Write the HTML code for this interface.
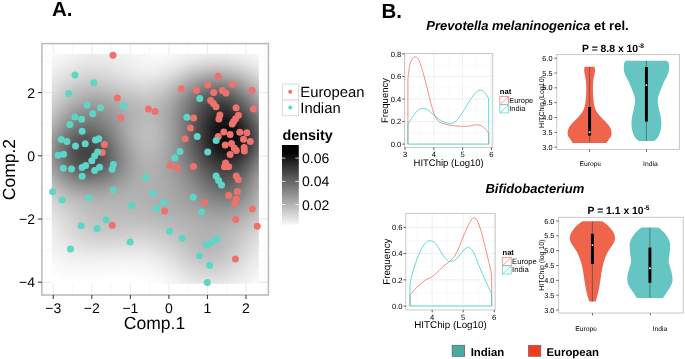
<!DOCTYPE html>
<html><head><meta charset="utf-8"><style>
html,body{margin:0;padding:0;background:#fff;width:685px;height:359px;overflow:hidden}
svg{display:block;will-change:transform}
text{font-family:"Liberation Sans",sans-serif;fill:#000;text-rendering:geometricPrecision}
</style></head><body>
<svg width="685" height="359" viewBox="0 0 685 359">
<defs><linearGradient id="cbg" x1="0" y1="1" x2="0" y2="0"><stop offset="0.00" stop-color="#f8f8f8"/><stop offset="0.10" stop-color="#dddddd"/><stop offset="0.20" stop-color="#c2c2c2"/><stop offset="0.30" stop-color="#a7a7a7"/><stop offset="0.40" stop-color="#8c8c8c"/><stop offset="0.50" stop-color="#717171"/><stop offset="0.60" stop-color="#565656"/><stop offset="0.70" stop-color="#3b3b3b"/><stop offset="0.80" stop-color="#1f1f1f"/><stop offset="0.90" stop-color="#040404"/><stop offset="1.00" stop-color="#000000"/></linearGradient>
<filter id="blr" x="0" y="0" width="1" height="1"><feGaussianBlur stdDeviation="1.6"/></filter>
<clipPath id="rclip"><rect x="51.77" y="53.70" width="207.07" height="229.94"/></clipPath>
</defs>
<rect width="685" height="359" fill="#fff"/>
<text x="52" y="16.2" font-size="20.5" font-weight="bold">A.</text>
<g><line x1="53.28" y1="43.6" x2="53.28" y2="295.0" stroke="#ebebeb" stroke-width="1"/>
<line x1="72.55" y1="43.6" x2="72.55" y2="295.0" stroke="#f2f2f2" stroke-width="0.6"/>
<line x1="91.82" y1="43.6" x2="91.82" y2="295.0" stroke="#ebebeb" stroke-width="1"/>
<line x1="111.09" y1="43.6" x2="111.09" y2="295.0" stroke="#f2f2f2" stroke-width="0.6"/>
<line x1="130.36" y1="43.6" x2="130.36" y2="295.0" stroke="#ebebeb" stroke-width="1"/>
<line x1="149.63" y1="43.6" x2="149.63" y2="295.0" stroke="#f2f2f2" stroke-width="0.6"/>
<line x1="168.90" y1="43.6" x2="168.90" y2="295.0" stroke="#ebebeb" stroke-width="1"/>
<line x1="188.17" y1="43.6" x2="188.17" y2="295.0" stroke="#f2f2f2" stroke-width="0.6"/>
<line x1="207.44" y1="43.6" x2="207.44" y2="295.0" stroke="#ebebeb" stroke-width="1"/>
<line x1="226.71" y1="43.6" x2="226.71" y2="295.0" stroke="#f2f2f2" stroke-width="0.6"/>
<line x1="245.98" y1="43.6" x2="245.98" y2="295.0" stroke="#ebebeb" stroke-width="1"/>
<line x1="265.25" y1="43.6" x2="265.25" y2="295.0" stroke="#f2f2f2" stroke-width="0.6"/>
<line x1="41.9" y1="282.20" x2="268.4" y2="282.20" stroke="#ebebeb" stroke-width="1"/>
<line x1="41.9" y1="250.60" x2="268.4" y2="250.60" stroke="#f2f2f2" stroke-width="0.6"/>
<line x1="41.9" y1="219.00" x2="268.4" y2="219.00" stroke="#ebebeb" stroke-width="1"/>
<line x1="41.9" y1="187.40" x2="268.4" y2="187.40" stroke="#f2f2f2" stroke-width="0.6"/>
<line x1="41.9" y1="155.80" x2="268.4" y2="155.80" stroke="#ebebeb" stroke-width="1"/>
<line x1="41.9" y1="124.20" x2="268.4" y2="124.20" stroke="#f2f2f2" stroke-width="0.6"/>
<line x1="41.9" y1="92.60" x2="268.4" y2="92.60" stroke="#ebebeb" stroke-width="1"/>
<line x1="41.9" y1="61.00" x2="268.4" y2="61.00" stroke="#f2f2f2" stroke-width="0.6"/></g>
<g clip-path="url(#rclip)"><g filter="url(#blr)" shape-rendering="crispEdges"><path fill="#070707" d="M225.8 134.7h3v3h-3z"/>
<path fill="#080808" d="M222.8 134.7h3v3h-3zM225.8 131.7h3v3h-3zM225.8 137.7h3v3h-3zM228.8 134.7h3v6h-3z"/>
<path fill="#090909" d="M222.8 131.7h3v3h-3zM222.8 137.7h3v3h-3zM228.8 131.7h3v3h-3z"/>
<path fill="#0a0a0a" d="M225.8 140.7h3v3h-3zM228.8 140.7h3v3h-3z"/>
<path fill="#0b0b0b" d="M219.8 134.7h3v3h-3zM222.8 128.7h3v3h-3zM222.8 140.7h3v3h-3zM225.8 128.7h3v3h-3zM231.8 134.7h3v6h-3z"/>
<path fill="#0c0c0c" d="M219.8 131.7h3v3h-3zM219.8 137.7h3v3h-3zM228.8 128.7h3v3h-3zM231.8 131.7h3v3h-3z"/>
<path fill="#0d0d0d" d="M225.8 143.7h3v3h-3zM228.8 143.7h3v3h-3zM231.8 140.7h3v3h-3z"/>
<path fill="#0e0e0e" d="M219.8 128.7h3v3h-3zM219.8 140.7h3v3h-3zM222.8 125.7h3v3h-3zM222.8 143.7h3v3h-3zM225.8 125.7h3v3h-3z"/>
<path fill="#0f0f0f" d="M231.8 128.7h3v3h-3z"/>
<path fill="#101010" d="M216.8 131.7h3v9h-3zM219.8 125.7h3v3h-3zM228.8 125.7h3v3h-3zM231.8 143.7h3v3h-3zM234.8 134.7h3v6h-3z"/>
<path fill="#111111" d="M219.8 143.7h3v3h-3zM225.8 146.7h3v3h-3zM234.8 131.7h3v3h-3z"/>
<path fill="#121212" d="M216.8 128.7h3v3h-3zM216.8 140.7h3v3h-3zM222.8 146.7h3v3h-3zM228.8 146.7h3v3h-3zM234.8 140.7h3v3h-3z"/>
<path fill="#131313" d="M222.8 122.7h3v3h-3zM225.8 122.7h3v3h-3zM231.8 125.7h3v3h-3z"/>
<path fill="#141414" d="M216.8 125.7h3v3h-3zM219.8 122.7h3v3h-3zM234.8 128.7h3v3h-3z"/>
<path fill="#151515" d="M213.8 134.7h3v3h-3zM216.8 143.7h3v3h-3zM219.8 146.7h3v3h-3zM228.8 122.7h3v3h-3zM231.8 146.7h3v3h-3zM234.8 143.7h3v3h-3z"/>
<path fill="#161616" d="M213.8 131.7h3v3h-3zM213.8 137.7h3v3h-3z"/>
<path fill="#171717" d="M213.8 128.7h3v3h-3zM216.8 122.7h3v3h-3zM225.8 149.7h3v3h-3zM237.8 134.7h3v6h-3z"/>
<path fill="#181818" d="M213.8 140.7h3v3h-3zM222.8 119.7h3v3h-3zM222.8 149.7h3v3h-3zM225.8 119.7h3v3h-3zM228.8 149.7h3v3h-3zM231.8 122.7h3v3h-3zM237.8 131.7h3v3h-3zM237.8 140.7h3v3h-3z"/>
<path fill="#191919" d="M213.8 125.7h3v3h-3zM216.8 146.7h3v3h-3zM219.8 119.7h3v3h-3zM234.8 125.7h3v3h-3zM234.8 146.7h3v3h-3z"/>
<path fill="#1a1a1a" d="M219.8 149.7h3v3h-3zM228.8 119.7h3v3h-3zM231.8 149.7h3v3h-3z"/>
<path fill="#1b1b1b" d="M213.8 143.7h3v3h-3zM237.8 128.7h3v3h-3zM237.8 143.7h3v3h-3z"/>
<path fill="#1c1c1c" d="M213.8 122.7h3v3h-3zM216.8 119.7h3v3h-3z"/>
<path fill="#1d1d1d" d="M210.8 131.7h3v6h-3zM222.8 116.7h3v3h-3zM225.8 152.7h3v3h-3z"/>
<path fill="#1e1e1e" d="M210.8 128.7h3v3h-3zM210.8 137.7h3v3h-3zM216.8 149.7h3v3h-3zM219.8 116.7h3v3h-3zM222.8 152.7h3v3h-3zM225.8 116.7h3v3h-3zM228.8 152.7h3v3h-3zM234.8 122.7h3v3h-3z"/>
<path fill="#1f1f1f" d="M210.8 140.7h3v3h-3zM213.8 146.7h3v3h-3zM231.8 119.7h3v3h-3zM234.8 149.7h3v3h-3zM240.8 134.7h3v6h-3z"/>
<path fill="#202020" d="M210.8 125.7h3v3h-3zM213.8 119.7h3v3h-3zM216.8 116.7h3v3h-3zM219.8 152.7h3v3h-3zM237.8 125.7h3v3h-3zM237.8 146.7h3v3h-3zM240.8 140.7h3v3h-3z"/>
<path fill="#212121" d="M228.8 116.7h3v3h-3zM231.8 152.7h3v3h-3zM240.8 131.7h3v3h-3z"/>
<path fill="#222222" d="M210.8 122.7h3v3h-3zM210.8 143.7h3v3h-3z"/>
<path fill="#232323" d="M222.8 113.7h3v3h-3zM240.8 143.7h3v3h-3z"/>
<path fill="#242424" d="M213.8 116.7h3v3h-3zM213.8 149.7h3v3h-3zM216.8 152.7h3v3h-3zM219.8 113.7h3v3h-3zM225.8 155.7h3v3h-3zM234.8 119.7h3v3h-3zM240.8 128.7h3v3h-3z"/>
<path fill="#252525" d="M207.8 131.7h3v6h-3zM210.8 119.7h3v3h-3zM216.8 113.7h3v3h-3zM222.8 155.7h3v3h-3zM225.8 113.7h3v3h-3zM228.8 155.7h3v3h-3zM231.8 116.7h3v3h-3zM237.8 122.7h3v3h-3zM237.8 149.7h3v3h-3z"/>
<path fill="#262626" d="M207.8 128.7h3v3h-3zM207.8 137.7h3v3h-3zM210.8 146.7h3v3h-3zM234.8 152.7h3v3h-3z"/>
<path fill="#272727" d="M207.8 125.7h3v3h-3zM219.8 155.7h3v3h-3z"/>
<path fill="#282828" d="M207.8 140.7h3v3h-3zM228.8 113.7h3v3h-3zM231.8 155.7h3v3h-3zM240.8 125.7h3v3h-3zM240.8 146.7h3v3h-3z"/>
<path fill="#292929" d="M207.8 122.7h3v3h-3zM210.8 116.7h3v3h-3zM213.8 113.7h3v3h-3zM213.8 152.7h3v3h-3zM243.8 134.7h3v6h-3z"/>
<path fill="#2a2a2a" d="M207.8 143.7h3v3h-3zM210.8 149.7h3v3h-3zM216.8 155.7h3v3h-3zM219.8 110.7h3v3h-3zM222.8 110.7h3v3h-3zM243.8 140.7h3v3h-3z"/>
<path fill="#2b2b2b" d="M216.8 110.7h3v3h-3zM225.8 158.7h3v3h-3zM234.8 116.7h3v3h-3zM243.8 131.7h3v3h-3z"/>
<path fill="#2c2c2c" d="M207.8 119.7h3v3h-3zM222.8 158.7h3v3h-3zM225.8 110.7h3v3h-3zM237.8 119.7h3v3h-3zM237.8 152.7h3v3h-3z"/>
<path fill="#2d2d2d" d="M210.8 113.7h3v3h-3zM228.8 158.7h3v3h-3zM231.8 113.7h3v3h-3zM234.8 155.7h3v3h-3zM243.8 143.7h3v3h-3z"/>
<path fill="#2e2e2e" d="M204.8 128.7h3v9h-3zM207.8 146.7h3v3h-3zM213.8 110.7h3v3h-3zM219.8 158.7h3v3h-3zM240.8 122.7h3v3h-3zM240.8 149.7h3v3h-3zM243.8 128.7h3v3h-3z"/>
<path fill="#2f2f2f" d="M204.8 137.7h3v3h-3zM207.8 116.7h3v3h-3zM213.8 155.7h3v3h-3zM228.8 110.7h3v3h-3z"/>
<path fill="#303030" d="M204.8 125.7h3v3h-3zM210.8 152.7h3v3h-3zM231.8 158.7h3v3h-3z"/>
<path fill="#313131" d="M204.8 140.7h3v3h-3zM216.8 158.7h3v3h-3zM219.8 107.7h3v3h-3zM222.8 107.7h3v3h-3z"/>
<path fill="#323232" d="M204.8 122.7h3v3h-3zM207.8 149.7h3v3h-3zM210.8 110.7h3v3h-3zM216.8 107.7h3v3h-3zM243.8 146.7h3v3h-3z"/>
<path fill="#333333" d="M204.8 143.7h3v3h-3zM207.8 113.7h3v3h-3zM222.8 161.7h3v3h-3zM225.8 107.7h3v3h-3zM225.8 161.7h3v3h-3zM234.8 113.7h3v3h-3zM237.8 116.7h3v3h-3zM237.8 155.7h3v3h-3zM243.8 125.7h3v3h-3z"/>
<path fill="#343434" d="M204.8 119.7h3v3h-3zM213.8 107.7h3v3h-3zM228.8 161.7h3v3h-3zM231.8 110.7h3v3h-3zM240.8 152.7h3v3h-3z"/>
<path fill="#353535" d="M210.8 155.7h3v3h-3zM213.8 158.7h3v3h-3zM219.8 161.7h3v3h-3zM234.8 158.7h3v3h-3zM240.8 119.7h3v3h-3zM246.8 134.7h3v6h-3z"/>
<path fill="#363636" d="M204.8 146.7h3v3h-3zM246.8 140.7h3v3h-3z"/>
<path fill="#373737" d="M201.8 131.7h3v3h-3zM204.8 116.7h3v3h-3zM207.8 152.7h3v3h-3zM228.8 107.7h3v3h-3zM231.8 161.7h3v3h-3zM243.8 149.7h3v3h-3zM246.8 131.7h3v3h-3z"/>
<path fill="#383838" d="M201.8 128.7h3v3h-3zM201.8 134.7h3v3h-3zM207.8 110.7h3v3h-3zM210.8 107.7h3v3h-3zM216.8 104.7h3v3h-3zM216.8 161.7h3v3h-3zM219.8 104.7h3v3h-3zM243.8 122.7h3v3h-3z"/>
<path fill="#393939" d="M201.8 125.7h3v3h-3zM201.8 137.7h3v3h-3zM222.8 104.7h3v3h-3zM246.8 143.7h3v3h-3z"/>
<path fill="#3a3a3a" d="M201.8 122.7h3v3h-3zM201.8 140.7h3v3h-3zM204.8 113.7h3v3h-3zM204.8 149.7h3v3h-3zM213.8 104.7h3v3h-3zM222.8 164.7h3v3h-3zM225.8 164.7h3v3h-3zM237.8 113.7h3v3h-3zM246.8 128.7h3v3h-3z"/>
<path fill="#3b3b3b" d="M210.8 158.7h3v3h-3zM219.8 164.7h3v3h-3zM225.8 104.7h3v3h-3zM234.8 110.7h3v3h-3zM237.8 158.7h3v3h-3zM240.8 155.7h3v3h-3z"/>
<path fill="#3c3c3c" d="M201.8 143.7h3v3h-3zM207.8 107.7h3v3h-3zM207.8 155.7h3v3h-3zM213.8 161.7h3v3h-3zM228.8 164.7h3v3h-3zM231.8 107.7h3v3h-3zM234.8 161.7h3v3h-3zM240.8 116.7h3v3h-3z"/>
<path fill="#3d3d3d" d="M201.8 119.7h3v3h-3zM210.8 104.7h3v3h-3zM246.8 146.7h3v3h-3z"/>
<path fill="#3e3e3e" d="M204.8 110.7h3v3h-3zM216.8 164.7h3v3h-3zM243.8 152.7h3v3h-3zM246.8 125.7h3v3h-3z"/>
<path fill="#3f3f3f" d="M201.8 116.7h3v3h-3zM201.8 146.7h3v3h-3zM204.8 152.7h3v3h-3zM228.8 104.7h3v3h-3zM231.8 164.7h3v3h-3zM243.8 119.7h3v3h-3z"/>
<path fill="#404040" d="M216.8 101.7h3v3h-3zM219.8 101.7h3v3h-3z"/>
<path fill="#414141" d="M207.8 158.7h3v3h-3zM210.8 161.7h3v3h-3zM213.8 101.7h3v3h-3zM222.8 101.7h3v3h-3zM222.8 167.7h3v3h-3zM225.8 167.7h3v3h-3zM249.8 137.7h3v3h-3z"/>
<path fill="#424242" d="M198.8 128.7h3v9h-3zM201.8 113.7h3v3h-3zM204.8 107.7h3v3h-3zM207.8 104.7h3v3h-3zM213.8 164.7h3v3h-3zM219.8 167.7h3v3h-3zM237.8 110.7h3v3h-3zM246.8 149.7h3v3h-3zM249.8 134.7h3v3h-3zM249.8 140.7h3v3h-3z"/>
<path fill="#434343" d="M84.8 149.7h3v6h-3zM87.8 152.7h3v3h-3zM198.8 125.7h3v3h-3zM198.8 137.7h3v3h-3zM201.8 149.7h3v3h-3zM204.8 155.7h3v3h-3zM228.8 167.7h3v3h-3zM234.8 107.7h3v3h-3zM237.8 161.7h3v3h-3zM240.8 113.7h3v3h-3zM240.8 158.7h3v3h-3zM249.8 131.7h3v3h-3z"/>
<path fill="#444444" d="M81.8 152.7h3v3h-3zM84.8 155.7h3v3h-3zM87.8 149.7h3v3h-3zM87.8 155.7h3v3h-3zM198.8 122.7h3v3h-3zM198.8 140.7h3v3h-3zM210.8 101.7h3v3h-3zM225.8 101.7h3v3h-3zM234.8 164.7h3v3h-3zM246.8 122.7h3v3h-3z"/>
<path fill="#454545" d="M81.8 149.7h3v3h-3zM81.8 155.7h3v3h-3zM90.8 149.7h3v9h-3zM201.8 110.7h3v3h-3zM216.8 167.7h3v3h-3zM231.8 104.7h3v3h-3zM243.8 155.7h3v3h-3zM249.8 143.7h3v3h-3z"/>
<path fill="#464646" d="M84.8 146.7h3v3h-3zM87.8 146.7h3v3h-3zM198.8 119.7h3v3h-3zM198.8 143.7h3v3h-3zM231.8 167.7h3v3h-3zM243.8 116.7h3v3h-3zM249.8 128.7h3v3h-3z"/>
<path fill="#474747" d="M78.8 149.7h3v6h-3zM81.8 146.7h3v3h-3zM84.8 158.7h3v3h-3zM87.8 158.7h3v3h-3zM201.8 152.7h3v3h-3zM204.8 104.7h3v3h-3zM207.8 161.7h3v3h-3zM210.8 164.7h3v3h-3z"/>
<path fill="#484848" d="M78.8 155.7h3v3h-3zM81.8 158.7h3v3h-3zM90.8 146.7h3v3h-3zM90.8 158.7h3v3h-3zM93.8 152.7h3v6h-3zM198.8 116.7h3v3h-3zM207.8 101.7h3v3h-3zM213.8 167.7h3v3h-3zM216.8 98.7h3v3h-3zM219.8 98.7h3v3h-3zM222.8 170.7h3v3h-3zM225.8 170.7h3v3h-3zM228.8 101.7h3v3h-3z"/>
<path fill="#494949" d="M78.8 146.7h3v3h-3zM84.8 143.7h3v3h-3zM93.8 149.7h3v3h-3zM198.8 146.7h3v3h-3zM201.8 107.7h3v3h-3zM204.8 158.7h3v3h-3zM213.8 98.7h3v3h-3zM219.8 170.7h3v3h-3zM246.8 152.7h3v3h-3zM249.8 146.7h3v3h-3z"/>
<path fill="#4a4a4a" d="M81.8 143.7h3v3h-3zM87.8 143.7h3v3h-3zM198.8 113.7h3v3h-3zM222.8 98.7h3v3h-3zM228.8 170.7h3v3h-3zM237.8 164.7h3v3h-3zM240.8 161.7h3v3h-3zM246.8 119.7h3v3h-3z"/>
<path fill="#4b4b4b" d="M75.8 152.7h3v3h-3zM78.8 158.7h3v3h-3zM84.8 161.7h3v3h-3zM87.8 161.7h3v3h-3zM93.8 146.7h3v3h-3zM93.8 158.7h3v3h-3zM201.8 155.7h3v3h-3zM216.8 170.7h3v3h-3zM234.8 104.7h3v3h-3zM234.8 167.7h3v3h-3zM237.8 107.7h3v3h-3zM240.8 110.7h3v3h-3zM249.8 125.7h3v3h-3z"/>
<path fill="#4c4c4c" d="M75.8 149.7h3v3h-3zM90.8 143.7h3v3h-3zM90.8 161.7h3v3h-3zM96.8 152.7h3v3h-3zM195.8 128.7h3v9h-3zM198.8 149.7h3v3h-3zM210.8 98.7h3v3h-3zM243.8 158.7h3v3h-3z"/>
<path fill="#4d4d4d" d="M75.8 146.7h3v3h-3zM75.8 155.7h3v3h-3zM78.8 143.7h3v3h-3zM81.8 161.7h3v3h-3zM96.8 149.7h3v3h-3zM96.8 155.7h3v3h-3zM195.8 125.7h3v3h-3zM195.8 137.7h3v3h-3zM198.8 110.7h3v3h-3zM204.8 101.7h3v3h-3zM207.8 164.7h3v3h-3zM210.8 167.7h3v3h-3zM225.8 98.7h3v3h-3zM231.8 170.7h3v3h-3zM243.8 113.7h3v3h-3z"/>
<path fill="#4e4e4e" d="M84.8 140.7h3v3h-3zM87.8 140.7h3v3h-3zM195.8 122.7h3v3h-3zM195.8 140.7h3v3h-3zM201.8 104.7h3v3h-3zM204.8 161.7h3v3h-3zM222.8 173.7h3v3h-3zM231.8 101.7h3v3h-3zM249.8 149.7h3v3h-3z"/>
<path fill="#4f4f4f" d="M81.8 140.7h3v3h-3zM93.8 143.7h3v3h-3zM93.8 161.7h3v3h-3zM96.8 158.7h3v3h-3zM195.8 119.7h3v3h-3zM207.8 98.7h3v3h-3zM213.8 170.7h3v3h-3zM219.8 173.7h3v3h-3zM225.8 173.7h3v3h-3zM246.8 155.7h3v3h-3zM252.8 134.7h3v6h-3z"/>
<path fill="#505050" d="M75.8 158.7h3v3h-3zM78.8 161.7h3v3h-3zM90.8 140.7h3v3h-3zM96.8 146.7h3v3h-3zM195.8 143.7h3v3h-3zM198.8 152.7h3v3h-3zM201.8 158.7h3v3h-3zM249.8 122.7h3v3h-3zM252.8 140.7h3v3h-3z"/>
<path fill="#515151" d="M72.8 149.7h3v6h-3zM75.8 143.7h3v3h-3zM78.8 140.7h3v3h-3zM87.8 164.7h3v3h-3zM195.8 116.7h3v3h-3zM198.8 107.7h3v3h-3zM216.8 95.7h3v3h-3zM216.8 173.7h3v3h-3zM228.8 98.7h3v3h-3zM228.8 173.7h3v3h-3zM237.8 167.7h3v3h-3zM246.8 116.7h3v3h-3zM252.8 131.7h3v3h-3z"/>
<path fill="#525252" d="M72.8 155.7h3v3h-3zM84.8 164.7h3v3h-3zM90.8 164.7h3v3h-3zM99.8 152.7h3v6h-3zM195.8 146.7h3v3h-3zM213.8 95.7h3v3h-3zM219.8 95.7h3v3h-3zM234.8 170.7h3v3h-3zM240.8 164.7h3v3h-3z"/>
<path fill="#535353" d="M72.8 146.7h3v3h-3zM81.8 164.7h3v3h-3zM84.8 137.7h3v3h-3zM96.8 161.7h3v3h-3zM99.8 149.7h3v3h-3zM195.8 113.7h3v3h-3zM201.8 101.7h3v3h-3zM204.8 164.7h3v3h-3zM207.8 167.7h3v3h-3zM210.8 170.7h3v3h-3zM237.8 104.7h3v3h-3zM252.8 143.7h3v3h-3z"/>
<path fill="#545454" d="M75.8 161.7h3v3h-3zM81.8 137.7h3v3h-3zM87.8 137.7h3v3h-3zM93.8 140.7h3v3h-3zM96.8 143.7h3v3h-3zM99.8 158.7h3v3h-3zM198.8 155.7h3v3h-3zM204.8 98.7h3v3h-3zM210.8 95.7h3v3h-3zM222.8 95.7h3v3h-3zM231.8 173.7h3v3h-3zM234.8 101.7h3v3h-3zM240.8 107.7h3v3h-3zM243.8 161.7h3v3h-3zM249.8 152.7h3v3h-3zM252.8 128.7h3v3h-3z"/>
<path fill="#555555" d="M72.8 158.7h3v3h-3zM75.8 140.7h3v3h-3zM93.8 164.7h3v3h-3zM195.8 149.7h3v3h-3zM198.8 104.7h3v3h-3zM201.8 161.7h3v3h-3zM213.8 173.7h3v3h-3zM219.8 176.7h3v3h-3zM222.8 176.7h3v3h-3zM225.8 176.7h3v3h-3zM243.8 110.7h3v3h-3z"/>
<path fill="#565656" d="M72.8 143.7h3v3h-3zM78.8 137.7h3v3h-3zM78.8 164.7h3v3h-3zM90.8 137.7h3v3h-3zM99.8 146.7h3v3h-3zM192.8 131.7h3v3h-3zM195.8 110.7h3v3h-3zM249.8 119.7h3v3h-3zM252.8 146.7h3v3h-3z"/>
<path fill="#575757" d="M192.8 125.7h3v6h-3zM192.8 134.7h3v6h-3zM207.8 95.7h3v3h-3zM225.8 95.7h3v3h-3zM228.8 176.7h3v3h-3zM231.8 98.7h3v3h-3zM246.8 158.7h3v3h-3z"/>
<path fill="#585858" d="M69.8 149.7h3v6h-3zM96.8 140.7h3v3h-3zM96.8 164.7h3v3h-3zM99.8 161.7h3v3h-3zM192.8 122.7h3v3h-3zM192.8 140.7h3v3h-3zM195.8 152.7h3v3h-3zM198.8 158.7h3v3h-3zM207.8 170.7h3v3h-3zM216.8 176.7h3v3h-3zM237.8 170.7h3v3h-3zM246.8 113.7h3v3h-3zM252.8 125.7h3v3h-3z"/>
<path fill="#595959" d="M69.8 146.7h3v3h-3zM69.8 155.7h3v3h-3zM84.8 134.7h3v3h-3zM87.8 167.7h3v3h-3zM93.8 137.7h3v3h-3zM99.8 143.7h3v3h-3zM102.8 152.7h3v6h-3zM192.8 119.7h3v3h-3zM195.8 107.7h3v3h-3zM204.8 167.7h3v3h-3zM210.8 173.7h3v3h-3zM234.8 173.7h3v3h-3zM240.8 167.7h3v3h-3z"/>
<path fill="#5a5a5a" d="M72.8 140.7h3v3h-3zM72.8 161.7h3v3h-3zM75.8 137.7h3v3h-3zM75.8 164.7h3v3h-3zM81.8 134.7h3v3h-3zM84.8 167.7h3v3h-3zM87.8 134.7h3v3h-3zM90.8 167.7h3v3h-3zM102.8 149.7h3v3h-3zM102.8 158.7h3v3h-3zM192.8 143.7h3v3h-3zM198.8 101.7h3v3h-3zM201.8 98.7h3v3h-3zM201.8 164.7h3v3h-3zM231.8 176.7h3v3h-3z"/>
<path fill="#5b5b5b" d="M81.8 167.7h3v3h-3zM192.8 116.7h3v3h-3zM213.8 176.7h3v3h-3zM216.8 92.7h3v3h-3zM222.8 179.7h3v3h-3zM225.8 179.7h3v3h-3zM228.8 95.7h3v3h-3zM243.8 164.7h3v3h-3zM249.8 155.7h3v3h-3zM252.8 149.7h3v3h-3z"/>
<path fill="#5c5c5c" d="M69.8 143.7h3v3h-3zM69.8 158.7h3v3h-3zM90.8 134.7h3v3h-3zM93.8 167.7h3v3h-3zM192.8 146.7h3v3h-3zM195.8 155.7h3v3h-3zM204.8 95.7h3v3h-3zM213.8 92.7h3v3h-3zM219.8 92.7h3v3h-3zM219.8 179.7h3v3h-3zM237.8 101.7h3v3h-3zM240.8 104.7h3v3h-3z"/>
<path fill="#5d5d5d" d="M78.8 134.7h3v3h-3zM96.8 137.7h3v3h-3zM99.8 164.7h3v3h-3zM102.8 146.7h3v3h-3zM192.8 113.7h3v3h-3zM195.8 104.7h3v3h-3zM198.8 161.7h3v3h-3zM210.8 92.7h3v3h-3zM228.8 179.7h3v3h-3zM234.8 98.7h3v3h-3zM243.8 107.7h3v3h-3zM249.8 116.7h3v3h-3zM252.8 122.7h3v3h-3zM255.8 134.7h3v6h-3zM258.8 134.7h3v6h-3zM261.8 134.7h3v6h-3z"/>
<path fill="#5e5e5e" d="M78.8 167.7h3v3h-3zM99.8 140.7h3v3h-3zM102.8 161.7h3v3h-3zM192.8 149.7h3v3h-3zM204.8 170.7h3v3h-3zM207.8 173.7h3v3h-3zM216.8 179.7h3v3h-3zM222.8 92.7h3v3h-3zM246.8 161.7h3v3h-3zM255.8 140.7h3v3h-3zM258.8 140.7h3v3h-3zM261.8 140.7h3v3h-3z"/>
<path fill="#5f5f5f" d="M72.8 137.7h3v3h-3zM93.8 134.7h3v3h-3zM96.8 167.7h3v3h-3zM192.8 110.7h3v3h-3zM201.8 167.7h3v3h-3zM210.8 176.7h3v3h-3zM234.8 176.7h3v3h-3zM237.8 173.7h3v3h-3zM255.8 131.7h3v3h-3zM258.8 131.7h3v3h-3zM261.8 131.7h3v3h-3z"/>
<path fill="#606060" d="M66.8 149.7h3v6h-3zM69.8 140.7h3v3h-3zM69.8 161.7h3v3h-3zM72.8 164.7h3v3h-3zM75.8 134.7h3v3h-3zM84.8 131.7h3v3h-3zM87.8 131.7h3v3h-3zM102.8 143.7h3v3h-3zM105.8 152.7h3v6h-3zM195.8 158.7h3v3h-3zM198.8 98.7h3v3h-3zM207.8 92.7h3v3h-3zM213.8 179.7h3v3h-3zM231.8 179.7h3v3h-3zM240.8 170.7h3v3h-3zM246.8 110.7h3v3h-3zM255.8 143.7h3v3h-3zM258.8 143.7h3v3h-3zM261.8 143.7h3v3h-3z"/>
<path fill="#616161" d="M66.8 146.7h3v3h-3zM66.8 155.7h3v3h-3zM81.8 131.7h3v3h-3zM189.8 125.7h3v12h-3zM192.8 152.7h3v3h-3zM198.8 164.7h3v3h-3zM201.8 95.7h3v3h-3zM222.8 182.7h3v3h-3zM225.8 92.7h3v3h-3zM225.8 182.7h3v3h-3zM231.8 95.7h3v3h-3zM252.8 152.7h3v3h-3z"/>
<path fill="#626262" d="M75.8 167.7h3v3h-3zM87.8 170.7h3v3h-3zM90.8 131.7h3v3h-3zM102.8 164.7h3v3h-3zM105.8 149.7h3v3h-3zM105.8 158.7h3v3h-3zM189.8 122.7h3v3h-3zM189.8 137.7h3v3h-3zM192.8 107.7h3v3h-3zM195.8 101.7h3v3h-3zM219.8 182.7h3v3h-3zM243.8 167.7h3v3h-3zM249.8 158.7h3v3h-3zM255.8 128.7h3v3h-3zM258.8 128.7h3v3h-3zM261.8 128.7h3v3h-3z"/>
<path fill="#636363" d="M78.8 131.7h3v3h-3zM84.8 170.7h3v3h-3zM90.8 170.7h3v3h-3zM96.8 134.7h3v3h-3zM99.8 137.7h3v3h-3zM99.8 167.7h3v3h-3zM189.8 119.7h3v3h-3zM189.8 140.7h3v3h-3zM207.8 176.7h3v3h-3zM216.8 182.7h3v3h-3zM228.8 182.7h3v3h-3zM252.8 119.7h3v3h-3z"/>
<path fill="#646464" d="M66.8 143.7h3v3h-3zM66.8 158.7h3v3h-3zM81.8 170.7h3v3h-3zM93.8 170.7h3v3h-3zM105.8 146.7h3v3h-3zM105.8 161.7h3v3h-3zM189.8 116.7h3v3h-3zM189.8 143.7h3v3h-3zM192.8 155.7h3v3h-3zM195.8 161.7h3v3h-3zM201.8 170.7h3v3h-3zM204.8 92.7h3v3h-3zM204.8 173.7h3v3h-3zM210.8 179.7h3v3h-3zM249.8 113.7h3v3h-3zM255.8 146.7h3v3h-3zM258.8 146.7h3v3h-3zM261.8 146.7h3v3h-3z"/>
<path fill="#656565" d="M69.8 137.7h3v3h-3zM72.8 134.7h3v3h-3zM93.8 131.7h3v3h-3zM102.8 140.7h3v3h-3zM189.8 146.7h3v3h-3zM228.8 92.7h3v3h-3zM234.8 179.7h3v3h-3zM237.8 98.7h3v3h-3zM237.8 176.7h3v3h-3zM240.8 101.7h3v3h-3zM246.8 164.7h3v3h-3z"/>
<path fill="#666666" d="M69.8 164.7h3v3h-3zM189.8 113.7h3v3h-3zM192.8 104.7h3v3h-3zM198.8 167.7h3v3h-3zM213.8 89.7h3v3h-3zM213.8 182.7h3v3h-3zM216.8 89.7h3v3h-3zM231.8 182.7h3v3h-3zM240.8 173.7h3v3h-3zM243.8 104.7h3v3h-3zM255.8 125.7h3v3h-3zM258.8 125.7h3v3h-3zM261.8 125.7h3v3h-3z"/>
<path fill="#676767" d="M72.8 167.7h3v3h-3zM75.8 131.7h3v3h-3zM78.8 170.7h3v3h-3zM84.8 128.7h3v3h-3zM87.8 128.7h3v3h-3zM96.8 170.7h3v3h-3zM189.8 149.7h3v3h-3zM195.8 98.7h3v3h-3zM198.8 95.7h3v3h-3zM219.8 89.7h3v3h-3zM222.8 185.7h3v3h-3zM225.8 185.7h3v3h-3zM234.8 95.7h3v3h-3z"/>
<path fill="#686868" d="M63.8 149.7h3v6h-3zM66.8 140.7h3v3h-3zM66.8 161.7h3v3h-3zM81.8 128.7h3v3h-3zM90.8 128.7h3v3h-3zM99.8 134.7h3v3h-3zM102.8 167.7h3v3h-3zM105.8 143.7h3v3h-3zM108.8 155.7h3v3h-3zM189.8 110.7h3v3h-3zM192.8 158.7h3v3h-3zM210.8 89.7h3v3h-3zM219.8 185.7h3v3h-3zM243.8 170.7h3v3h-3zM246.8 107.7h3v3h-3zM252.8 155.7h3v3h-3z"/>
<path fill="#696969" d="M96.8 131.7h3v3h-3zM102.8 137.7h3v3h-3zM105.8 164.7h3v3h-3zM108.8 152.7h3v3h-3zM108.8 158.7h3v3h-3zM195.8 164.7h3v3h-3zM201.8 92.7h3v3h-3zM201.8 173.7h3v3h-3zM204.8 176.7h3v3h-3zM207.8 179.7h3v3h-3zM216.8 185.7h3v3h-3zM222.8 89.7h3v3h-3zM228.8 185.7h3v3h-3zM249.8 161.7h3v3h-3zM255.8 149.7h3v3h-3zM258.8 149.7h3v3h-3zM261.8 149.7h3v3h-3z"/>
<path fill="#6a6a6a" d="M63.8 146.7h3v3h-3zM63.8 155.7h3v3h-3zM78.8 128.7h3v3h-3zM108.8 149.7h3v3h-3zM189.8 152.7h3v3h-3zM192.8 101.7h3v3h-3zM207.8 89.7h3v3h-3zM210.8 182.7h3v3h-3zM234.8 182.7h3v3h-3zM237.8 179.7h3v3h-3zM252.8 116.7h3v3h-3z"/>
<path fill="#6b6b6b" d="M69.8 134.7h3v3h-3zM72.8 131.7h3v3h-3zM75.8 170.7h3v3h-3zM93.8 128.7h3v3h-3zM99.8 170.7h3v3h-3zM186.8 128.7h3v9h-3zM189.8 107.7h3v3h-3zM198.8 170.7h3v3h-3zM231.8 92.7h3v3h-3zM249.8 110.7h3v3h-3zM255.8 122.7h3v3h-3zM258.8 122.7h3v3h-3zM261.8 122.7h3v3h-3z"/>
<path fill="#6c6c6c" d="M63.8 143.7h3v3h-3zM63.8 158.7h3v3h-3zM66.8 137.7h3v3h-3zM84.8 173.7h3v3h-3zM87.8 173.7h3v3h-3zM90.8 173.7h3v3h-3zM105.8 140.7h3v3h-3zM108.8 161.7h3v3h-3zM186.8 122.7h3v6h-3zM186.8 137.7h3v6h-3zM192.8 161.7h3v3h-3zM213.8 185.7h3v3h-3zM225.8 89.7h3v3h-3zM231.8 185.7h3v3h-3zM240.8 176.7h3v3h-3zM246.8 167.7h3v3h-3z"/>
<path fill="#6d6d6d" d="M66.8 164.7h3v3h-3zM69.8 167.7h3v3h-3zM75.8 128.7h3v3h-3zM84.8 125.7h3v3h-3zM87.8 125.7h3v3h-3zM108.8 146.7h3v3h-3zM186.8 119.7h3v3h-3zM186.8 143.7h3v3h-3zM189.8 155.7h3v3h-3zM195.8 167.7h3v3h-3zM222.8 188.7h3v3h-3z"/>
<path fill="#6e6e6e" d="M81.8 125.7h3v3h-3zM81.8 173.7h3v3h-3zM93.8 173.7h3v3h-3zM99.8 131.7h3v3h-3zM102.8 134.7h3v3h-3zM105.8 167.7h3v3h-3zM186.8 116.7h3v3h-3zM189.8 104.7h3v3h-3zM195.8 95.7h3v3h-3zM201.8 176.7h3v3h-3zM204.8 89.7h3v3h-3zM204.8 179.7h3v3h-3zM207.8 182.7h3v3h-3zM219.8 188.7h3v3h-3zM225.8 188.7h3v3h-3zM240.8 98.7h3v3h-3zM243.8 101.7h3v3h-3zM243.8 173.7h3v3h-3zM252.8 158.7h3v3h-3zM255.8 152.7h3v3h-3zM258.8 152.7h3v3h-3zM261.8 152.7h3v3h-3z"/>
<path fill="#6f6f6f" d="M72.8 170.7h3v3h-3zM90.8 125.7h3v3h-3zM96.8 128.7h3v3h-3zM186.8 113.7h3v3h-3zM186.8 146.7h3v3h-3zM192.8 98.7h3v3h-3zM198.8 92.7h3v3h-3zM210.8 185.7h3v3h-3zM216.8 188.7h3v3h-3zM228.8 188.7h3v3h-3zM237.8 95.7h3v3h-3z"/>
<path fill="#707070" d="M63.8 140.7h3v3h-3zM63.8 161.7h3v3h-3zM78.8 173.7h3v3h-3zM96.8 173.7h3v3h-3zM102.8 170.7h3v3h-3zM108.8 143.7h3v3h-3zM108.8 164.7h3v3h-3zM186.8 149.7h3v3h-3zM189.8 158.7h3v3h-3zM192.8 164.7h3v3h-3zM198.8 173.7h3v3h-3zM228.8 89.7h3v3h-3zM234.8 185.7h3v3h-3zM237.8 182.7h3v3h-3zM246.8 104.7h3v3h-3zM249.8 164.7h3v3h-3zM252.8 113.7h3v3h-3zM255.8 119.7h3v3h-3zM258.8 119.7h3v3h-3zM261.8 119.7h3v3h-3z"/>
<path fill="#717171" d="M69.8 131.7h3v3h-3zM78.8 125.7h3v3h-3zM93.8 125.7h3v3h-3zM105.8 137.7h3v3h-3zM111.8 155.7h3v3h-3zM186.8 110.7h3v3h-3zM195.8 170.7h3v3h-3zM216.8 86.7h3v3h-3zM234.8 92.7h3v3h-3zM240.8 179.7h3v3h-3z"/>
<path fill="#727272" d="M60.8 149.7h3v6h-3zM66.8 134.7h3v3h-3zM72.8 128.7h3v3h-3zM111.8 152.7h3v3h-3zM111.8 158.7h3v3h-3zM186.8 152.7h3v3h-3zM189.8 101.7h3v3h-3zM201.8 89.7h3v3h-3zM213.8 86.7h3v3h-3zM213.8 188.7h3v3h-3zM219.8 86.7h3v3h-3zM231.8 188.7h3v3h-3zM246.8 170.7h3v3h-3z"/>
<path fill="#737373" d="M60.8 146.7h3v3h-3zM60.8 155.7h3v3h-3zM99.8 128.7h3v3h-3zM99.8 173.7h3v3h-3zM111.8 149.7h3v3h-3zM189.8 161.7h3v3h-3zM201.8 179.7h3v3h-3zM204.8 182.7h3v3h-3zM207.8 185.7h3v3h-3zM210.8 86.7h3v3h-3zM222.8 191.7h3v3h-3zM249.8 107.7h3v3h-3z"/>
<path fill="#747474" d="M63.8 137.7h3v3h-3zM66.8 167.7h3v3h-3zM75.8 125.7h3v3h-3zM75.8 173.7h3v3h-3zM84.8 122.7h3v3h-3zM87.8 122.7h3v3h-3zM96.8 125.7h3v3h-3zM102.8 131.7h3v3h-3zM108.8 140.7h3v3h-3zM108.8 167.7h3v3h-3zM111.8 161.7h3v3h-3zM186.8 107.7h3v3h-3zM192.8 167.7h3v3h-3zM198.8 176.7h3v3h-3zM219.8 191.7h3v3h-3zM222.8 86.7h3v3h-3zM225.8 191.7h3v3h-3zM243.8 176.7h3v3h-3zM255.8 155.7h3v3h-3zM258.8 155.7h3v3h-3zM261.8 155.7h3v3h-3z"/>
<path fill="#757575" d="M60.8 143.7h3v3h-3zM69.8 170.7h3v3h-3zM81.8 122.7h3v3h-3zM90.8 122.7h3v3h-3zM105.8 134.7h3v3h-3zM105.8 170.7h3v3h-3zM183.8 128.7h3v9h-3zM186.8 155.7h3v3h-3zM192.8 95.7h3v3h-3zM195.8 92.7h3v3h-3zM207.8 86.7h3v3h-3zM210.8 188.7h3v3h-3zM216.8 191.7h3v3h-3zM228.8 191.7h3v3h-3zM231.8 89.7h3v3h-3zM237.8 185.7h3v3h-3zM252.8 161.7h3v3h-3z"/>
<path fill="#767676" d="M60.8 158.7h3v3h-3zM63.8 164.7h3v3h-3zM87.8 176.7h3v3h-3zM90.8 176.7h3v3h-3zM111.8 146.7h3v3h-3zM183.8 122.7h3v6h-3zM183.8 137.7h3v6h-3zM195.8 173.7h3v3h-3zM234.8 188.7h3v3h-3zM249.8 167.7h3v3h-3zM255.8 116.7h3v3h-3zM258.8 116.7h3v3h-3zM261.8 116.7h3v3h-3z"/>
<path fill="#777777" d="M69.8 128.7h3v3h-3zM84.8 176.7h3v3h-3zM93.8 122.7h3v3h-3zM102.8 173.7h3v3h-3zM111.8 164.7h3v3h-3zM183.8 116.7h3v6h-3zM183.8 143.7h3v3h-3zM186.8 104.7h3v3h-3zM186.8 158.7h3v3h-3zM189.8 98.7h3v3h-3zM189.8 164.7h3v3h-3zM213.8 191.7h3v3h-3zM240.8 95.7h3v3h-3zM240.8 182.7h3v3h-3zM243.8 98.7h3v3h-3zM252.8 110.7h3v3h-3z"/>
<path fill="#787878" d="M66.8 131.7h3v3h-3zM72.8 173.7h3v3h-3zM78.8 122.7h3v3h-3zM81.8 176.7h3v3h-3zM93.8 176.7h3v3h-3zM99.8 125.7h3v3h-3zM108.8 137.7h3v3h-3zM183.8 146.7h3v3h-3zM192.8 170.7h3v3h-3zM198.8 89.7h3v3h-3zM201.8 182.7h3v3h-3zM204.8 86.7h3v3h-3zM204.8 185.7h3v3h-3zM207.8 188.7h3v3h-3zM225.8 86.7h3v3h-3zM231.8 191.7h3v3h-3zM237.8 92.7h3v3h-3zM246.8 101.7h3v3h-3zM246.8 173.7h3v3h-3z"/>
<path fill="#797979" d="M60.8 140.7h3v3h-3zM60.8 161.7h3v3h-3zM63.8 134.7h3v3h-3zM72.8 125.7h3v3h-3zM102.8 128.7h3v3h-3zM111.8 143.7h3v3h-3zM183.8 113.7h3v3h-3zM183.8 149.7h3v3h-3zM198.8 179.7h3v3h-3zM243.8 179.7h3v3h-3z"/>
<path fill="#7a7a7a" d="M78.8 176.7h3v3h-3zM87.8 119.7h3v3h-3zM96.8 122.7h3v3h-3zM96.8 176.7h3v3h-3zM105.8 131.7h3v3h-3zM108.8 170.7h3v3h-3zM114.8 155.7h3v6h-3zM183.8 110.7h3v3h-3zM186.8 161.7h3v3h-3zM189.8 167.7h3v3h-3zM195.8 176.7h3v3h-3zM210.8 191.7h3v3h-3zM219.8 194.7h3v3h-3zM222.8 194.7h3v3h-3zM225.8 194.7h3v3h-3zM255.8 158.7h3v3h-3zM258.8 158.7h3v3h-3zM261.8 158.7h3v3h-3z"/>
<path fill="#7b7b7b" d="M75.8 122.7h3v3h-3zM84.8 119.7h3v3h-3zM90.8 119.7h3v3h-3zM111.8 167.7h3v3h-3zM114.8 152.7h3v3h-3zM183.8 152.7h3v3h-3zM186.8 101.7h3v3h-3zM216.8 194.7h3v3h-3zM237.8 188.7h3v3h-3zM249.8 104.7h3v3h-3zM252.8 164.7h3v3h-3z"/>
<path fill="#7c7c7c" d="M57.8 149.7h3v6h-3zM63.8 167.7h3v3h-3zM66.8 170.7h3v3h-3zM81.8 119.7h3v3h-3zM93.8 119.7h3v3h-3zM99.8 176.7h3v3h-3zM105.8 173.7h3v3h-3zM114.8 149.7h3v3h-3zM114.8 161.7h3v3h-3zM192.8 92.7h3v3h-3zM192.8 173.7h3v3h-3zM201.8 185.7h3v3h-3zM228.8 86.7h3v3h-3zM228.8 194.7h3v3h-3zM234.8 89.7h3v3h-3zM234.8 191.7h3v3h-3zM240.8 185.7h3v3h-3zM249.8 170.7h3v3h-3z"/>
<path fill="#7d7d7d" d="M57.8 146.7h3v3h-3zM57.8 155.7h3v3h-3zM60.8 137.7h3v3h-3zM99.8 122.7h3v3h-3zM102.8 125.7h3v3h-3zM108.8 134.7h3v3h-3zM111.8 140.7h3v3h-3zM183.8 107.7h3v3h-3zM183.8 155.7h3v3h-3zM189.8 95.7h3v3h-3zM198.8 182.7h3v3h-3zM201.8 86.7h3v3h-3zM204.8 188.7h3v3h-3zM213.8 194.7h3v3h-3zM246.8 176.7h3v3h-3zM255.8 113.7h3v3h-3zM258.8 113.7h3v3h-3zM261.8 113.7h3v3h-3z"/>
<path fill="#7e7e7e" d="M60.8 164.7h3v3h-3zM66.8 128.7h3v3h-3zM69.8 125.7h3v3h-3zM69.8 173.7h3v3h-3zM75.8 176.7h3v3h-3zM78.8 119.7h3v3h-3zM105.8 128.7h3v3h-3zM114.8 164.7h3v3h-3zM186.8 164.7h3v3h-3zM189.8 170.7h3v3h-3zM195.8 89.7h3v3h-3zM195.8 179.7h3v3h-3zM207.8 191.7h3v3h-3zM213.8 83.7h3v3h-3zM216.8 83.7h3v3h-3zM231.8 194.7h3v3h-3zM243.8 182.7h3v3h-3zM252.8 107.7h3v3h-3z"/>
<path fill="#7f7f7f" d="M57.8 143.7h3v3h-3zM57.8 158.7h3v3h-3zM63.8 131.7h3v3h-3zM72.8 122.7h3v3h-3zM96.8 119.7h3v3h-3zM114.8 146.7h3v3h-3zM180.8 122.7h3v21h-3zM183.8 158.7h3v3h-3zM186.8 98.7h3v3h-3zM210.8 83.7h3v3h-3zM219.8 83.7h3v3h-3z"/>
<path fill="#808080" d="M87.8 116.7h3v3h-3zM87.8 179.7h3v3h-3zM102.8 176.7h3v3h-3zM111.8 170.7h3v3h-3zM180.8 119.7h3v3h-3zM180.8 143.7h3v6h-3zM183.8 104.7h3v3h-3zM192.8 176.7h3v3h-3zM210.8 194.7h3v3h-3zM219.8 197.7h3v3h-3zM222.8 197.7h3v3h-3zM237.8 191.7h3v3h-3zM240.8 92.7h3v3h-3zM243.8 95.7h3v3h-3zM246.8 98.7h3v3h-3z"/>
<path fill="#818181" d="M84.8 116.7h3v3h-3zM84.8 179.7h3v3h-3zM90.8 116.7h3v3h-3zM90.8 179.7h3v3h-3zM108.8 131.7h3v3h-3zM108.8 173.7h3v3h-3zM111.8 137.7h3v3h-3zM180.8 116.7h3v3h-3zM180.8 149.7h3v3h-3zM183.8 161.7h3v3h-3zM186.8 167.7h3v3h-3zM198.8 185.7h3v3h-3zM201.8 188.7h3v3h-3zM204.8 191.7h3v3h-3zM207.8 83.7h3v3h-3zM222.8 83.7h3v3h-3zM225.8 197.7h3v3h-3zM231.8 86.7h3v3h-3zM234.8 194.7h3v3h-3zM240.8 188.7h3v3h-3zM252.8 167.7h3v3h-3zM255.8 161.7h3v3h-3zM258.8 161.7h3v3h-3zM261.8 161.7h3v3h-3z"/>
<path fill="#828282" d="M57.8 140.7h3v3h-3zM60.8 134.7h3v3h-3zM72.8 176.7h3v3h-3zM75.8 119.7h3v3h-3zM81.8 179.7h3v3h-3zM93.8 116.7h3v3h-3zM93.8 179.7h3v3h-3zM99.8 119.7h3v3h-3zM102.8 122.7h3v3h-3zM114.8 143.7h3v3h-3zM114.8 167.7h3v3h-3zM180.8 113.7h3v3h-3zM189.8 173.7h3v3h-3zM195.8 182.7h3v3h-3zM198.8 86.7h3v3h-3zM216.8 197.7h3v3h-3zM228.8 197.7h3v3h-3zM237.8 89.7h3v3h-3zM246.8 179.7h3v3h-3zM249.8 101.7h3v3h-3zM249.8 173.7h3v3h-3z"/>
<path fill="#838383" d="M57.8 161.7h3v3h-3zM63.8 170.7h3v3h-3zM81.8 116.7h3v3h-3zM96.8 179.7h3v3h-3zM105.8 125.7h3v3h-3zM117.8 155.7h3v6h-3zM180.8 110.7h3v3h-3zM180.8 152.7h3v3h-3zM183.8 101.7h3v3h-3zM207.8 194.7h3v3h-3zM213.8 197.7h3v3h-3zM243.8 185.7h3v3h-3zM255.8 110.7h3v3h-3zM258.8 110.7h3v3h-3zM261.8 110.7h3v3h-3z"/>
<path fill="#848484" d="M60.8 167.7h3v3h-3zM66.8 125.7h3v3h-3zM66.8 173.7h3v3h-3zM96.8 116.7h3v3h-3zM105.8 176.7h3v3h-3zM111.8 134.7h3v3h-3zM117.8 152.7h3v3h-3zM117.8 161.7h3v3h-3zM180.8 155.7h3v3h-3zM183.8 164.7h3v3h-3zM186.8 170.7h3v3h-3zM189.8 92.7h3v3h-3zM192.8 89.7h3v3h-3zM192.8 179.7h3v3h-3zM204.8 83.7h3v3h-3zM225.8 83.7h3v3h-3zM231.8 197.7h3v3h-3z"/>
<path fill="#858585" d="M63.8 128.7h3v3h-3zM69.8 122.7h3v3h-3zM78.8 116.7h3v3h-3zM78.8 179.7h3v3h-3zM108.8 128.7h3v3h-3zM114.8 140.7h3v3h-3zM117.8 149.7h3v3h-3zM180.8 107.7h3v3h-3zM186.8 95.7h3v3h-3zM198.8 188.7h3v3h-3zM201.8 191.7h3v3h-3z"/>
<path fill="#868686" d="M54.8 149.7h3v6h-3zM57.8 137.7h3v3h-3zM72.8 119.7h3v3h-3zM99.8 179.7h3v3h-3zM102.8 119.7h3v3h-3zM111.8 173.7h3v3h-3zM117.8 164.7h3v3h-3zM180.8 158.7h3v3h-3zM189.8 176.7h3v3h-3zM195.8 185.7h3v3h-3zM204.8 194.7h3v3h-3zM210.8 197.7h3v3h-3zM234.8 86.7h3v3h-3zM237.8 194.7h3v3h-3zM240.8 191.7h3v3h-3zM246.8 182.7h3v3h-3zM249.8 176.7h3v3h-3zM252.8 104.7h3v3h-3z"/>
<path fill="#878787" d="M54.8 146.7h3v3h-3zM54.8 155.7h3v3h-3zM57.8 164.7h3v3h-3zM60.8 131.7h3v3h-3zM69.8 176.7h3v3h-3zM84.8 113.7h3v3h-3zM87.8 113.7h3v3h-3zM90.8 113.7h3v3h-3zM99.8 116.7h3v3h-3zM105.8 122.7h3v3h-3zM114.8 170.7h3v3h-3zM183.8 98.7h3v3h-3zM183.8 167.7h3v3h-3zM192.8 182.7h3v3h-3zM195.8 86.7h3v3h-3zM219.8 200.7h3v3h-3zM222.8 200.7h3v3h-3zM225.8 200.7h3v3h-3zM228.8 83.7h3v3h-3zM234.8 197.7h3v3h-3zM252.8 170.7h3v3h-3zM255.8 164.7h3v3h-3zM258.8 164.7h3v3h-3zM261.8 164.7h3v3h-3z"/>
<path fill="#888888" d="M75.8 116.7h3v3h-3zM75.8 179.7h3v3h-3zM93.8 113.7h3v3h-3zM102.8 179.7h3v3h-3zM108.8 176.7h3v3h-3zM111.8 131.7h3v3h-3zM117.8 146.7h3v3h-3zM177.8 122.7h3v24h-3zM180.8 104.7h3v3h-3zM180.8 161.7h3v3h-3zM186.8 173.7h3v3h-3zM201.8 83.7h3v3h-3zM207.8 197.7h3v3h-3zM216.8 200.7h3v3h-3zM228.8 200.7h3v3h-3zM243.8 188.7h3v3h-3z"/>
<path fill="#898989" d="M54.8 143.7h3v3h-3zM54.8 158.7h3v3h-3zM81.8 113.7h3v3h-3zM96.8 113.7h3v3h-3zM108.8 125.7h3v3h-3zM114.8 137.7h3v3h-3zM117.8 167.7h3v3h-3zM177.8 116.7h3v6h-3zM177.8 146.7h3v6h-3zM189.8 179.7h3v3h-3zM213.8 200.7h3v3h-3zM243.8 92.7h3v3h-3zM246.8 95.7h3v3h-3z"/>
<path fill="#8a8a8a" d="M63.8 173.7h3v3h-3zM102.8 116.7h3v3h-3zM105.8 119.7h3v3h-3zM177.8 113.7h3v3h-3zM177.8 152.7h3v3h-3zM180.8 164.7h3v3h-3zM183.8 170.7h3v3h-3zM195.8 188.7h3v3h-3zM198.8 191.7h3v3h-3zM201.8 194.7h3v3h-3zM213.8 80.7h3v3h-3zM216.8 80.7h3v3h-3zM240.8 89.7h3v3h-3zM249.8 98.7h3v3h-3zM255.8 107.7h3v3h-3zM258.8 107.7h3v3h-3zM261.8 107.7h3v3h-3z"/>
<path fill="#8b8b8b" d="M57.8 134.7h3v3h-3zM60.8 170.7h3v3h-3zM63.8 125.7h3v3h-3zM66.8 122.7h3v3h-3zM69.8 119.7h3v3h-3zM72.8 179.7h3v3h-3zM84.8 182.7h3v3h-3zM87.8 182.7h3v3h-3zM90.8 182.7h3v3h-3zM93.8 182.7h3v3h-3zM117.8 143.7h3v3h-3zM120.8 155.7h3v6h-3zM177.8 155.7h3v3h-3zM180.8 101.7h3v3h-3zM186.8 92.7h3v3h-3zM186.8 176.7h3v3h-3zM189.8 89.7h3v3h-3zM192.8 185.7h3v3h-3zM204.8 197.7h3v3h-3zM210.8 80.7h3v3h-3zM210.8 200.7h3v3h-3zM219.8 80.7h3v3h-3zM231.8 200.7h3v3h-3zM240.8 194.7h3v3h-3zM246.8 185.7h3v3h-3zM249.8 179.7h3v3h-3z"/>
<path fill="#8c8c8c" d="M54.8 140.7h3v3h-3zM66.8 176.7h3v3h-3zM78.8 113.7h3v3h-3zM99.8 113.7h3v3h-3zM105.8 179.7h3v3h-3zM108.8 122.7h3v3h-3zM111.8 128.7h3v3h-3zM114.8 134.7h3v3h-3zM114.8 173.7h3v3h-3zM120.8 152.7h3v3h-3zM120.8 161.7h3v3h-3zM177.8 110.7h3v3h-3zM189.8 182.7h3v3h-3zM198.8 83.7h3v3h-3zM231.8 83.7h3v3h-3zM237.8 197.7h3v3h-3zM243.8 191.7h3v3h-3zM252.8 173.7h3v3h-3zM255.8 167.7h3v3h-3zM258.8 167.7h3v3h-3zM261.8 167.7h3v3h-3z"/>
<path fill="#8d8d8d" d="M54.8 161.7h3v3h-3zM57.8 167.7h3v3h-3zM60.8 128.7h3v3h-3zM72.8 116.7h3v3h-3zM81.8 182.7h3v3h-3zM87.8 110.7h3v3h-3zM90.8 110.7h3v3h-3zM93.8 110.7h3v3h-3zM96.8 182.7h3v3h-3zM111.8 176.7h3v3h-3zM117.8 170.7h3v3h-3zM120.8 164.7h3v3h-3zM177.8 107.7h3v3h-3zM177.8 158.7h3v3h-3zM180.8 167.7h3v3h-3zM183.8 95.7h3v3h-3zM183.8 173.7h3v3h-3zM192.8 86.7h3v3h-3zM207.8 80.7h3v3h-3zM219.8 203.7h3v3h-3zM222.8 80.7h3v3h-3zM222.8 203.7h3v3h-3zM237.8 86.7h3v3h-3zM252.8 101.7h3v3h-3z"/>
<path fill="#8e8e8e" d="M84.8 110.7h3v3h-3zM96.8 110.7h3v3h-3zM99.8 182.7h3v3h-3zM105.8 116.7h3v3h-3zM117.8 140.7h3v3h-3zM120.8 149.7h3v3h-3zM177.8 161.7h3v3h-3zM186.8 179.7h3v3h-3zM192.8 188.7h3v3h-3zM195.8 191.7h3v3h-3zM198.8 194.7h3v3h-3zM201.8 197.7h3v3h-3zM207.8 200.7h3v3h-3zM216.8 203.7h3v3h-3zM225.8 203.7h3v3h-3zM234.8 200.7h3v3h-3z"/>
<path fill="#8f8f8f" d="M75.8 113.7h3v3h-3zM78.8 182.7h3v3h-3zM81.8 110.7h3v3h-3zM102.8 113.7h3v3h-3zM108.8 119.7h3v3h-3zM108.8 179.7h3v3h-3zM111.8 125.7h3v3h-3zM180.8 98.7h3v3h-3zM213.8 203.7h3v3h-3zM228.8 203.7h3v3h-3zM246.8 188.7h3v3h-3zM249.8 182.7h3v3h-3z"/>
<path fill="#909090" d="M54.8 137.7h3v3h-3zM57.8 131.7h3v3h-3zM69.8 179.7h3v3h-3zM99.8 110.7h3v3h-3zM114.8 131.7h3v3h-3zM120.8 167.7h3v3h-3zM177.8 104.7h3v3h-3zM177.8 164.7h3v3h-3zM180.8 170.7h3v3h-3zM183.8 176.7h3v3h-3zM189.8 185.7h3v3h-3zM204.8 80.7h3v3h-3zM204.8 200.7h3v3h-3zM225.8 80.7h3v3h-3zM240.8 197.7h3v3h-3z"/>
<path fill="#919191" d="M51.8 149.7h3v6h-3zM54.8 164.7h3v3h-3zM63.8 122.7h3v3h-3zM66.8 119.7h3v3h-3zM75.8 182.7h3v3h-3zM102.8 182.7h3v3h-3zM114.8 176.7h3v3h-3zM117.8 137.7h3v3h-3zM117.8 173.7h3v3h-3zM120.8 146.7h3v3h-3zM174.8 116.7h3v39h-3zM186.8 182.7h3v3h-3zM195.8 83.7h3v3h-3zM195.8 194.7h3v3h-3zM210.8 203.7h3v3h-3zM231.8 203.7h3v3h-3zM237.8 200.7h3v3h-3zM243.8 194.7h3v3h-3zM246.8 92.7h3v3h-3zM252.8 176.7h3v3h-3zM255.8 104.7h3v3h-3zM258.8 104.7h3v3h-3zM261.8 104.7h3v3h-3z"/>
<path fill="#929292" d="M51.8 146.7h3v3h-3zM51.8 155.7h3v3h-3zM60.8 173.7h3v3h-3zM63.8 176.7h3v3h-3zM69.8 116.7h3v3h-3zM78.8 110.7h3v3h-3zM90.8 107.7h3v3h-3zM105.8 113.7h3v3h-3zM111.8 122.7h3v3h-3zM114.8 128.7h3v3h-3zM174.8 113.7h3v3h-3zM174.8 155.7h3v3h-3zM177.8 167.7h3v3h-3zM180.8 173.7h3v3h-3zM186.8 89.7h3v3h-3zM192.8 191.7h3v3h-3zM198.8 197.7h3v3h-3zM234.8 83.7h3v3h-3zM243.8 89.7h3v3h-3zM249.8 95.7h3v3h-3zM255.8 170.7h3v3h-3zM258.8 170.7h3v3h-3zM261.8 170.7h3v3h-3z"/>
<path fill="#939393" d="M48.8 149.7h3v6h-3zM57.8 170.7h3v3h-3zM60.8 125.7h3v3h-3zM72.8 113.7h3v3h-3zM87.8 107.7h3v3h-3zM93.8 107.7h3v3h-3zM102.8 110.7h3v3h-3zM105.8 182.7h3v3h-3zM108.8 116.7h3v3h-3zM111.8 179.7h3v3h-3zM120.8 143.7h3v3h-3zM120.8 170.7h3v3h-3zM123.8 155.7h3v9h-3zM174.8 110.7h3v3h-3zM174.8 158.7h3v3h-3zM177.8 101.7h3v3h-3zM183.8 92.7h3v3h-3zM183.8 179.7h3v3h-3zM189.8 188.7h3v3h-3zM201.8 80.7h3v3h-3zM201.8 200.7h3v3h-3zM207.8 203.7h3v3h-3zM219.8 206.7h3v3h-3zM222.8 206.7h3v3h-3zM246.8 191.7h3v3h-3zM249.8 185.7h3v3h-3z"/>
<path fill="#949494" d="M48.8 146.7h3v3h-3zM48.8 155.7h3v3h-3zM51.8 143.7h3v3h-3zM51.8 158.7h3v3h-3zM54.8 134.7h3v3h-3zM84.8 107.7h3v3h-3zM87.8 185.7h3v3h-3zM90.8 185.7h3v3h-3zM93.8 185.7h3v3h-3zM96.8 107.7h3v3h-3zM111.8 119.7h3v3h-3zM117.8 134.7h3v3h-3zM123.8 164.7h3v3h-3zM174.8 161.7h3v3h-3zM180.8 95.7h3v3h-3zM186.8 185.7h3v3h-3zM189.8 86.7h3v3h-3zM216.8 206.7h3v3h-3zM225.8 206.7h3v3h-3zM228.8 80.7h3v3h-3zM234.8 203.7h3v3h-3zM240.8 86.7h3v3h-3zM252.8 98.7h3v3h-3z"/>
<path fill="#959595" d="M57.8 128.7h3v3h-3zM66.8 179.7h3v3h-3zM72.8 182.7h3v3h-3zM75.8 110.7h3v3h-3zM84.8 185.7h3v3h-3zM96.8 185.7h3v3h-3zM99.8 107.7h3v3h-3zM114.8 125.7h3v3h-3zM123.8 152.7h3v3h-3zM174.8 107.7h3v3h-3zM177.8 170.7h3v3h-3zM180.8 176.7h3v3h-3zM183.8 182.7h3v3h-3zM189.8 191.7h3v3h-3zM192.8 194.7h3v3h-3zM195.8 197.7h3v3h-3zM204.8 203.7h3v3h-3zM213.8 206.7h3v3h-3zM228.8 206.7h3v3h-3zM252.8 179.7h3v3h-3z"/>
<path fill="#969696" d="M48.8 143.7h3v3h-3zM48.8 158.7h3v3h-3zM51.8 140.7h3v3h-3zM54.8 167.7h3v3h-3zM81.8 107.7h3v3h-3zM81.8 185.7h3v3h-3zM105.8 110.7h3v3h-3zM108.8 113.7h3v3h-3zM108.8 182.7h3v3h-3zM117.8 176.7h3v3h-3zM120.8 140.7h3v3h-3zM120.8 173.7h3v3h-3zM123.8 149.7h3v3h-3zM123.8 167.7h3v3h-3zM174.8 164.7h3v3h-3zM186.8 188.7h3v3h-3zM198.8 200.7h3v3h-3zM210.8 206.7h3v3h-3zM240.8 200.7h3v3h-3zM243.8 197.7h3v3h-3zM255.8 173.7h3v3h-3zM258.8 173.7h3v3h-3zM261.8 173.7h3v3h-3z"/>
<path fill="#979797" d="M51.8 161.7h3v3h-3zM99.8 185.7h3v3h-3zM111.8 116.7h3v3h-3zM114.8 122.7h3v3h-3zM114.8 179.7h3v3h-3zM117.8 131.7h3v3h-3zM174.8 167.7h3v3h-3zM177.8 98.7h3v3h-3zM177.8 173.7h3v3h-3zM180.8 179.7h3v3h-3zM192.8 83.7h3v3h-3zM198.8 80.7h3v3h-3zM201.8 203.7h3v3h-3zM213.8 77.7h3v3h-3zM216.8 77.7h3v3h-3zM231.8 206.7h3v3h-3zM237.8 203.7h3v3h-3zM249.8 188.7h3v3h-3zM255.8 101.7h3v3h-3zM258.8 101.7h3v3h-3zM261.8 101.7h3v3h-3z"/>
<path fill="#989898" d="M48.8 140.7h3v3h-3zM48.8 161.7h3v3h-3zM63.8 119.7h3v3h-3zM66.8 116.7h3v3h-3zM69.8 113.7h3v3h-3zM78.8 107.7h3v3h-3zM78.8 185.7h3v3h-3zM90.8 104.7h3v3h-3zM102.8 107.7h3v3h-3zM123.8 170.7h3v3h-3zM171.8 143.7h3v15h-3zM174.8 104.7h3v3h-3zM183.8 185.7h3v3h-3zM189.8 194.7h3v3h-3zM192.8 197.7h3v3h-3zM207.8 206.7h3v3h-3zM210.8 77.7h3v3h-3zM219.8 77.7h3v3h-3zM231.8 80.7h3v3h-3zM237.8 83.7h3v3h-3zM246.8 194.7h3v3h-3z"/>
<path fill="#999999" d="M54.8 131.7h3v3h-3zM57.8 173.7h3v3h-3zM60.8 122.7h3v3h-3zM60.8 176.7h3v3h-3zM69.8 182.7h3v3h-3zM87.8 104.7h3v3h-3zM93.8 104.7h3v3h-3zM96.8 104.7h3v3h-3zM102.8 185.7h3v3h-3zM108.8 110.7h3v3h-3zM117.8 128.7h3v3h-3zM120.8 137.7h3v3h-3zM123.8 146.7h3v3h-3zM171.8 116.7h3v27h-3zM171.8 158.7h3v3h-3zM174.8 170.7h3v3h-3zM177.8 176.7h3v3h-3zM180.8 182.7h3v3h-3zM186.8 191.7h3v3h-3zM195.8 200.7h3v3h-3zM219.8 209.7h3v3h-3zM222.8 209.7h3v3h-3zM252.8 182.7h3v3h-3z"/>
<path fill="#9a9a9a" d="M51.8 137.7h3v3h-3zM51.8 164.7h3v3h-3zM63.8 179.7h3v3h-3zM72.8 110.7h3v3h-3zM84.8 104.7h3v3h-3zM105.8 107.7h3v3h-3zM111.8 113.7h3v3h-3zM111.8 182.7h3v3h-3zM114.8 119.7h3v3h-3zM126.8 158.7h3v9h-3zM171.8 113.7h3v3h-3zM171.8 161.7h3v3h-3zM180.8 92.7h3v3h-3zM183.8 89.7h3v3h-3zM183.8 188.7h3v3h-3zM186.8 86.7h3v3h-3zM198.8 203.7h3v3h-3zM204.8 206.7h3v3h-3zM207.8 77.7h3v3h-3zM213.8 209.7h3v3h-3zM216.8 209.7h3v3h-3zM222.8 77.7h3v3h-3zM225.8 209.7h3v3h-3zM234.8 206.7h3v3h-3zM246.8 89.7h3v3h-3zM249.8 92.7h3v3h-3z"/>
<path fill="#9b9b9b" d="M54.8 170.7h3v3h-3zM57.8 125.7h3v3h-3zM75.8 185.7h3v3h-3zM99.8 104.7h3v3h-3zM105.8 185.7h3v3h-3zM117.8 125.7h3v3h-3zM117.8 179.7h3v3h-3zM120.8 176.7h3v3h-3zM123.8 143.7h3v3h-3zM123.8 173.7h3v3h-3zM126.8 155.7h3v3h-3zM171.8 110.7h3v3h-3zM171.8 164.7h3v3h-3zM174.8 101.7h3v3h-3zM174.8 173.7h3v3h-3zM177.8 179.7h3v3h-3zM180.8 185.7h3v3h-3zM186.8 194.7h3v3h-3zM189.8 197.7h3v3h-3zM192.8 200.7h3v3h-3zM210.8 209.7h3v3h-3zM228.8 209.7h3v3h-3zM240.8 203.7h3v3h-3zM243.8 86.7h3v3h-3zM243.8 200.7h3v3h-3zM249.8 191.7h3v3h-3zM255.8 176.7h3v3h-3zM258.8 176.7h3v3h-3zM261.8 176.7h3v3h-3z"/>
<path fill="#9c9c9c" d="M48.8 137.7h3v3h-3zM48.8 164.7h3v3h-3zM75.8 107.7h3v3h-3zM81.8 104.7h3v3h-3zM114.8 116.7h3v3h-3zM120.8 134.7h3v3h-3zM126.8 152.7h3v3h-3zM126.8 167.7h3v3h-3zM171.8 107.7h3v3h-3zM171.8 167.7h3v3h-3zM177.8 95.7h3v3h-3zM183.8 191.7h3v3h-3zM195.8 80.7h3v3h-3zM195.8 203.7h3v3h-3zM201.8 206.7h3v3h-3zM204.8 77.7h3v3h-3zM225.8 77.7h3v3h-3zM246.8 197.7h3v3h-3zM252.8 95.7h3v3h-3zM252.8 185.7h3v3h-3z"/>
<path fill="#9d9d9d" d="M66.8 182.7h3v3h-3zM87.8 188.7h3v3h-3zM90.8 188.7h3v3h-3zM93.8 188.7h3v3h-3zM102.8 104.7h3v3h-3zM108.8 107.7h3v3h-3zM108.8 185.7h3v3h-3zM111.8 110.7h3v3h-3zM114.8 182.7h3v3h-3zM117.8 122.7h3v3h-3zM174.8 176.7h3v3h-3zM177.8 182.7h3v3h-3zM180.8 188.7h3v3h-3zM189.8 83.7h3v3h-3zM207.8 209.7h3v3h-3zM231.8 209.7h3v3h-3zM234.8 80.7h3v3h-3zM237.8 206.7h3v3h-3z"/>
<path fill="#9e9e9e" d="M51.8 134.7h3v3h-3zM54.8 128.7h3v3h-3zM63.8 116.7h3v3h-3zM66.8 113.7h3v3h-3zM69.8 110.7h3v3h-3zM72.8 185.7h3v3h-3zM84.8 188.7h3v3h-3zM96.8 188.7h3v3h-3zM114.8 113.7h3v3h-3zM120.8 131.7h3v3h-3zM123.8 140.7h3v3h-3zM126.8 149.7h3v3h-3zM126.8 170.7h3v3h-3zM168.8 149.7h3v12h-3zM171.8 104.7h3v3h-3zM171.8 170.7h3v3h-3zM174.8 98.7h3v3h-3zM183.8 194.7h3v3h-3zM186.8 197.7h3v3h-3zM189.8 200.7h3v3h-3zM198.8 206.7h3v3h-3zM204.8 209.7h3v3h-3zM240.8 83.7h3v3h-3zM255.8 98.7h3v3h-3zM255.8 179.7h3v3h-3zM258.8 98.7h3v3h-3zM258.8 179.7h3v3h-3zM261.8 98.7h3v3h-3zM261.8 179.7h3v3h-3z"/>
<path fill="#9f9f9f" d="M48.8 134.7h3v3h-3zM51.8 167.7h3v3h-3zM60.8 119.7h3v3h-3zM78.8 104.7h3v3h-3zM81.8 188.7h3v3h-3zM87.8 101.7h3v3h-3zM90.8 101.7h3v3h-3zM93.8 101.7h3v3h-3zM96.8 101.7h3v3h-3zM99.8 188.7h3v3h-3zM105.8 104.7h3v3h-3zM117.8 119.7h3v3h-3zM120.8 179.7h3v3h-3zM123.8 176.7h3v3h-3zM168.8 143.7h3v6h-3zM168.8 161.7h3v6h-3zM171.8 173.7h3v3h-3zM174.8 179.7h3v3h-3zM177.8 185.7h3v3h-3zM180.8 191.7h3v3h-3zM192.8 203.7h3v3h-3zM201.8 77.7h3v3h-3zM213.8 212.7h3v3h-3zM216.8 212.7h3v3h-3zM219.8 212.7h3v3h-3zM222.8 212.7h3v3h-3zM249.8 194.7h3v3h-3z"/>
<path fill="#a0a0a0" d="M48.8 167.7h3v3h-3zM57.8 176.7h3v3h-3zM60.8 179.7h3v3h-3zM72.8 107.7h3v3h-3zM84.8 101.7h3v3h-3zM99.8 101.7h3v3h-3zM102.8 188.7h3v3h-3zM111.8 107.7h3v3h-3zM111.8 185.7h3v3h-3zM117.8 116.7h3v3h-3zM117.8 182.7h3v3h-3zM120.8 128.7h3v3h-3zM123.8 137.7h3v3h-3zM126.8 146.7h3v3h-3zM126.8 173.7h3v3h-3zM129.8 158.7h3v9h-3zM168.8 113.7h3v30h-3zM168.8 167.7h3v3h-3zM174.8 182.7h3v3h-3zM177.8 188.7h3v3h-3zM183.8 197.7h3v3h-3zM186.8 200.7h3v3h-3zM195.8 206.7h3v3h-3zM201.8 209.7h3v3h-3zM210.8 212.7h3v3h-3zM225.8 212.7h3v3h-3zM228.8 77.7h3v3h-3zM234.8 209.7h3v3h-3zM243.8 203.7h3v3h-3zM252.8 188.7h3v3h-3z"/>
<path fill="#a1a1a1" d="M54.8 173.7h3v3h-3zM57.8 122.7h3v3h-3zM69.8 185.7h3v3h-3zM78.8 188.7h3v3h-3zM105.8 188.7h3v3h-3zM114.8 110.7h3v3h-3zM120.8 125.7h3v3h-3zM129.8 155.7h3v3h-3zM129.8 167.7h3v3h-3zM168.8 110.7h3v3h-3zM171.8 101.7h3v3h-3zM171.8 176.7h3v3h-3zM177.8 92.7h3v3h-3zM180.8 89.7h3v3h-3zM180.8 194.7h3v3h-3zM183.8 86.7h3v3h-3zM189.8 203.7h3v3h-3zM192.8 80.7h3v3h-3zM207.8 212.7h3v3h-3zM228.8 212.7h3v3h-3zM240.8 206.7h3v3h-3zM246.8 200.7h3v3h-3z"/>
<path fill="#a2a2a2" d="M51.8 131.7h3v3h-3zM63.8 182.7h3v3h-3zM75.8 104.7h3v3h-3zM81.8 101.7h3v3h-3zM102.8 101.7h3v3h-3zM108.8 104.7h3v3h-3zM114.8 185.7h3v3h-3zM117.8 113.7h3v3h-3zM123.8 179.7h3v3h-3zM129.8 170.7h3v3h-3zM168.8 170.7h3v3h-3zM171.8 179.7h3v3h-3zM174.8 185.7h3v3h-3zM177.8 191.7h3v3h-3zM180.8 197.7h3v3h-3zM183.8 200.7h3v3h-3zM192.8 206.7h3v3h-3zM198.8 209.7h3v3h-3zM204.8 212.7h3v3h-3zM237.8 80.7h3v3h-3zM249.8 89.7h3v3h-3zM255.8 182.7h3v3h-3zM258.8 182.7h3v3h-3zM261.8 182.7h3v3h-3z"/>
<path fill="#a3a3a3" d="M54.8 125.7h3v3h-3zM75.8 188.7h3v3h-3zM108.8 188.7h3v3h-3zM120.8 122.7h3v3h-3zM120.8 182.7h3v3h-3zM123.8 134.7h3v3h-3zM126.8 143.7h3v3h-3zM126.8 176.7h3v3h-3zM129.8 152.7h3v3h-3zM165.8 155.7h3v9h-3zM168.8 107.7h3v3h-3zM168.8 173.7h3v3h-3zM171.8 182.7h3v3h-3zM174.8 95.7h3v3h-3zM174.8 188.7h3v3h-3zM177.8 194.7h3v3h-3zM186.8 83.7h3v3h-3zM186.8 203.7h3v3h-3zM195.8 209.7h3v3h-3zM198.8 77.7h3v3h-3zM231.8 212.7h3v3h-3zM237.8 209.7h3v3h-3zM246.8 86.7h3v3h-3zM249.8 197.7h3v3h-3zM252.8 92.7h3v3h-3zM252.8 191.7h3v3h-3z"/>
<path fill="#a4a4a4" d="M48.8 131.7h3v3h-3zM51.8 170.7h3v3h-3zM63.8 113.7h3v3h-3zM66.8 110.7h3v3h-3zM69.8 107.7h3v3h-3zM90.8 191.7h3v3h-3zM93.8 191.7h3v3h-3zM105.8 101.7h3v3h-3zM111.8 104.7h3v3h-3zM114.8 107.7h3v3h-3zM117.8 110.7h3v3h-3zM120.8 119.7h3v3h-3zM129.8 173.7h3v3h-3zM165.8 149.7h3v6h-3zM165.8 164.7h3v6h-3zM168.8 176.7h3v3h-3zM171.8 185.7h3v3h-3zM174.8 191.7h3v3h-3zM177.8 197.7h3v3h-3zM180.8 200.7h3v3h-3zM189.8 206.7h3v3h-3zM201.8 212.7h3v3h-3zM210.8 215.7h3v3h-3zM213.8 74.7h3v3h-3zM213.8 215.7h3v3h-3zM216.8 74.7h3v3h-3zM216.8 215.7h3v3h-3zM219.8 215.7h3v3h-3zM222.8 215.7h3v3h-3zM231.8 77.7h3v3h-3z"/>
<path fill="#a5a5a5" d="M48.8 170.7h3v3h-3zM60.8 116.7h3v3h-3zM66.8 185.7h3v3h-3zM78.8 101.7h3v3h-3zM87.8 98.7h3v3h-3zM87.8 191.7h3v3h-3zM90.8 98.7h3v3h-3zM93.8 98.7h3v3h-3zM96.8 98.7h3v3h-3zM96.8 191.7h3v3h-3zM99.8 191.7h3v3h-3zM111.8 188.7h3v3h-3zM117.8 185.7h3v3h-3zM120.8 116.7h3v3h-3zM123.8 131.7h3v3h-3zM126.8 140.7h3v3h-3zM126.8 179.7h3v3h-3zM129.8 149.7h3v3h-3zM132.8 161.7h3v6h-3zM165.8 146.7h3v3h-3zM165.8 170.7h3v3h-3zM168.8 104.7h3v3h-3zM168.8 179.7h3v3h-3zM171.8 98.7h3v3h-3zM171.8 188.7h3v3h-3zM174.8 194.7h3v3h-3zM183.8 203.7h3v3h-3zM186.8 206.7h3v3h-3zM192.8 209.7h3v3h-3zM198.8 212.7h3v3h-3zM207.8 215.7h3v3h-3zM210.8 74.7h3v3h-3zM219.8 74.7h3v3h-3zM225.8 215.7h3v3h-3zM234.8 212.7h3v3h-3zM243.8 83.7h3v3h-3zM243.8 206.7h3v3h-3zM255.8 95.7h3v3h-3zM255.8 185.7h3v3h-3zM258.8 95.7h3v3h-3zM258.8 185.7h3v3h-3zM261.8 95.7h3v3h-3zM261.8 185.7h3v3h-3z"/>
<path fill="#a6a6a6" d="M57.8 119.7h3v3h-3zM72.8 104.7h3v3h-3zM72.8 188.7h3v3h-3zM84.8 191.7h3v3h-3zM99.8 98.7h3v3h-3zM102.8 191.7h3v3h-3zM108.8 101.7h3v3h-3zM120.8 113.7h3v3h-3zM123.8 128.7h3v3h-3zM123.8 182.7h3v3h-3zM129.8 176.7h3v3h-3zM132.8 158.7h3v3h-3zM132.8 167.7h3v6h-3zM165.8 113.7h3v12h-3zM165.8 140.7h3v6h-3zM165.8 173.7h3v3h-3zM168.8 182.7h3v3h-3zM171.8 191.7h3v3h-3zM174.8 197.7h3v3h-3zM177.8 200.7h3v3h-3zM180.8 203.7h3v3h-3zM204.8 215.7h3v3h-3zM207.8 74.7h3v3h-3zM240.8 209.7h3v3h-3zM246.8 203.7h3v3h-3z"/>
<path fill="#a7a7a7" d="M51.8 128.7h3v3h-3zM54.8 176.7h3v3h-3zM57.8 179.7h3v3h-3zM81.8 191.7h3v3h-3zM84.8 98.7h3v3h-3zM105.8 191.7h3v3h-3zM114.8 104.7h3v3h-3zM114.8 188.7h3v3h-3zM117.8 107.7h3v3h-3zM120.8 185.7h3v3h-3zM123.8 125.7h3v3h-3zM126.8 137.7h3v3h-3zM129.8 146.7h3v3h-3zM132.8 155.7h3v3h-3zM162.8 161.7h3v6h-3zM165.8 110.7h3v3h-3zM165.8 125.7h3v15h-3zM165.8 176.7h3v3h-3zM168.8 185.7h3v6h-3zM171.8 194.7h3v3h-3zM174.8 200.7h3v3h-3zM183.8 206.7h3v3h-3zM189.8 80.7h3v3h-3zM189.8 209.7h3v3h-3zM195.8 77.7h3v3h-3zM195.8 212.7h3v3h-3zM201.8 215.7h3v3h-3zM222.8 74.7h3v3h-3zM228.8 215.7h3v3h-3zM249.8 200.7h3v3h-3zM252.8 194.7h3v3h-3z"/>
<path fill="#a8a8a8" d="M48.8 128.7h3v3h-3zM60.8 182.7h3v3h-3zM75.8 101.7h3v3h-3zM102.8 98.7h3v3h-3zM120.8 110.7h3v3h-3zM123.8 119.7h3v6h-3zM126.8 182.7h3v3h-3zM129.8 179.7h3v3h-3zM132.8 173.7h3v3h-3zM162.8 155.7h3v6h-3zM162.8 167.7h3v6h-3zM165.8 107.7h3v3h-3zM165.8 179.7h3v6h-3zM168.8 101.7h3v3h-3zM168.8 191.7h3v6h-3zM171.8 197.7h3v3h-3zM174.8 92.7h3v3h-3zM177.8 89.7h3v3h-3zM177.8 203.7h3v3h-3zM180.8 86.7h3v3h-3zM180.8 206.7h3v3h-3zM186.8 209.7h3v3h-3zM192.8 212.7h3v3h-3zM198.8 215.7h3v3h-3zM204.8 74.7h3v3h-3zM210.8 218.7h3v3h-3zM213.8 218.7h3v3h-3zM216.8 218.7h3v3h-3zM219.8 218.7h3v3h-3zM231.8 215.7h3v3h-3zM234.8 77.7h3v3h-3zM237.8 212.7h3v3h-3zM240.8 80.7h3v3h-3zM255.8 188.7h3v3h-3zM258.8 188.7h3v3h-3zM261.8 188.7h3v3h-3z"/>
<path fill="#a9a9a9" d="M51.8 173.7h3v3h-3zM54.8 122.7h3v3h-3zM69.8 188.7h3v3h-3zM78.8 191.7h3v3h-3zM81.8 98.7h3v3h-3zM105.8 98.7h3v3h-3zM108.8 191.7h3v3h-3zM111.8 101.7h3v3h-3zM117.8 188.7h3v3h-3zM123.8 116.7h3v3h-3zM123.8 185.7h3v3h-3zM126.8 134.7h3v3h-3zM129.8 143.7h3v3h-3zM132.8 152.7h3v3h-3zM132.8 176.7h3v3h-3zM135.8 164.7h3v6h-3zM162.8 152.7h3v3h-3zM162.8 173.7h3v6h-3zM165.8 185.7h3v9h-3zM168.8 197.7h3v3h-3zM171.8 95.7h3v3h-3zM171.8 200.7h3v3h-3zM174.8 203.7h3v3h-3zM183.8 83.7h3v3h-3zM183.8 209.7h3v3h-3zM189.8 212.7h3v3h-3zM204.8 218.7h3v3h-3zM207.8 218.7h3v3h-3zM222.8 218.7h3v3h-3zM225.8 74.7h3v3h-3z"/>
<path fill="#aaaaaa" d="M48.8 173.7h3v3h-3zM60.8 113.7h3v3h-3zM63.8 110.7h3v3h-3zM63.8 185.7h3v3h-3zM66.8 107.7h3v3h-3zM69.8 104.7h3v3h-3zM111.8 191.7h3v3h-3zM120.8 188.7h3v3h-3zM123.8 113.7h3v3h-3zM129.8 182.7h3v3h-3zM135.8 161.7h3v3h-3zM135.8 170.7h3v3h-3zM162.8 149.7h3v3h-3zM162.8 179.7h3v9h-3zM165.8 104.7h3v3h-3zM165.8 194.7h3v6h-3zM168.8 200.7h3v3h-3zM171.8 203.7h3v3h-3zM177.8 206.7h3v3h-3zM195.8 215.7h3v3h-3zM201.8 218.7h3v3h-3zM225.8 218.7h3v3h-3zM243.8 209.7h3v3h-3zM246.8 206.7h3v3h-3zM252.8 197.7h3v3h-3z"/>
<path fill="#ababab" d="M75.8 191.7h3v3h-3zM78.8 98.7h3v3h-3zM90.8 95.7h3v3h-3zM90.8 194.7h3v3h-3zM93.8 95.7h3v3h-3zM93.8 194.7h3v3h-3zM96.8 95.7h3v3h-3zM96.8 194.7h3v3h-3zM99.8 194.7h3v3h-3zM114.8 191.7h3v3h-3zM117.8 104.7h3v3h-3zM120.8 107.7h3v3h-3zM126.8 131.7h3v3h-3zM126.8 185.7h3v3h-3zM132.8 149.7h3v3h-3zM132.8 179.7h3v3h-3zM135.8 158.7h3v3h-3zM135.8 173.7h3v3h-3zM159.8 158.7h3v21h-3zM162.8 113.7h3v9h-3zM162.8 143.7h3v6h-3zM162.8 188.7h3v12h-3zM165.8 200.7h3v3h-3zM168.8 98.7h3v3h-3zM168.8 203.7h3v3h-3zM174.8 206.7h3v3h-3zM180.8 209.7h3v3h-3zM186.8 212.7h3v3h-3zM192.8 77.7h3v3h-3zM192.8 215.7h3v3h-3zM198.8 218.7h3v3h-3zM201.8 74.7h3v3h-3zM210.8 221.7h3v3h-3zM213.8 221.7h3v3h-3zM228.8 218.7h3v3h-3zM234.8 215.7h3v3h-3zM249.8 86.7h3v3h-3zM249.8 203.7h3v3h-3zM252.8 89.7h3v3h-3zM255.8 191.7h3v3h-3zM258.8 191.7h3v3h-3zM261.8 191.7h3v3h-3z"/>
<path fill="#acacac" d="M51.8 125.7h3v3h-3zM57.8 116.7h3v3h-3zM72.8 101.7h3v3h-3zM87.8 95.7h3v3h-3zM87.8 194.7h3v3h-3zM99.8 95.7h3v3h-3zM102.8 194.7h3v3h-3zM105.8 194.7h3v3h-3zM108.8 98.7h3v3h-3zM114.8 101.7h3v3h-3zM123.8 110.7h3v3h-3zM123.8 188.7h3v3h-3zM126.8 125.7h3v6h-3zM129.8 140.7h3v3h-3zM132.8 182.7h3v3h-3zM135.8 155.7h3v3h-3zM135.8 176.7h3v3h-3zM138.8 164.7h3v9h-3zM159.8 155.7h3v3h-3zM159.8 179.7h3v21h-3zM162.8 110.7h3v3h-3zM162.8 122.7h3v6h-3zM162.8 140.7h3v3h-3zM162.8 200.7h3v3h-3zM165.8 203.7h3v3h-3zM171.8 206.7h3v3h-3zM177.8 209.7h3v3h-3zM183.8 212.7h3v3h-3zM186.8 80.7h3v3h-3zM189.8 215.7h3v3h-3zM195.8 218.7h3v3h-3zM204.8 221.7h3v3h-3zM207.8 221.7h3v3h-3zM216.8 221.7h3v3h-3zM219.8 221.7h3v3h-3zM228.8 74.7h3v3h-3zM240.8 212.7h3v3h-3zM246.8 83.7h3v3h-3zM255.8 92.7h3v3h-3zM258.8 92.7h3v3h-3zM261.8 92.7h3v3h-3z"/>
<path fill="#adadad" d="M48.8 125.7h3v3h-3zM54.8 179.7h3v3h-3zM66.8 188.7h3v3h-3zM72.8 191.7h3v3h-3zM84.8 95.7h3v3h-3zM84.8 194.7h3v3h-3zM108.8 194.7h3v3h-3zM117.8 191.7h3v3h-3zM126.8 116.7h3v9h-3zM126.8 188.7h3v3h-3zM129.8 137.7h3v3h-3zM129.8 185.7h3v3h-3zM132.8 146.7h3v3h-3zM135.8 179.7h3v3h-3zM138.8 161.7h3v3h-3zM138.8 173.7h3v6h-3zM156.8 164.7h3v36h-3zM159.8 152.7h3v3h-3zM159.8 200.7h3v3h-3zM162.8 107.7h3v3h-3zM162.8 128.7h3v12h-3zM162.8 203.7h3v3h-3zM165.8 101.7h3v3h-3zM168.8 206.7h3v3h-3zM174.8 209.7h3v3h-3zM180.8 212.7h3v3h-3zM186.8 215.7h3v3h-3zM192.8 218.7h3v3h-3zM201.8 221.7h3v3h-3zM222.8 221.7h3v3h-3zM231.8 218.7h3v3h-3zM237.8 77.7h3v3h-3zM237.8 215.7h3v3h-3z"/>
<path fill="#aeaeae" d="M51.8 176.7h3v3h-3zM54.8 119.7h3v3h-3zM57.8 182.7h3v3h-3zM75.8 98.7h3v3h-3zM81.8 194.7h3v3h-3zM102.8 95.7h3v3h-3zM111.8 98.7h3v3h-3zM111.8 194.7h3v3h-3zM120.8 104.7h3v3h-3zM120.8 191.7h3v3h-3zM123.8 107.7h3v3h-3zM126.8 113.7h3v3h-3zM129.8 188.7h3v3h-3zM132.8 185.7h3v3h-3zM135.8 152.7h3v3h-3zM135.8 182.7h3v3h-3zM138.8 158.7h3v3h-3zM138.8 179.7h3v3h-3zM141.8 167.7h3v9h-3zM153.8 170.7h3v30h-3zM156.8 158.7h3v6h-3zM156.8 200.7h3v3h-3zM159.8 149.7h3v3h-3zM159.8 203.7h3v3h-3zM165.8 206.7h3v3h-3zM171.8 92.7h3v3h-3zM171.8 209.7h3v3h-3zM174.8 89.7h3v3h-3zM177.8 86.7h3v3h-3zM177.8 212.7h3v3h-3zM183.8 215.7h3v3h-3zM189.8 218.7h3v3h-3zM198.8 74.7h3v3h-3zM198.8 221.7h3v3h-3zM204.8 224.7h3v3h-3zM207.8 224.7h3v3h-3zM210.8 224.7h3v3h-3zM213.8 224.7h3v3h-3zM216.8 224.7h3v3h-3zM225.8 221.7h3v3h-3zM252.8 200.7h3v3h-3zM255.8 194.7h3v3h-3zM258.8 194.7h3v3h-3zM261.8 194.7h3v3h-3z"/>
<path fill="#afafaf" d="M60.8 185.7h3v3h-3zM63.8 107.7h3v3h-3zM66.8 104.7h3v3h-3zM81.8 95.7h3v3h-3zM105.8 95.7h3v3h-3zM114.8 194.7h3v3h-3zM117.8 101.7h3v3h-3zM123.8 191.7h3v3h-3zM126.8 110.7h3v3h-3zM129.8 134.7h3v3h-3zM132.8 143.7h3v3h-3zM132.8 188.7h3v3h-3zM135.8 185.7h3v3h-3zM138.8 182.7h3v6h-3zM141.8 164.7h3v3h-3zM141.8 176.7h3v9h-3zM144.8 170.7h3v12h-3zM150.8 170.7h3v30h-3zM153.8 164.7h3v6h-3zM153.8 200.7h3v3h-3zM156.8 155.7h3v3h-3zM156.8 203.7h3v3h-3zM159.8 146.7h3v3h-3zM159.8 206.7h3v3h-3zM162.8 104.7h3v3h-3zM162.8 206.7h3v3h-3zM168.8 95.7h3v3h-3zM168.8 209.7h3v3h-3zM174.8 212.7h3v3h-3zM180.8 215.7h3v3h-3zM195.8 221.7h3v3h-3zM201.8 224.7h3v3h-3zM219.8 224.7h3v3h-3zM231.8 74.7h3v3h-3zM243.8 80.7h3v3h-3zM243.8 212.7h3v3h-3zM246.8 209.7h3v3h-3z"/>
<path fill="#b0b0b0" d="M48.8 176.7h3v3h-3zM60.8 110.7h3v3h-3zM69.8 101.7h3v3h-3zM69.8 191.7h3v3h-3zM78.8 194.7h3v3h-3zM93.8 197.7h3v3h-3zM96.8 197.7h3v3h-3zM99.8 197.7h3v3h-3zM102.8 197.7h3v3h-3zM117.8 194.7h3v3h-3zM120.8 194.7h3v3h-3zM126.8 191.7h3v3h-3zM129.8 131.7h3v3h-3zM129.8 191.7h3v3h-3zM135.8 149.7h3v3h-3zM135.8 188.7h3v3h-3zM138.8 155.7h3v3h-3zM138.8 188.7h3v3h-3zM141.8 161.7h3v3h-3zM141.8 185.7h3v6h-3zM144.8 164.7h3v6h-3zM144.8 182.7h3v15h-3zM147.8 167.7h3v33h-3zM150.8 164.7h3v6h-3zM150.8 200.7h3v3h-3zM153.8 161.7h3v3h-3zM153.8 203.7h3v3h-3zM156.8 206.7h3v3h-3zM159.8 110.7h3v12h-3zM159.8 143.7h3v3h-3zM162.8 209.7h3v3h-3zM165.8 209.7h3v3h-3zM171.8 212.7h3v3h-3zM180.8 83.7h3v3h-3zM186.8 218.7h3v3h-3zM189.8 77.7h3v3h-3zM192.8 221.7h3v3h-3zM195.8 224.7h3v3h-3zM198.8 224.7h3v3h-3zM201.8 227.7h3v3h-3zM204.8 227.7h3v3h-3zM207.8 227.7h3v3h-3zM210.8 227.7h3v3h-3zM213.8 227.7h3v3h-3zM222.8 224.7h3v3h-3zM228.8 221.7h3v3h-3zM234.8 218.7h3v3h-3zM249.8 206.7h3v3h-3z"/>
<path fill="#b1b1b1" d="M51.8 122.7h3v3h-3zM57.8 113.7h3v3h-3zM63.8 188.7h3v3h-3zM78.8 95.7h3v3h-3zM87.8 197.7h3v3h-3zM90.8 92.7h3v3h-3zM90.8 197.7h3v3h-3zM93.8 92.7h3v3h-3zM105.8 197.7h3v3h-3zM108.8 95.7h3v3h-3zM108.8 197.7h3v3h-3zM111.8 197.7h3v3h-3zM114.8 98.7h3v3h-3zM120.8 101.7h3v3h-3zM123.8 104.7h3v3h-3zM123.8 194.7h3v3h-3zM126.8 107.7h3v3h-3zM126.8 194.7h3v3h-3zM129.8 113.7h3v18h-3zM132.8 140.7h3v3h-3zM132.8 191.7h3v3h-3zM135.8 191.7h3v3h-3zM138.8 152.7h3v3h-3zM138.8 191.7h3v6h-3zM141.8 158.7h3v3h-3zM141.8 191.7h3v6h-3zM144.8 161.7h3v3h-3zM144.8 197.7h3v3h-3zM147.8 161.7h3v6h-3zM147.8 200.7h3v3h-3zM150.8 161.7h3v3h-3zM150.8 203.7h3v3h-3zM153.8 158.7h3v3h-3zM153.8 206.7h3v3h-3zM156.8 152.7h3v3h-3zM159.8 122.7h3v6h-3zM159.8 140.7h3v3h-3zM159.8 209.7h3v3h-3zM165.8 98.7h3v3h-3zM168.8 212.7h3v3h-3zM177.8 215.7h3v3h-3zM183.8 218.7h3v3h-3zM189.8 221.7h3v3h-3zM192.8 224.7h3v3h-3zM198.8 227.7h3v3h-3zM204.8 230.7h3v3h-3zM207.8 230.7h3v3h-3zM210.8 71.7h3v3h-3zM210.8 230.7h3v3h-3zM213.8 71.7h3v3h-3zM216.8 71.7h3v3h-3zM216.8 227.7h3v3h-3zM240.8 215.7h3v3h-3zM252.8 203.7h3v3h-3zM255.8 197.7h3v3h-3zM258.8 197.7h3v3h-3zM261.8 197.7h3v3h-3z"/>
<path fill="#b2b2b2" d="M48.8 122.7h3v3h-3zM72.8 98.7h3v3h-3zM75.8 194.7h3v3h-3zM84.8 197.7h3v3h-3zM87.8 92.7h3v3h-3zM96.8 92.7h3v3h-3zM114.8 197.7h3v3h-3zM117.8 197.7h3v3h-3zM129.8 110.7h3v3h-3zM129.8 194.7h3v3h-3zM132.8 194.7h3v3h-3zM135.8 146.7h3v3h-3zM135.8 194.7h3v3h-3zM138.8 197.7h3v3h-3zM141.8 155.7h3v3h-3zM141.8 197.7h3v6h-3zM144.8 158.7h3v3h-3zM144.8 200.7h3v3h-3zM147.8 203.7h3v3h-3zM150.8 158.7h3v3h-3zM150.8 206.7h3v3h-3zM153.8 155.7h3v3h-3zM156.8 149.7h3v3h-3zM156.8 209.7h3v3h-3zM159.8 107.7h3v3h-3zM159.8 128.7h3v12h-3zM162.8 101.7h3v3h-3zM165.8 212.7h3v3h-3zM174.8 215.7h3v3h-3zM180.8 218.7h3v3h-3zM183.8 80.7h3v3h-3zM186.8 221.7h3v3h-3zM195.8 74.7h3v3h-3zM195.8 227.7h3v3h-3zM198.8 230.7h3v3h-3zM201.8 230.7h3v3h-3zM204.8 233.7h3v3h-3zM207.8 71.7h3v3h-3zM207.8 233.7h3v3h-3zM213.8 230.7h3v3h-3zM219.8 71.7h3v3h-3zM219.8 227.7h3v3h-3zM225.8 224.7h3v3h-3zM231.8 221.7h3v3h-3zM237.8 218.7h3v3h-3zM240.8 77.7h3v3h-3z"/>
<path fill="#b3b3b3" d="M54.8 116.7h3v3h-3zM54.8 182.7h3v3h-3zM84.8 92.7h3v3h-3zM99.8 92.7h3v3h-3zM111.8 95.7h3v3h-3zM117.8 98.7h3v3h-3zM120.8 197.7h3v3h-3zM123.8 197.7h3v3h-3zM126.8 104.7h3v3h-3zM126.8 197.7h3v3h-3zM129.8 197.7h3v3h-3zM132.8 137.7h3v3h-3zM132.8 197.7h3v3h-3zM135.8 197.7h3v3h-3zM138.8 149.7h3v3h-3zM138.8 200.7h3v3h-3zM141.8 203.7h3v3h-3zM144.8 203.7h3v3h-3zM147.8 158.7h3v3h-3zM147.8 206.7h3v3h-3zM150.8 155.7h3v3h-3zM153.8 152.7h3v3h-3zM153.8 209.7h3v3h-3zM156.8 113.7h3v6h-3zM156.8 146.7h3v3h-3zM159.8 104.7h3v3h-3zM162.8 212.7h3v3h-3zM168.8 215.7h3v3h-3zM171.8 215.7h3v3h-3zM177.8 218.7h3v3h-3zM183.8 221.7h3v3h-3zM189.8 224.7h3v3h-3zM192.8 227.7h3v3h-3zM195.8 230.7h3v3h-3zM198.8 233.7h3v3h-3zM201.8 233.7h3v3h-3zM204.8 236.7h3v3h-3zM207.8 236.7h3v3h-3zM210.8 233.7h3v3h-3zM213.8 233.7h3v3h-3zM216.8 230.7h3v3h-3zM222.8 71.7h3v3h-3zM222.8 227.7h3v3h-3zM234.8 74.7h3v3h-3zM249.8 83.7h3v3h-3zM252.8 86.7h3v3h-3zM255.8 89.7h3v3h-3zM258.8 89.7h3v3h-3zM261.8 89.7h3v3h-3z"/>
<path fill="#b4b4b4" d="M51.8 179.7h3v3h-3zM57.8 185.7h3v3h-3zM66.8 191.7h3v3h-3zM72.8 194.7h3v3h-3zM75.8 95.7h3v3h-3zM81.8 197.7h3v3h-3zM93.8 200.7h3v3h-3zM96.8 200.7h3v3h-3zM99.8 200.7h3v3h-3zM102.8 92.7h3v3h-3zM102.8 200.7h3v3h-3zM105.8 200.7h3v3h-3zM108.8 200.7h3v3h-3zM111.8 200.7h3v3h-3zM114.8 200.7h3v3h-3zM123.8 101.7h3v3h-3zM129.8 107.7h3v3h-3zM129.8 200.7h3v3h-3zM132.8 113.7h3v12h-3zM132.8 134.7h3v3h-3zM132.8 200.7h3v3h-3zM135.8 143.7h3v3h-3zM135.8 200.7h3v3h-3zM138.8 203.7h3v3h-3zM141.8 152.7h3v3h-3zM144.8 155.7h3v3h-3zM144.8 206.7h3v3h-3zM147.8 155.7h3v3h-3zM150.8 209.7h3v3h-3zM156.8 110.7h3v3h-3zM156.8 119.7h3v3h-3zM156.8 143.7h3v3h-3zM159.8 212.7h3v3h-3zM165.8 215.7h3v3h-3zM168.8 92.7h3v3h-3zM171.8 89.7h3v3h-3zM174.8 86.7h3v3h-3zM174.8 218.7h3v3h-3zM180.8 221.7h3v3h-3zM186.8 224.7h3v3h-3zM189.8 227.7h3v3h-3zM192.8 230.7h3v3h-3zM195.8 233.7h3v3h-3zM201.8 236.7h3v3h-3zM204.8 71.7h3v3h-3zM210.8 236.7h3v3h-3zM216.8 233.7h3v3h-3zM219.8 230.7h3v3h-3zM228.8 224.7h3v3h-3zM234.8 221.7h3v3h-3zM243.8 215.7h3v3h-3zM246.8 212.7h3v3h-3zM249.8 209.7h3v3h-3zM255.8 200.7h3v3h-3zM258.8 200.7h3v3h-3zM261.8 200.7h3v3h-3z"/>
<path fill="#b5b5b5" d="M48.8 179.7h3v3h-3zM60.8 107.7h3v3h-3zM60.8 188.7h3v3h-3zM63.8 104.7h3v3h-3zM66.8 101.7h3v3h-3zM81.8 92.7h3v3h-3zM90.8 200.7h3v3h-3zM105.8 92.7h3v3h-3zM117.8 200.7h3v3h-3zM120.8 200.7h3v3h-3zM123.8 200.7h3v3h-3zM126.8 200.7h3v3h-3zM132.8 110.7h3v3h-3zM132.8 125.7h3v9h-3zM132.8 203.7h3v3h-3zM135.8 140.7h3v3h-3zM135.8 203.7h3v3h-3zM138.8 146.7h3v3h-3zM141.8 206.7h3v3h-3zM144.8 152.7h3v3h-3zM147.8 209.7h3v3h-3zM150.8 152.7h3v3h-3zM153.8 149.7h3v3h-3zM153.8 212.7h3v3h-3zM156.8 107.7h3v3h-3zM156.8 122.7h3v6h-3zM156.8 140.7h3v3h-3zM156.8 212.7h3v3h-3zM162.8 98.7h3v3h-3zM162.8 215.7h3v3h-3zM165.8 95.7h3v3h-3zM171.8 218.7h3v3h-3zM177.8 221.7h3v3h-3zM183.8 224.7h3v3h-3zM198.8 236.7h3v3h-3zM201.8 239.7h3v3h-3zM204.8 239.7h3v3h-3zM207.8 239.7h3v3h-3zM210.8 239.7h3v3h-3zM213.8 236.7h3v3h-3zM225.8 71.7h3v3h-3zM225.8 227.7h3v3h-3zM246.8 80.7h3v3h-3zM252.8 206.7h3v3h-3z"/>
<path fill="#b6b6b6" d="M51.8 119.7h3v3h-3zM57.8 110.7h3v3h-3zM69.8 98.7h3v3h-3zM78.8 197.7h3v3h-3zM87.8 200.7h3v3h-3zM105.8 203.7h3v3h-3zM108.8 203.7h3v3h-3zM111.8 203.7h3v3h-3zM114.8 95.7h3v3h-3zM120.8 98.7h3v3h-3zM120.8 203.7h3v3h-3zM123.8 203.7h3v3h-3zM126.8 203.7h3v3h-3zM129.8 104.7h3v3h-3zM129.8 203.7h3v3h-3zM132.8 107.7h3v3h-3zM135.8 113.7h3v6h-3zM135.8 206.7h3v3h-3zM138.8 206.7h3v3h-3zM141.8 149.7h3v3h-3zM144.8 209.7h3v3h-3zM147.8 152.7h3v3h-3zM150.8 212.7h3v3h-3zM153.8 110.7h3v9h-3zM153.8 146.7h3v3h-3zM156.8 128.7h3v12h-3zM159.8 101.7h3v3h-3zM159.8 215.7h3v3h-3zM168.8 218.7h3v3h-3zM177.8 83.7h3v3h-3zM180.8 224.7h3v3h-3zM186.8 77.7h3v3h-3zM186.8 227.7h3v3h-3zM189.8 230.7h3v3h-3zM192.8 74.7h3v3h-3zM192.8 233.7h3v3h-3zM195.8 236.7h3v3h-3zM198.8 239.7h3v3h-3zM201.8 242.7h3v3h-3zM204.8 242.7h3v3h-3zM207.8 242.7h3v3h-3zM210.8 242.7h3v3h-3zM213.8 239.7h3v3h-3zM216.8 236.7h3v3h-3zM219.8 233.7h3v3h-3zM222.8 230.7h3v3h-3zM231.8 224.7h3v3h-3zM240.8 218.7h3v3h-3z"/>
<path fill="#b7b7b7" d="M48.8 119.7h3v3h-3zM69.8 194.7h3v3h-3zM72.8 95.7h3v3h-3zM78.8 92.7h3v3h-3zM84.8 200.7h3v3h-3zM96.8 203.7h3v3h-3zM99.8 203.7h3v3h-3zM102.8 203.7h3v3h-3zM108.8 92.7h3v3h-3zM114.8 203.7h3v3h-3zM117.8 203.7h3v3h-3zM126.8 101.7h3v3h-3zM129.8 206.7h3v3h-3zM132.8 206.7h3v3h-3zM135.8 110.7h3v3h-3zM135.8 119.7h3v6h-3zM135.8 137.7h3v3h-3zM138.8 143.7h3v3h-3zM138.8 209.7h3v3h-3zM141.8 209.7h3v3h-3zM144.8 149.7h3v3h-3zM147.8 149.7h3v3h-3zM147.8 212.7h3v3h-3zM150.8 149.7h3v3h-3zM153.8 107.7h3v3h-3zM153.8 119.7h3v3h-3zM156.8 104.7h3v3h-3zM156.8 215.7h3v3h-3zM165.8 218.7h3v3h-3zM174.8 221.7h3v3h-3zM183.8 227.7h3v3h-3zM186.8 230.7h3v3h-3zM189.8 233.7h3v3h-3zM192.8 236.7h3v3h-3zM195.8 239.7h3v3h-3zM198.8 242.7h3v3h-3zM201.8 71.7h3v3h-3zM213.8 242.7h3v3h-3zM216.8 239.7h3v3h-3zM219.8 236.7h3v3h-3zM228.8 71.7h3v3h-3zM228.8 227.7h3v3h-3zM237.8 221.7h3v3h-3z"/>
<path fill="#b8b8b8" d="M54.8 113.7h3v3h-3zM63.8 191.7h3v3h-3zM75.8 197.7h3v3h-3zM87.8 89.7h3v3h-3zM90.8 89.7h3v3h-3zM93.8 89.7h3v3h-3zM93.8 203.7h3v3h-3zM96.8 89.7h3v3h-3zM108.8 206.7h3v3h-3zM111.8 206.7h3v3h-3zM114.8 206.7h3v3h-3zM117.8 95.7h3v3h-3zM117.8 206.7h3v3h-3zM120.8 206.7h3v3h-3zM123.8 98.7h3v3h-3zM123.8 206.7h3v3h-3zM126.8 206.7h3v3h-3zM132.8 104.7h3v3h-3zM132.8 209.7h3v3h-3zM135.8 107.7h3v3h-3zM135.8 125.7h3v12h-3zM135.8 209.7h3v3h-3zM138.8 110.7h3v9h-3zM141.8 146.7h3v3h-3zM144.8 212.7h3v3h-3zM150.8 110.7h3v9h-3zM150.8 146.7h3v3h-3zM153.8 122.7h3v3h-3zM153.8 143.7h3v3h-3zM153.8 215.7h3v3h-3zM162.8 218.7h3v3h-3zM171.8 221.7h3v3h-3zM177.8 224.7h3v3h-3zM180.8 80.7h3v3h-3zM201.8 245.7h3v3h-3zM204.8 245.7h3v3h-3zM207.8 245.7h3v3h-3zM210.8 245.7h3v3h-3zM222.8 233.7h3v3h-3zM225.8 230.7h3v3h-3zM234.8 224.7h3v3h-3zM237.8 74.7h3v3h-3zM243.8 77.7h3v3h-3zM246.8 215.7h3v3h-3zM249.8 212.7h3v3h-3zM255.8 203.7h3v3h-3zM258.8 203.7h3v3h-3zM261.8 203.7h3v3h-3z"/>
<path fill="#b9b9b9" d="M54.8 185.7h3v3h-3zM75.8 92.7h3v3h-3zM81.8 200.7h3v3h-3zM84.8 89.7h3v3h-3zM90.8 203.7h3v3h-3zM99.8 89.7h3v3h-3zM99.8 206.7h3v3h-3zM102.8 206.7h3v3h-3zM105.8 206.7h3v3h-3zM111.8 92.7h3v3h-3zM123.8 209.7h3v3h-3zM126.8 209.7h3v3h-3zM129.8 101.7h3v3h-3zM129.8 209.7h3v3h-3zM138.8 107.7h3v3h-3zM138.8 119.7h3v3h-3zM138.8 140.7h3v3h-3zM138.8 212.7h3v3h-3zM141.8 110.7h3v9h-3zM141.8 212.7h3v3h-3zM144.8 113.7h3v3h-3zM144.8 146.7h3v3h-3zM147.8 110.7h3v9h-3zM147.8 146.7h3v3h-3zM150.8 107.7h3v3h-3zM150.8 119.7h3v3h-3zM150.8 215.7h3v3h-3zM153.8 104.7h3v3h-3zM153.8 125.7h3v6h-3zM153.8 137.7h3v6h-3zM156.8 101.7h3v3h-3zM159.8 98.7h3v3h-3zM159.8 218.7h3v3h-3zM162.8 95.7h3v3h-3zM165.8 92.7h3v3h-3zM168.8 221.7h3v3h-3zM174.8 224.7h3v3h-3zM180.8 227.7h3v3h-3zM183.8 230.7h3v3h-3zM186.8 233.7h3v3h-3zM189.8 236.7h3v3h-3zM192.8 239.7h3v3h-3zM195.8 242.7h3v3h-3zM198.8 71.7h3v3h-3zM198.8 245.7h3v3h-3zM213.8 245.7h3v3h-3zM216.8 242.7h3v3h-3zM219.8 239.7h3v3h-3zM222.8 236.7h3v3h-3zM231.8 227.7h3v3h-3zM243.8 218.7h3v3h-3zM252.8 209.7h3v3h-3z"/>
<path fill="#bababa" d="M51.8 116.7h3v3h-3zM51.8 182.7h3v3h-3zM57.8 188.7h3v3h-3zM60.8 104.7h3v3h-3zM63.8 101.7h3v3h-3zM66.8 98.7h3v3h-3zM66.8 194.7h3v3h-3zM72.8 197.7h3v3h-3zM87.8 203.7h3v3h-3zM96.8 206.7h3v3h-3zM102.8 89.7h3v3h-3zM105.8 209.7h3v3h-3zM108.8 209.7h3v3h-3zM111.8 209.7h3v3h-3zM114.8 209.7h3v3h-3zM117.8 209.7h3v3h-3zM120.8 209.7h3v3h-3zM132.8 212.7h3v3h-3zM135.8 104.7h3v3h-3zM135.8 212.7h3v3h-3zM138.8 122.7h3v6h-3zM138.8 137.7h3v3h-3zM141.8 107.7h3v3h-3zM141.8 119.7h3v3h-3zM141.8 143.7h3v3h-3zM144.8 110.7h3v3h-3zM144.8 116.7h3v3h-3zM147.8 107.7h3v3h-3zM147.8 119.7h3v3h-3zM147.8 215.7h3v3h-3zM150.8 122.7h3v3h-3zM150.8 143.7h3v3h-3zM153.8 131.7h3v6h-3zM156.8 218.7h3v3h-3zM165.8 221.7h3v3h-3zM168.8 89.7h3v3h-3zM171.8 86.7h3v3h-3zM177.8 227.7h3v3h-3zM189.8 74.7h3v3h-3zM189.8 239.7h3v3h-3zM192.8 242.7h3v3h-3zM201.8 248.7h3v3h-3zM204.8 248.7h3v3h-3zM207.8 248.7h3v3h-3zM210.8 248.7h3v3h-3zM216.8 245.7h3v3h-3zM225.8 233.7h3v3h-3zM228.8 230.7h3v3h-3zM240.8 221.7h3v3h-3zM252.8 83.7h3v3h-3zM255.8 86.7h3v3h-3zM258.8 86.7h3v3h-3zM261.8 86.7h3v3h-3z"/>
<path fill="#bbbbbb" d="M48.8 182.7h3v3h-3zM57.8 107.7h3v3h-3zM69.8 95.7h3v3h-3zM78.8 200.7h3v3h-3zM81.8 89.7h3v3h-3zM84.8 203.7h3v3h-3zM93.8 206.7h3v3h-3zM99.8 209.7h3v3h-3zM102.8 209.7h3v3h-3zM105.8 89.7h3v3h-3zM108.8 212.7h3v3h-3zM111.8 212.7h3v3h-3zM114.8 92.7h3v3h-3zM114.8 212.7h3v3h-3zM117.8 212.7h3v3h-3zM120.8 95.7h3v3h-3zM120.8 212.7h3v3h-3zM123.8 212.7h3v3h-3zM126.8 98.7h3v3h-3zM126.8 212.7h3v3h-3zM129.8 212.7h3v3h-3zM132.8 101.7h3v3h-3zM138.8 104.7h3v3h-3zM138.8 128.7h3v9h-3zM141.8 122.7h3v3h-3zM141.8 140.7h3v3h-3zM141.8 215.7h3v3h-3zM144.8 107.7h3v3h-3zM144.8 119.7h3v6h-3zM144.8 143.7h3v3h-3zM144.8 215.7h3v3h-3zM147.8 122.7h3v3h-3zM147.8 143.7h3v3h-3zM150.8 104.7h3v3h-3zM150.8 125.7h3v6h-3zM150.8 140.7h3v3h-3zM153.8 218.7h3v3h-3zM162.8 221.7h3v3h-3zM171.8 224.7h3v3h-3zM174.8 83.7h3v3h-3zM180.8 230.7h3v3h-3zM183.8 77.7h3v3h-3zM183.8 233.7h3v3h-3zM186.8 236.7h3v3h-3zM195.8 245.7h3v3h-3zM198.8 248.7h3v3h-3zM213.8 248.7h3v3h-3zM219.8 242.7h3v3h-3zM222.8 239.7h3v3h-3zM231.8 71.7h3v3h-3zM237.8 224.7h3v3h-3zM249.8 80.7h3v3h-3zM255.8 206.7h3v3h-3zM258.8 206.7h3v3h-3zM261.8 206.7h3v3h-3z"/>
<path fill="#bcbcbc" d="M48.8 116.7h3v3h-3zM60.8 191.7h3v3h-3zM90.8 206.7h3v3h-3zM96.8 209.7h3v3h-3zM102.8 212.7h3v3h-3zM105.8 212.7h3v3h-3zM135.8 215.7h3v3h-3zM138.8 215.7h3v3h-3zM141.8 104.7h3v3h-3zM141.8 125.7h3v6h-3zM141.8 137.7h3v3h-3zM144.8 104.7h3v3h-3zM144.8 125.7h3v3h-3zM144.8 140.7h3v3h-3zM147.8 104.7h3v3h-3zM147.8 125.7h3v3h-3zM147.8 140.7h3v3h-3zM150.8 131.7h3v9h-3zM150.8 218.7h3v3h-3zM153.8 101.7h3v3h-3zM156.8 98.7h3v3h-3zM168.8 224.7h3v3h-3zM174.8 227.7h3v3h-3zM189.8 242.7h3v3h-3zM192.8 245.7h3v3h-3zM204.8 251.7h3v3h-3zM207.8 251.7h3v3h-3zM219.8 245.7h3v3h-3zM225.8 236.7h3v3h-3zM228.8 233.7h3v3h-3zM231.8 230.7h3v3h-3zM234.8 227.7h3v3h-3zM240.8 74.7h3v3h-3z"/>
<path fill="#bdbdbd" d="M54.8 110.7h3v3h-3zM63.8 194.7h3v3h-3zM69.8 197.7h3v3h-3zM72.8 92.7h3v3h-3zM75.8 200.7h3v3h-3zM78.8 89.7h3v3h-3zM81.8 203.7h3v3h-3zM87.8 206.7h3v3h-3zM93.8 209.7h3v3h-3zM96.8 212.7h3v3h-3zM99.8 212.7h3v3h-3zM105.8 215.7h3v3h-3zM108.8 89.7h3v3h-3zM108.8 215.7h3v3h-3zM111.8 215.7h3v3h-3zM114.8 215.7h3v3h-3zM117.8 215.7h3v3h-3zM120.8 215.7h3v3h-3zM123.8 95.7h3v3h-3zM123.8 215.7h3v3h-3zM126.8 215.7h3v3h-3zM129.8 98.7h3v3h-3zM129.8 215.7h3v3h-3zM132.8 215.7h3v3h-3zM135.8 101.7h3v3h-3zM141.8 131.7h3v6h-3zM144.8 128.7h3v3h-3zM144.8 137.7h3v3h-3zM147.8 128.7h3v12h-3zM147.8 218.7h3v3h-3zM150.8 101.7h3v3h-3zM159.8 95.7h3v3h-3zM159.8 221.7h3v3h-3zM165.8 224.7h3v3h-3zM171.8 227.7h3v3h-3zM177.8 80.7h3v3h-3zM177.8 230.7h3v3h-3zM180.8 233.7h3v3h-3zM183.8 236.7h3v3h-3zM186.8 239.7h3v3h-3zM195.8 71.7h3v3h-3zM195.8 248.7h3v3h-3zM201.8 251.7h3v3h-3zM210.8 68.7h3v3h-3zM210.8 251.7h3v3h-3zM213.8 68.7h3v3h-3zM216.8 68.7h3v3h-3zM216.8 248.7h3v3h-3zM219.8 68.7h3v3h-3zM222.8 242.7h3v3h-3zM243.8 221.7h3v3h-3zM246.8 218.7h3v3h-3zM249.8 215.7h3v3h-3zM252.8 212.7h3v3h-3z"/>
<path fill="#bebebe" d="M84.8 206.7h3v3h-3zM87.8 86.7h3v3h-3zM90.8 86.7h3v3h-3zM90.8 209.7h3v3h-3zM93.8 86.7h3v3h-3zM93.8 212.7h3v3h-3zM96.8 86.7h3v3h-3zM99.8 215.7h3v3h-3zM102.8 215.7h3v3h-3zM117.8 92.7h3v3h-3zM138.8 101.7h3v3h-3zM141.8 218.7h3v3h-3zM144.8 131.7h3v6h-3zM144.8 218.7h3v3h-3zM156.8 221.7h3v3h-3zM162.8 92.7h3v3h-3zM174.8 230.7h3v3h-3zM198.8 251.7h3v3h-3zM207.8 68.7h3v3h-3zM213.8 251.7h3v3h-3zM219.8 248.7h3v3h-3zM225.8 239.7h3v3h-3zM228.8 236.7h3v3h-3zM234.8 71.7h3v3h-3zM240.8 224.7h3v3h-3zM246.8 77.7h3v3h-3z"/>
<path fill="#bfbfbf" d="M51.8 113.7h3v3h-3zM51.8 185.7h3v3h-3zM54.8 188.7h3v3h-3zM60.8 101.7h3v3h-3zM63.8 98.7h3v3h-3zM66.8 95.7h3v3h-3zM72.8 200.7h3v3h-3zM75.8 89.7h3v3h-3zM78.8 203.7h3v3h-3zM84.8 86.7h3v3h-3zM87.8 209.7h3v3h-3zM96.8 215.7h3v3h-3zM99.8 86.7h3v3h-3zM102.8 218.7h3v3h-3zM105.8 218.7h3v3h-3zM108.8 218.7h3v3h-3zM111.8 89.7h3v3h-3zM111.8 218.7h3v3h-3zM114.8 218.7h3v3h-3zM117.8 218.7h3v3h-3zM120.8 218.7h3v3h-3zM123.8 218.7h3v3h-3zM126.8 95.7h3v3h-3zM126.8 218.7h3v3h-3zM129.8 218.7h3v3h-3zM132.8 98.7h3v3h-3zM132.8 218.7h3v3h-3zM135.8 218.7h3v3h-3zM138.8 218.7h3v3h-3zM141.8 101.7h3v3h-3zM144.8 101.7h3v3h-3zM147.8 101.7h3v3h-3zM150.8 221.7h3v3h-3zM153.8 98.7h3v3h-3zM153.8 221.7h3v3h-3zM162.8 224.7h3v3h-3zM165.8 89.7h3v3h-3zM168.8 227.7h3v3h-3zM177.8 233.7h3v3h-3zM180.8 236.7h3v3h-3zM183.8 239.7h3v3h-3zM186.8 74.7h3v3h-3zM186.8 242.7h3v3h-3zM189.8 245.7h3v3h-3zM192.8 248.7h3v3h-3zM204.8 254.7h3v3h-3zM207.8 254.7h3v3h-3zM216.8 251.7h3v3h-3zM222.8 68.7h3v3h-3zM222.8 245.7h3v3h-3zM225.8 242.7h3v3h-3zM231.8 233.7h3v3h-3zM234.8 230.7h3v3h-3zM237.8 227.7h3v3h-3zM255.8 209.7h3v3h-3zM258.8 209.7h3v3h-3zM261.8 209.7h3v3h-3z"/>
<path fill="#c0c0c0" d="M48.8 113.7h3v3h-3zM48.8 185.7h3v3h-3zM57.8 104.7h3v3h-3zM57.8 191.7h3v3h-3zM66.8 197.7h3v3h-3zM69.8 92.7h3v3h-3zM81.8 86.7h3v3h-3zM81.8 206.7h3v3h-3zM90.8 212.7h3v3h-3zM93.8 215.7h3v3h-3zM99.8 218.7h3v3h-3zM102.8 86.7h3v3h-3zM120.8 92.7h3v3h-3zM135.8 98.7h3v3h-3zM147.8 221.7h3v3h-3zM156.8 95.7h3v3h-3zM159.8 224.7h3v3h-3zM168.8 86.7h3v3h-3zM171.8 230.7h3v3h-3zM180.8 77.7h3v3h-3zM192.8 71.7h3v3h-3zM195.8 251.7h3v3h-3zM201.8 254.7h3v3h-3zM204.8 68.7h3v3h-3zM210.8 254.7h3v3h-3zM213.8 254.7h3v3h-3zM225.8 68.7h3v3h-3zM228.8 239.7h3v3h-3z"/>
<path fill="#c1c1c1" d="M60.8 194.7h3v3h-3zM75.8 203.7h3v3h-3zM84.8 209.7h3v3h-3zM87.8 212.7h3v3h-3zM90.8 215.7h3v3h-3zM96.8 218.7h3v3h-3zM102.8 221.7h3v3h-3zM105.8 86.7h3v3h-3zM105.8 221.7h3v3h-3zM108.8 221.7h3v3h-3zM111.8 221.7h3v3h-3zM114.8 89.7h3v3h-3zM114.8 221.7h3v3h-3zM117.8 221.7h3v3h-3zM120.8 221.7h3v3h-3zM129.8 95.7h3v3h-3zM141.8 221.7h3v3h-3zM144.8 221.7h3v3h-3zM150.8 98.7h3v3h-3zM156.8 224.7h3v3h-3zM165.8 227.7h3v3h-3zM171.8 83.7h3v3h-3zM174.8 233.7h3v3h-3zM177.8 236.7h3v3h-3zM180.8 239.7h3v3h-3zM183.8 242.7h3v3h-3zM186.8 245.7h3v3h-3zM189.8 248.7h3v3h-3zM198.8 254.7h3v3h-3zM219.8 251.7h3v3h-3zM222.8 248.7h3v3h-3zM225.8 245.7h3v3h-3zM231.8 236.7h3v3h-3zM243.8 74.7h3v3h-3zM243.8 224.7h3v3h-3zM246.8 221.7h3v3h-3zM249.8 218.7h3v3h-3zM252.8 215.7h3v3h-3zM255.8 83.7h3v3h-3zM258.8 83.7h3v3h-3zM261.8 83.7h3v3h-3z"/>
<path fill="#c2c2c2" d="M54.8 107.7h3v3h-3zM69.8 200.7h3v3h-3zM72.8 89.7h3v3h-3zM78.8 86.7h3v3h-3zM78.8 206.7h3v3h-3zM93.8 218.7h3v3h-3zM99.8 221.7h3v3h-3zM123.8 92.7h3v3h-3zM123.8 221.7h3v3h-3zM126.8 221.7h3v3h-3zM129.8 221.7h3v3h-3zM132.8 221.7h3v3h-3zM135.8 221.7h3v3h-3zM138.8 98.7h3v3h-3zM138.8 221.7h3v3h-3zM141.8 98.7h3v3h-3zM144.8 98.7h3v3h-3zM147.8 98.7h3v3h-3zM153.8 224.7h3v3h-3zM159.8 92.7h3v3h-3zM162.8 227.7h3v3h-3zM168.8 230.7h3v3h-3zM174.8 80.7h3v3h-3zM192.8 251.7h3v3h-3zM201.8 68.7h3v3h-3zM216.8 254.7h3v3h-3zM228.8 242.7h3v3h-3zM234.8 233.7h3v3h-3zM237.8 71.7h3v3h-3zM237.8 230.7h3v3h-3zM240.8 227.7h3v3h-3zM252.8 80.7h3v3h-3zM255.8 212.7h3v3h-3zM258.8 212.7h3v3h-3zM261.8 212.7h3v3h-3z"/>
<path fill="#c3c3c3" d="M63.8 95.7h3v3h-3zM63.8 197.7h3v3h-3zM72.8 203.7h3v3h-3zM81.8 209.7h3v3h-3zM84.8 212.7h3v3h-3zM87.8 215.7h3v3h-3zM90.8 218.7h3v3h-3zM96.8 221.7h3v3h-3zM105.8 224.7h3v3h-3zM108.8 86.7h3v3h-3zM108.8 224.7h3v3h-3zM111.8 224.7h3v3h-3zM117.8 89.7h3v3h-3zM132.8 95.7h3v3h-3zM150.8 224.7h3v3h-3zM153.8 95.7h3v3h-3zM159.8 227.7h3v3h-3zM162.8 89.7h3v3h-3zM171.8 233.7h3v3h-3zM195.8 254.7h3v3h-3zM204.8 257.7h3v3h-3zM207.8 257.7h3v3h-3zM210.8 257.7h3v3h-3zM222.8 251.7h3v3h-3zM228.8 68.7h3v3h-3zM231.8 239.7h3v3h-3z"/>
<path fill="#c4c4c4" d="M51.8 110.7h3v3h-3zM51.8 188.7h3v3h-3zM54.8 191.7h3v3h-3zM60.8 98.7h3v3h-3zM66.8 92.7h3v3h-3zM66.8 200.7h3v3h-3zM75.8 86.7h3v3h-3zM75.8 206.7h3v3h-3zM87.8 83.7h3v3h-3zM90.8 83.7h3v3h-3zM93.8 83.7h3v3h-3zM93.8 221.7h3v3h-3zM96.8 83.7h3v3h-3zM99.8 224.7h3v3h-3zM102.8 224.7h3v3h-3zM114.8 224.7h3v3h-3zM117.8 224.7h3v3h-3zM120.8 224.7h3v3h-3zM126.8 92.7h3v3h-3zM144.8 224.7h3v3h-3zM147.8 224.7h3v3h-3zM165.8 86.7h3v3h-3zM165.8 230.7h3v3h-3zM174.8 236.7h3v3h-3zM177.8 239.7h3v3h-3zM180.8 242.7h3v3h-3zM183.8 74.7h3v3h-3zM183.8 245.7h3v3h-3zM186.8 248.7h3v3h-3zM189.8 71.7h3v3h-3zM189.8 251.7h3v3h-3zM198.8 68.7h3v3h-3zM201.8 257.7h3v3h-3zM213.8 257.7h3v3h-3zM219.8 254.7h3v3h-3zM225.8 248.7h3v3h-3zM228.8 245.7h3v3h-3zM234.8 236.7h3v3h-3zM249.8 77.7h3v3h-3z"/>
<path fill="#c5c5c5" d="M48.8 110.7h3v3h-3zM48.8 188.7h3v3h-3zM57.8 101.7h3v3h-3zM57.8 194.7h3v3h-3zM69.8 89.7h3v3h-3zM78.8 209.7h3v3h-3zM81.8 212.7h3v3h-3zM84.8 83.7h3v3h-3zM84.8 215.7h3v3h-3zM87.8 218.7h3v3h-3zM90.8 221.7h3v3h-3zM96.8 224.7h3v3h-3zM99.8 83.7h3v3h-3zM111.8 86.7h3v3h-3zM123.8 224.7h3v3h-3zM126.8 224.7h3v3h-3zM129.8 224.7h3v3h-3zM132.8 224.7h3v3h-3zM135.8 95.7h3v3h-3zM135.8 224.7h3v3h-3zM138.8 224.7h3v3h-3zM141.8 224.7h3v3h-3zM150.8 95.7h3v3h-3zM156.8 92.7h3v3h-3zM156.8 227.7h3v3h-3zM162.8 230.7h3v3h-3zM168.8 233.7h3v3h-3zM177.8 77.7h3v3h-3zM192.8 254.7h3v3h-3zM198.8 257.7h3v3h-3zM216.8 257.7h3v3h-3zM231.8 68.7h3v3h-3zM237.8 233.7h3v3h-3zM240.8 230.7h3v3h-3zM243.8 227.7h3v3h-3zM246.8 224.7h3v3h-3zM249.8 221.7h3v3h-3zM252.8 218.7h3v3h-3z"/>
<path fill="#c6c6c6" d="M54.8 104.7h3v3h-3zM60.8 197.7h3v3h-3zM69.8 203.7h3v3h-3zM81.8 83.7h3v3h-3zM93.8 224.7h3v3h-3zM102.8 83.7h3v3h-3zM102.8 227.7h3v3h-3zM105.8 227.7h3v3h-3zM108.8 227.7h3v3h-3zM111.8 227.7h3v3h-3zM120.8 89.7h3v3h-3zM129.8 92.7h3v3h-3zM138.8 95.7h3v3h-3zM141.8 95.7h3v3h-3zM144.8 95.7h3v3h-3zM147.8 95.7h3v3h-3zM153.8 227.7h3v3h-3zM168.8 83.7h3v3h-3zM171.8 236.7h3v3h-3zM174.8 239.7h3v3h-3zM222.8 254.7h3v3h-3zM225.8 251.7h3v3h-3zM231.8 242.7h3v3h-3zM240.8 71.7h3v3h-3zM246.8 74.7h3v3h-3zM255.8 215.7h3v3h-3zM258.8 215.7h3v3h-3zM261.8 215.7h3v3h-3z"/>
<path fill="#c7c7c7" d="M63.8 200.7h3v3h-3zM72.8 86.7h3v3h-3zM72.8 206.7h3v3h-3zM75.8 209.7h3v3h-3zM78.8 83.7h3v3h-3zM78.8 212.7h3v3h-3zM81.8 215.7h3v3h-3zM84.8 218.7h3v3h-3zM87.8 221.7h3v3h-3zM90.8 224.7h3v3h-3zM96.8 227.7h3v3h-3zM99.8 227.7h3v3h-3zM105.8 83.7h3v3h-3zM114.8 86.7h3v3h-3zM114.8 227.7h3v3h-3zM117.8 227.7h3v3h-3zM120.8 227.7h3v3h-3zM147.8 227.7h3v3h-3zM150.8 227.7h3v3h-3zM153.8 92.7h3v3h-3zM159.8 89.7h3v3h-3zM159.8 230.7h3v3h-3zM165.8 233.7h3v3h-3zM171.8 80.7h3v3h-3zM177.8 242.7h3v3h-3zM180.8 245.7h3v3h-3zM183.8 248.7h3v3h-3zM186.8 251.7h3v3h-3zM195.8 68.7h3v3h-3zM195.8 257.7h3v3h-3zM204.8 260.7h3v3h-3zM207.8 260.7h3v3h-3zM210.8 260.7h3v3h-3zM219.8 257.7h3v3h-3zM228.8 248.7h3v3h-3zM234.8 239.7h3v3h-3z"/>
<path fill="#c8c8c8" d="M51.8 107.7h3v3h-3zM60.8 95.7h3v3h-3zM63.8 92.7h3v3h-3zM66.8 203.7h3v3h-3zM84.8 221.7h3v3h-3zM93.8 227.7h3v3h-3zM123.8 89.7h3v3h-3zM123.8 227.7h3v3h-3zM126.8 227.7h3v3h-3zM132.8 92.7h3v3h-3zM144.8 227.7h3v3h-3zM156.8 230.7h3v3h-3zM162.8 86.7h3v3h-3zM168.8 236.7h3v3h-3zM180.8 74.7h3v3h-3zM186.8 71.7h3v3h-3zM189.8 254.7h3v3h-3zM201.8 260.7h3v3h-3zM210.8 65.7h3v3h-3zM213.8 65.7h3v3h-3zM213.8 260.7h3v3h-3zM216.8 65.7h3v3h-3zM231.8 245.7h3v3h-3zM234.8 68.7h3v3h-3zM237.8 236.7h3v3h-3zM240.8 233.7h3v3h-3zM255.8 80.7h3v3h-3zM258.8 80.7h3v3h-3zM261.8 80.7h3v3h-3z"/>
<path fill="#c9c9c9" d="M48.8 107.7h3v3h-3zM51.8 191.7h3v3h-3zM54.8 194.7h3v3h-3zM57.8 98.7h3v3h-3zM66.8 89.7h3v3h-3zM69.8 206.7h3v3h-3zM75.8 83.7h3v3h-3zM75.8 212.7h3v3h-3zM78.8 215.7h3v3h-3zM81.8 218.7h3v3h-3zM87.8 80.7h3v3h-3zM87.8 224.7h3v3h-3zM90.8 80.7h3v3h-3zM93.8 80.7h3v3h-3zM105.8 230.7h3v3h-3zM108.8 83.7h3v3h-3zM117.8 86.7h3v3h-3zM129.8 227.7h3v3h-3zM132.8 227.7h3v3h-3zM135.8 92.7h3v3h-3zM135.8 227.7h3v3h-3zM138.8 227.7h3v3h-3zM141.8 227.7h3v3h-3zM150.8 92.7h3v3h-3zM153.8 230.7h3v3h-3zM162.8 233.7h3v3h-3zM171.8 239.7h3v3h-3zM174.8 242.7h3v3h-3zM192.8 257.7h3v3h-3zM198.8 260.7h3v3h-3zM207.8 65.7h3v3h-3zM216.8 260.7h3v3h-3zM219.8 65.7h3v3h-3zM222.8 257.7h3v3h-3zM225.8 254.7h3v3h-3zM228.8 251.7h3v3h-3zM234.8 242.7h3v3h-3zM243.8 230.7h3v3h-3zM246.8 227.7h3v3h-3zM249.8 224.7h3v3h-3zM252.8 77.7h3v3h-3zM252.8 221.7h3v3h-3zM255.8 218.7h3v3h-3zM258.8 218.7h3v3h-3zM261.8 218.7h3v3h-3z"/>
<path fill="#cacaca" d="M48.8 191.7h3v3h-3zM54.8 101.7h3v3h-3zM57.8 197.7h3v3h-3zM69.8 86.7h3v3h-3zM72.8 209.7h3v3h-3zM84.8 80.7h3v3h-3zM84.8 224.7h3v3h-3zM90.8 227.7h3v3h-3zM96.8 80.7h3v3h-3zM99.8 80.7h3v3h-3zM99.8 230.7h3v3h-3zM102.8 230.7h3v3h-3zM108.8 230.7h3v3h-3zM111.8 230.7h3v3h-3zM114.8 230.7h3v3h-3zM126.8 89.7h3v3h-3zM138.8 92.7h3v3h-3zM147.8 92.7h3v3h-3zM150.8 230.7h3v3h-3zM156.8 89.7h3v3h-3zM159.8 233.7h3v3h-3zM165.8 83.7h3v3h-3zM165.8 236.7h3v3h-3zM174.8 77.7h3v3h-3zM177.8 245.7h3v3h-3zM180.8 248.7h3v3h-3zM183.8 251.7h3v3h-3zM186.8 254.7h3v3h-3zM192.8 68.7h3v3h-3zM219.8 260.7h3v3h-3zM222.8 65.7h3v3h-3zM231.8 248.7h3v3h-3zM237.8 239.7h3v3h-3zM243.8 71.7h3v3h-3z"/>
<path fill="#cbcbcb" d="M60.8 200.7h3v3h-3zM63.8 203.7h3v3h-3zM78.8 218.7h3v3h-3zM81.8 80.7h3v3h-3zM81.8 221.7h3v3h-3zM87.8 227.7h3v3h-3zM93.8 230.7h3v3h-3zM96.8 230.7h3v3h-3zM111.8 83.7h3v3h-3zM117.8 230.7h3v3h-3zM120.8 86.7h3v3h-3zM120.8 230.7h3v3h-3zM129.8 89.7h3v3h-3zM141.8 92.7h3v3h-3zM144.8 92.7h3v3h-3zM147.8 230.7h3v3h-3zM168.8 239.7h3v3h-3zM189.8 257.7h3v3h-3zM195.8 260.7h3v3h-3zM204.8 65.7h3v3h-3zM204.8 263.7h3v3h-3zM207.8 263.7h3v3h-3zM210.8 263.7h3v3h-3zM225.8 65.7h3v3h-3zM234.8 245.7h3v3h-3zM240.8 236.7h3v3h-3z"/>
<path fill="#cccccc" d="M51.8 104.7h3v3h-3zM60.8 92.7h3v3h-3zM63.8 89.7h3v3h-3zM66.8 206.7h3v3h-3zM69.8 209.7h3v3h-3zM72.8 83.7h3v3h-3zM72.8 212.7h3v3h-3zM75.8 215.7h3v3h-3zM78.8 80.7h3v3h-3zM102.8 80.7h3v3h-3zM123.8 230.7h3v3h-3zM126.8 230.7h3v3h-3zM129.8 230.7h3v3h-3zM141.8 230.7h3v3h-3zM144.8 230.7h3v3h-3zM153.8 89.7h3v3h-3zM156.8 233.7h3v3h-3zM159.8 86.7h3v3h-3zM162.8 236.7h3v3h-3zM168.8 80.7h3v3h-3zM171.8 242.7h3v3h-3zM174.8 245.7h3v3h-3zM183.8 71.7h3v3h-3zM201.8 65.7h3v3h-3zM201.8 263.7h3v3h-3zM213.8 263.7h3v3h-3zM225.8 257.7h3v3h-3zM228.8 254.7h3v3h-3zM231.8 251.7h3v3h-3zM237.8 68.7h3v3h-3zM237.8 242.7h3v3h-3zM243.8 233.7h3v3h-3zM246.8 230.7h3v3h-3zM249.8 74.7h3v3h-3zM249.8 227.7h3v3h-3z"/>
<path fill="#cdcdcd" d="M48.8 104.7h3v3h-3zM51.8 194.7h3v3h-3zM54.8 197.7h3v3h-3zM57.8 95.7h3v3h-3zM66.8 86.7h3v3h-3zM75.8 218.7h3v3h-3zM78.8 221.7h3v3h-3zM81.8 224.7h3v3h-3zM84.8 227.7h3v3h-3zM90.8 230.7h3v3h-3zM102.8 233.7h3v3h-3zM105.8 80.7h3v3h-3zM105.8 233.7h3v3h-3zM108.8 233.7h3v3h-3zM114.8 83.7h3v3h-3zM123.8 86.7h3v3h-3zM132.8 89.7h3v3h-3zM132.8 230.7h3v3h-3zM135.8 230.7h3v3h-3zM138.8 230.7h3v3h-3zM153.8 233.7h3v3h-3zM177.8 74.7h3v3h-3zM177.8 248.7h3v3h-3zM180.8 251.7h3v3h-3zM183.8 254.7h3v3h-3zM189.8 68.7h3v3h-3zM192.8 260.7h3v3h-3zM198.8 263.7h3v3h-3zM216.8 263.7h3v3h-3zM222.8 260.7h3v3h-3zM228.8 65.7h3v3h-3zM234.8 248.7h3v3h-3zM252.8 224.7h3v3h-3zM255.8 221.7h3v3h-3zM258.8 221.7h3v3h-3zM261.8 221.7h3v3h-3z"/>
<path fill="#cecece" d="M48.8 194.7h3v3h-3zM54.8 98.7h3v3h-3zM57.8 200.7h3v3h-3zM69.8 83.7h3v3h-3zM72.8 215.7h3v3h-3zM75.8 80.7h3v3h-3zM87.8 230.7h3v3h-3zM90.8 77.7h3v3h-3zM96.8 233.7h3v3h-3zM99.8 233.7h3v3h-3zM108.8 80.7h3v3h-3zM111.8 233.7h3v3h-3zM114.8 233.7h3v3h-3zM117.8 233.7h3v3h-3zM135.8 89.7h3v3h-3zM150.8 89.7h3v3h-3zM150.8 233.7h3v3h-3zM159.8 236.7h3v3h-3zM162.8 83.7h3v3h-3zM165.8 239.7h3v3h-3zM171.8 77.7h3v3h-3zM186.8 257.7h3v3h-3zM198.8 65.7h3v3h-3zM219.8 263.7h3v3h-3zM240.8 239.7h3v3h-3z"/>
<path fill="#cfcfcf" d="M60.8 203.7h3v3h-3zM63.8 206.7h3v3h-3zM66.8 209.7h3v3h-3zM69.8 212.7h3v3h-3zM75.8 221.7h3v3h-3zM78.8 224.7h3v3h-3zM81.8 227.7h3v3h-3zM84.8 77.7h3v3h-3zM87.8 77.7h3v3h-3zM93.8 77.7h3v3h-3zM93.8 233.7h3v3h-3zM96.8 77.7h3v3h-3zM117.8 83.7h3v3h-3zM120.8 233.7h3v3h-3zM123.8 233.7h3v3h-3zM126.8 86.7h3v3h-3zM138.8 89.7h3v3h-3zM147.8 89.7h3v3h-3zM147.8 233.7h3v3h-3zM156.8 86.7h3v3h-3zM168.8 242.7h3v3h-3zM171.8 245.7h3v3h-3zM189.8 260.7h3v3h-3zM195.8 263.7h3v3h-3zM204.8 266.7h3v3h-3zM207.8 266.7h3v3h-3zM210.8 266.7h3v3h-3zM225.8 260.7h3v3h-3zM228.8 257.7h3v3h-3zM231.8 65.7h3v3h-3zM231.8 254.7h3v3h-3zM237.8 245.7h3v3h-3zM240.8 68.7h3v3h-3zM243.8 236.7h3v3h-3zM246.8 71.7h3v3h-3zM246.8 233.7h3v3h-3zM255.8 77.7h3v3h-3zM258.8 77.7h3v3h-3zM261.8 77.7h3v3h-3z"/>
<path fill="#d0d0d0" d="M51.8 101.7h3v3h-3zM60.8 89.7h3v3h-3zM63.8 86.7h3v3h-3zM72.8 80.7h3v3h-3zM72.8 218.7h3v3h-3zM81.8 77.7h3v3h-3zM84.8 230.7h3v3h-3zM90.8 233.7h3v3h-3zM99.8 77.7h3v3h-3zM111.8 80.7h3v3h-3zM126.8 233.7h3v3h-3zM129.8 233.7h3v3h-3zM141.8 89.7h3v3h-3zM141.8 233.7h3v3h-3zM144.8 89.7h3v3h-3zM144.8 233.7h3v3h-3zM156.8 236.7h3v3h-3zM162.8 239.7h3v3h-3zM165.8 80.7h3v3h-3zM174.8 248.7h3v3h-3zM177.8 251.7h3v3h-3zM180.8 71.7h3v3h-3zM180.8 254.7h3v3h-3zM201.8 266.7h3v3h-3zM213.8 266.7h3v3h-3zM222.8 263.7h3v3h-3zM234.8 251.7h3v3h-3zM240.8 242.7h3v3h-3zM249.8 230.7h3v3h-3zM252.8 227.7h3v3h-3zM255.8 224.7h3v3h-3zM258.8 224.7h3v3h-3zM261.8 224.7h3v3h-3z"/>
<path fill="#d1d1d1" d="M48.8 101.7h3v3h-3zM51.8 197.7h3v3h-3zM54.8 200.7h3v3h-3zM57.8 92.7h3v3h-3zM66.8 83.7h3v3h-3zM69.8 215.7h3v3h-3zM75.8 224.7h3v3h-3zM78.8 77.7h3v3h-3zM78.8 227.7h3v3h-3zM81.8 230.7h3v3h-3zM87.8 233.7h3v3h-3zM102.8 77.7h3v3h-3zM102.8 236.7h3v3h-3zM105.8 236.7h3v3h-3zM120.8 83.7h3v3h-3zM129.8 86.7h3v3h-3zM132.8 233.7h3v3h-3zM135.8 233.7h3v3h-3zM138.8 233.7h3v3h-3zM153.8 86.7h3v3h-3zM153.8 236.7h3v3h-3zM159.8 83.7h3v3h-3zM165.8 242.7h3v3h-3zM174.8 74.7h3v3h-3zM183.8 257.7h3v3h-3zM186.8 68.7h3v3h-3zM192.8 263.7h3v3h-3zM195.8 65.7h3v3h-3zM198.8 266.7h3v3h-3zM216.8 266.7h3v3h-3zM237.8 248.7h3v3h-3zM243.8 239.7h3v3h-3zM252.8 74.7h3v3h-3z"/>
<path fill="#d2d2d2" d="M48.8 197.7h3v3h-3zM54.8 95.7h3v3h-3zM57.8 203.7h3v3h-3zM60.8 206.7h3v3h-3zM63.8 209.7h3v3h-3zM66.8 212.7h3v3h-3zM72.8 221.7h3v3h-3zM96.8 236.7h3v3h-3zM99.8 236.7h3v3h-3zM105.8 77.7h3v3h-3zM108.8 236.7h3v3h-3zM111.8 236.7h3v3h-3zM114.8 80.7h3v3h-3zM114.8 236.7h3v3h-3zM123.8 83.7h3v3h-3zM132.8 86.7h3v3h-3zM150.8 236.7h3v3h-3zM159.8 239.7h3v3h-3zM168.8 77.7h3v3h-3zM168.8 245.7h3v3h-3zM186.8 260.7h3v3h-3zM213.8 62.7h3v3h-3zM216.8 62.7h3v3h-3zM219.8 266.7h3v3h-3zM228.8 260.7h3v3h-3zM231.8 257.7h3v3h-3zM234.8 65.7h3v3h-3zM234.8 254.7h3v3h-3zM240.8 245.7h3v3h-3zM246.8 236.7h3v3h-3z"/>
<path fill="#d3d3d3" d="M51.8 98.7h3v3h-3zM69.8 80.7h3v3h-3zM69.8 218.7h3v3h-3zM75.8 77.7h3v3h-3zM75.8 227.7h3v3h-3zM78.8 230.7h3v3h-3zM84.8 233.7h3v3h-3zM90.8 74.7h3v3h-3zM93.8 74.7h3v3h-3zM93.8 236.7h3v3h-3zM117.8 236.7h3v3h-3zM120.8 236.7h3v3h-3zM135.8 86.7h3v3h-3zM147.8 236.7h3v3h-3zM150.8 86.7h3v3h-3zM156.8 239.7h3v3h-3zM162.8 242.7h3v3h-3zM171.8 248.7h3v3h-3zM174.8 251.7h3v3h-3zM177.8 254.7h3v3h-3zM189.8 263.7h3v3h-3zM192.8 65.7h3v3h-3zM195.8 266.7h3v3h-3zM207.8 62.7h3v3h-3zM207.8 269.7h3v3h-3zM210.8 62.7h3v3h-3zM210.8 269.7h3v3h-3zM219.8 62.7h3v3h-3zM225.8 263.7h3v3h-3zM237.8 251.7h3v3h-3zM243.8 68.7h3v3h-3zM249.8 71.7h3v3h-3zM249.8 233.7h3v3h-3zM252.8 230.7h3v3h-3z"/>
<path fill="#d4d4d4" d="M48.8 98.7h3v3h-3zM57.8 89.7h3v3h-3zM60.8 86.7h3v3h-3zM63.8 83.7h3v3h-3zM66.8 215.7h3v3h-3zM72.8 224.7h3v3h-3zM81.8 233.7h3v3h-3zM84.8 74.7h3v3h-3zM87.8 74.7h3v3h-3zM90.8 236.7h3v3h-3zM96.8 74.7h3v3h-3zM108.8 77.7h3v3h-3zM117.8 80.7h3v3h-3zM123.8 236.7h3v3h-3zM126.8 83.7h3v3h-3zM126.8 236.7h3v3h-3zM129.8 236.7h3v3h-3zM138.8 86.7h3v3h-3zM141.8 236.7h3v3h-3zM144.8 236.7h3v3h-3zM147.8 86.7h3v3h-3zM156.8 83.7h3v3h-3zM162.8 80.7h3v3h-3zM177.8 71.7h3v3h-3zM180.8 257.7h3v3h-3zM183.8 68.7h3v3h-3zM201.8 269.7h3v3h-3zM204.8 62.7h3v3h-3zM204.8 269.7h3v3h-3zM213.8 269.7h3v3h-3zM222.8 62.7h3v3h-3zM222.8 266.7h3v3h-3zM237.8 65.7h3v3h-3zM240.8 248.7h3v3h-3zM243.8 242.7h3v3h-3zM255.8 227.7h3v3h-3zM258.8 227.7h3v3h-3zM261.8 227.7h3v3h-3z"/>
<path fill="#d5d5d5" d="M51.8 200.7h3v3h-3zM54.8 92.7h3v3h-3zM54.8 203.7h3v3h-3zM57.8 206.7h3v3h-3zM60.8 209.7h3v3h-3zM63.8 212.7h3v3h-3zM66.8 80.7h3v3h-3zM69.8 221.7h3v3h-3zM72.8 77.7h3v3h-3zM81.8 74.7h3v3h-3zM87.8 236.7h3v3h-3zM99.8 74.7h3v3h-3zM111.8 77.7h3v3h-3zM132.8 236.7h3v3h-3zM135.8 236.7h3v3h-3zM138.8 236.7h3v3h-3zM141.8 86.7h3v3h-3zM144.8 86.7h3v3h-3zM153.8 239.7h3v3h-3zM159.8 242.7h3v3h-3zM165.8 245.7h3v3h-3zM168.8 248.7h3v3h-3zM171.8 74.7h3v3h-3zM183.8 260.7h3v3h-3zM192.8 266.7h3v3h-3zM216.8 269.7h3v3h-3zM225.8 62.7h3v3h-3zM228.8 263.7h3v3h-3zM231.8 260.7h3v3h-3zM234.8 257.7h3v3h-3zM246.8 239.7h3v3h-3zM255.8 74.7h3v3h-3zM258.8 74.7h3v3h-3zM261.8 74.7h3v3h-3z"/>
<path fill="#d6d6d6" d="M48.8 200.7h3v3h-3zM66.8 218.7h3v3h-3zM72.8 227.7h3v3h-3zM75.8 230.7h3v3h-3zM78.8 74.7h3v3h-3zM78.8 233.7h3v3h-3zM84.8 236.7h3v3h-3zM96.8 239.7h3v3h-3zM99.8 239.7h3v3h-3zM102.8 74.7h3v3h-3zM102.8 239.7h3v3h-3zM105.8 239.7h3v3h-3zM108.8 239.7h3v3h-3zM111.8 239.7h3v3h-3zM120.8 80.7h3v3h-3zM129.8 83.7h3v3h-3zM150.8 239.7h3v3h-3zM153.8 83.7h3v3h-3zM165.8 77.7h3v3h-3zM171.8 251.7h3v3h-3zM186.8 263.7h3v3h-3zM189.8 65.7h3v3h-3zM198.8 269.7h3v3h-3zM201.8 62.7h3v3h-3zM219.8 269.7h3v3h-3zM225.8 266.7h3v3h-3zM228.8 62.7h3v3h-3zM237.8 254.7h3v3h-3zM243.8 245.7h3v3h-3zM249.8 236.7h3v3h-3zM252.8 233.7h3v3h-3z"/>
<path fill="#d7d7d7" d="M48.8 95.7h3v3h-3zM51.8 95.7h3v3h-3zM63.8 215.7h3v3h-3zM69.8 77.7h3v3h-3zM69.8 224.7h3v3h-3zM75.8 74.7h3v3h-3zM81.8 236.7h3v3h-3zM90.8 239.7h3v3h-3zM93.8 239.7h3v3h-3zM105.8 74.7h3v3h-3zM114.8 77.7h3v3h-3zM114.8 239.7h3v3h-3zM117.8 239.7h3v3h-3zM132.8 83.7h3v3h-3zM147.8 239.7h3v3h-3zM156.8 242.7h3v3h-3zM159.8 80.7h3v3h-3zM162.8 245.7h3v3h-3zM174.8 254.7h3v3h-3zM177.8 257.7h3v3h-3zM189.8 266.7h3v3h-3zM195.8 269.7h3v3h-3zM198.8 62.7h3v3h-3zM240.8 65.7h3v3h-3zM240.8 251.7h3v3h-3zM246.8 68.7h3v3h-3zM246.8 242.7h3v3h-3zM255.8 230.7h3v3h-3zM258.8 230.7h3v3h-3zM261.8 230.7h3v3h-3z"/>
<path fill="#d8d8d8" d="M51.8 203.7h3v3h-3zM54.8 206.7h3v3h-3zM57.8 86.7h3v3h-3zM57.8 209.7h3v3h-3zM60.8 83.7h3v3h-3zM60.8 212.7h3v3h-3zM63.8 80.7h3v3h-3zM66.8 221.7h3v3h-3zM72.8 230.7h3v3h-3zM75.8 233.7h3v3h-3zM87.8 71.7h3v3h-3zM87.8 239.7h3v3h-3zM90.8 71.7h3v3h-3zM93.8 71.7h3v3h-3zM108.8 74.7h3v3h-3zM120.8 239.7h3v3h-3zM123.8 80.7h3v3h-3zM123.8 239.7h3v3h-3zM126.8 239.7h3v3h-3zM135.8 83.7h3v3h-3zM144.8 239.7h3v3h-3zM150.8 83.7h3v3h-3zM165.8 248.7h3v3h-3zM174.8 71.7h3v3h-3zM180.8 68.7h3v3h-3zM180.8 260.7h3v3h-3zM183.8 263.7h3v3h-3zM204.8 272.7h3v3h-3zM207.8 272.7h3v3h-3zM210.8 272.7h3v3h-3zM213.8 272.7h3v3h-3zM222.8 269.7h3v3h-3zM231.8 62.7h3v3h-3zM231.8 263.7h3v3h-3zM234.8 260.7h3v3h-3zM237.8 257.7h3v3h-3zM243.8 248.7h3v3h-3zM249.8 239.7h3v3h-3zM252.8 71.7h3v3h-3z"/>
<path fill="#d9d9d9" d="M48.8 203.7h3v3h-3zM54.8 89.7h3v3h-3zM63.8 218.7h3v3h-3zM66.8 77.7h3v3h-3zM69.8 227.7h3v3h-3zM72.8 74.7h3v3h-3zM78.8 236.7h3v3h-3zM81.8 71.7h3v3h-3zM84.8 71.7h3v3h-3zM84.8 239.7h3v3h-3zM96.8 71.7h3v3h-3zM99.8 71.7h3v3h-3zM117.8 77.7h3v3h-3zM126.8 80.7h3v3h-3zM129.8 239.7h3v3h-3zM132.8 239.7h3v3h-3zM135.8 239.7h3v3h-3zM138.8 83.7h3v3h-3zM138.8 239.7h3v3h-3zM141.8 239.7h3v3h-3zM147.8 83.7h3v3h-3zM153.8 242.7h3v3h-3zM156.8 80.7h3v3h-3zM159.8 245.7h3v3h-3zM162.8 77.7h3v3h-3zM168.8 74.7h3v3h-3zM168.8 251.7h3v3h-3zM186.8 65.7h3v3h-3zM192.8 269.7h3v3h-3zM195.8 62.7h3v3h-3zM201.8 272.7h3v3h-3zM216.8 272.7h3v3h-3zM228.8 266.7h3v3h-3zM240.8 254.7h3v3h-3zM246.8 245.7h3v3h-3zM252.8 236.7h3v3h-3z"/>
<path fill="#dadada" d="M51.8 92.7h3v3h-3zM60.8 215.7h3v3h-3zM66.8 224.7h3v3h-3zM72.8 233.7h3v3h-3zM78.8 71.7h3v3h-3zM99.8 242.7h3v3h-3zM102.8 71.7h3v3h-3zM102.8 242.7h3v3h-3zM105.8 242.7h3v3h-3zM111.8 74.7h3v3h-3zM120.8 77.7h3v3h-3zM141.8 83.7h3v3h-3zM144.8 83.7h3v3h-3zM150.8 242.7h3v3h-3zM171.8 254.7h3v3h-3zM174.8 257.7h3v3h-3zM186.8 266.7h3v3h-3zM198.8 272.7h3v3h-3zM225.8 269.7h3v3h-3zM234.8 62.7h3v3h-3zM243.8 251.7h3v3h-3zM249.8 68.7h3v3h-3zM255.8 233.7h3v3h-3zM258.8 233.7h3v3h-3zM261.8 233.7h3v3h-3z"/>
<path fill="#dbdbdb" d="M48.8 92.7h3v3h-3zM51.8 206.7h3v3h-3zM54.8 209.7h3v3h-3zM57.8 83.7h3v3h-3zM57.8 212.7h3v3h-3zM60.8 80.7h3v3h-3zM63.8 221.7h3v3h-3zM66.8 227.7h3v3h-3zM69.8 74.7h3v3h-3zM69.8 230.7h3v3h-3zM75.8 236.7h3v3h-3zM81.8 239.7h3v3h-3zM93.8 242.7h3v3h-3zM96.8 242.7h3v3h-3zM105.8 71.7h3v3h-3zM108.8 242.7h3v3h-3zM111.8 242.7h3v3h-3zM114.8 74.7h3v3h-3zM114.8 242.7h3v3h-3zM129.8 80.7h3v3h-3zM147.8 242.7h3v3h-3zM153.8 80.7h3v3h-3zM156.8 245.7h3v3h-3zM162.8 248.7h3v3h-3zM171.8 71.7h3v3h-3zM177.8 68.7h3v3h-3zM177.8 260.7h3v3h-3zM180.8 263.7h3v3h-3zM189.8 269.7h3v3h-3zM195.8 272.7h3v3h-3zM213.8 59.7h3v3h-3zM216.8 59.7h3v3h-3zM219.8 272.7h3v3h-3zM231.8 266.7h3v3h-3zM234.8 263.7h3v3h-3zM237.8 260.7h3v3h-3zM243.8 65.7h3v3h-3zM249.8 242.7h3v3h-3z"/>
<path fill="#dcdcdc" d="M48.8 206.7h3v3h-3zM54.8 86.7h3v3h-3zM60.8 218.7h3v3h-3zM63.8 77.7h3v3h-3zM63.8 224.7h3v3h-3zM75.8 71.7h3v3h-3zM78.8 239.7h3v3h-3zM87.8 68.7h3v3h-3zM87.8 242.7h3v3h-3zM90.8 68.7h3v3h-3zM90.8 242.7h3v3h-3zM93.8 68.7h3v3h-3zM108.8 71.7h3v3h-3zM117.8 242.7h3v3h-3zM120.8 242.7h3v3h-3zM123.8 77.7h3v3h-3zM123.8 242.7h3v3h-3zM132.8 80.7h3v3h-3zM144.8 242.7h3v3h-3zM159.8 77.7h3v3h-3zM165.8 74.7h3v3h-3zM165.8 251.7h3v3h-3zM183.8 65.7h3v3h-3zM183.8 266.7h3v3h-3zM192.8 62.7h3v3h-3zM204.8 275.7h3v3h-3zM207.8 59.7h3v3h-3zM207.8 275.7h3v3h-3zM210.8 59.7h3v3h-3zM210.8 275.7h3v3h-3zM219.8 59.7h3v3h-3zM222.8 59.7h3v3h-3zM222.8 272.7h3v3h-3zM228.8 269.7h3v3h-3zM240.8 257.7h3v3h-3zM246.8 248.7h3v3h-3zM252.8 239.7h3v3h-3zM255.8 71.7h3v3h-3zM258.8 71.7h3v3h-3zM261.8 71.7h3v3h-3z"/>
<path fill="#dddddd" d="M48.8 89.7h3v3h-3zM51.8 89.7h3v3h-3zM57.8 215.7h3v3h-3zM66.8 74.7h3v3h-3zM66.8 230.7h3v3h-3zM69.8 233.7h3v3h-3zM72.8 71.7h3v3h-3zM72.8 236.7h3v3h-3zM84.8 68.7h3v3h-3zM84.8 242.7h3v3h-3zM96.8 68.7h3v3h-3zM99.8 68.7h3v3h-3zM117.8 74.7h3v3h-3zM126.8 242.7h3v3h-3zM129.8 242.7h3v3h-3zM132.8 242.7h3v3h-3zM135.8 80.7h3v3h-3zM135.8 242.7h3v3h-3zM138.8 242.7h3v3h-3zM141.8 242.7h3v3h-3zM150.8 80.7h3v3h-3zM153.8 245.7h3v3h-3zM159.8 248.7h3v3h-3zM168.8 254.7h3v3h-3zM171.8 257.7h3v3h-3zM186.8 269.7h3v3h-3zM192.8 272.7h3v3h-3zM201.8 275.7h3v3h-3zM204.8 59.7h3v3h-3zM213.8 275.7h3v3h-3zM216.8 275.7h3v3h-3zM225.8 59.7h3v3h-3zM237.8 62.7h3v3h-3zM243.8 254.7h3v3h-3zM249.8 245.7h3v3h-3zM255.8 236.7h3v3h-3zM258.8 236.7h3v3h-3zM261.8 236.7h3v3h-3z"/>
<path fill="#dedede" d="M51.8 209.7h3v3h-3zM54.8 212.7h3v3h-3zM60.8 221.7h3v3h-3zM63.8 227.7h3v3h-3zM75.8 239.7h3v3h-3zM81.8 68.7h3v3h-3zM81.8 242.7h3v3h-3zM102.8 68.7h3v3h-3zM111.8 71.7h3v3h-3zM126.8 77.7h3v3h-3zM138.8 80.7h3v3h-3zM141.8 80.7h3v3h-3zM144.8 80.7h3v3h-3zM147.8 80.7h3v3h-3zM150.8 245.7h3v3h-3zM156.8 77.7h3v3h-3zM162.8 251.7h3v3h-3zM168.8 71.7h3v3h-3zM174.8 68.7h3v3h-3zM174.8 260.7h3v3h-3zM177.8 263.7h3v3h-3zM189.8 62.7h3v3h-3zM198.8 275.7h3v3h-3zM201.8 59.7h3v3h-3zM225.8 272.7h3v3h-3zM234.8 266.7h3v3h-3zM237.8 263.7h3v3h-3zM240.8 260.7h3v3h-3zM246.8 65.7h3v3h-3zM246.8 251.7h3v3h-3zM252.8 68.7h3v3h-3zM252.8 242.7h3v3h-3z"/>
<path fill="#dfdfdf" d="M48.8 209.7h3v3h-3zM54.8 83.7h3v3h-3zM57.8 80.7h3v3h-3zM57.8 218.7h3v3h-3zM60.8 77.7h3v3h-3zM60.8 224.7h3v3h-3zM66.8 233.7h3v3h-3zM69.8 71.7h3v3h-3zM69.8 236.7h3v3h-3zM78.8 68.7h3v3h-3zM93.8 245.7h3v3h-3zM96.8 245.7h3v3h-3zM99.8 245.7h3v3h-3zM102.8 245.7h3v3h-3zM105.8 68.7h3v3h-3zM105.8 245.7h3v3h-3zM108.8 245.7h3v3h-3zM111.8 245.7h3v3h-3zM114.8 71.7h3v3h-3zM120.8 74.7h3v3h-3zM129.8 77.7h3v3h-3zM147.8 245.7h3v3h-3zM156.8 248.7h3v3h-3zM162.8 74.7h3v3h-3zM165.8 254.7h3v3h-3zM180.8 65.7h3v3h-3zM180.8 266.7h3v3h-3zM189.8 272.7h3v3h-3zM195.8 275.7h3v3h-3zM219.8 275.7h3v3h-3zM228.8 59.7h3v3h-3zM231.8 269.7h3v3h-3zM240.8 62.7h3v3h-3zM243.8 257.7h3v3h-3zM249.8 248.7h3v3h-3zM255.8 239.7h3v3h-3zM258.8 239.7h3v3h-3zM261.8 239.7h3v3h-3z"/>
<path fill="#e0e0e0" d="M48.8 86.7h3v3h-3zM51.8 86.7h3v3h-3zM54.8 215.7h3v3h-3zM63.8 74.7h3v3h-3zM63.8 230.7h3v3h-3zM72.8 239.7h3v3h-3zM75.8 68.7h3v3h-3zM78.8 242.7h3v3h-3zM87.8 65.7h3v3h-3zM87.8 245.7h3v3h-3zM90.8 65.7h3v3h-3zM90.8 245.7h3v3h-3zM93.8 65.7h3v3h-3zM108.8 68.7h3v3h-3zM114.8 245.7h3v3h-3zM117.8 245.7h3v3h-3zM120.8 245.7h3v3h-3zM123.8 74.7h3v3h-3zM144.8 245.7h3v3h-3zM153.8 77.7h3v3h-3zM153.8 248.7h3v3h-3zM159.8 251.7h3v3h-3zM168.8 257.7h3v3h-3zM183.8 269.7h3v3h-3zM186.8 62.7h3v3h-3zM198.8 59.7h3v3h-3zM207.8 278.7h3v3h-3zM210.8 278.7h3v3h-3zM222.8 275.7h3v3h-3zM228.8 272.7h3v3h-3zM231.8 59.7h3v3h-3zM246.8 254.7h3v3h-3zM252.8 245.7h3v3h-3z"/>
<path fill="#e1e1e1" d="M48.8 212.7h3v3h-3zM51.8 212.7h3v3h-3zM57.8 221.7h3v3h-3zM60.8 227.7h3v3h-3zM66.8 71.7h3v3h-3zM66.8 236.7h3v3h-3zM72.8 68.7h3v3h-3zM75.8 242.7h3v3h-3zM84.8 65.7h3v3h-3zM84.8 245.7h3v3h-3zM96.8 65.7h3v3h-3zM99.8 65.7h3v3h-3zM117.8 71.7h3v3h-3zM123.8 245.7h3v3h-3zM126.8 245.7h3v3h-3zM129.8 245.7h3v3h-3zM132.8 77.7h3v3h-3zM132.8 245.7h3v3h-3zM135.8 245.7h3v3h-3zM138.8 245.7h3v3h-3zM141.8 245.7h3v3h-3zM159.8 74.7h3v3h-3zM165.8 71.7h3v3h-3zM171.8 68.7h3v3h-3zM171.8 260.7h3v3h-3zM174.8 263.7h3v3h-3zM186.8 272.7h3v3h-3zM192.8 275.7h3v3h-3zM195.8 59.7h3v3h-3zM201.8 278.7h3v3h-3zM204.8 278.7h3v3h-3zM213.8 278.7h3v3h-3zM234.8 269.7h3v3h-3zM237.8 266.7h3v3h-3zM240.8 263.7h3v3h-3zM249.8 65.7h3v3h-3zM249.8 251.7h3v3h-3zM255.8 242.7h3v3h-3zM258.8 242.7h3v3h-3zM261.8 242.7h3v3h-3z"/>
<path fill="#e2e2e2" d="M51.8 83.7h3v3h-3zM54.8 80.7h3v3h-3zM54.8 218.7h3v3h-3zM57.8 77.7h3v3h-3zM57.8 224.7h3v3h-3zM60.8 74.7h3v3h-3zM63.8 233.7h3v3h-3zM69.8 239.7h3v3h-3zM72.8 242.7h3v3h-3zM78.8 65.7h3v3h-3zM81.8 65.7h3v3h-3zM81.8 245.7h3v3h-3zM102.8 65.7h3v3h-3zM111.8 68.7h3v3h-3zM126.8 74.7h3v3h-3zM135.8 77.7h3v3h-3zM138.8 77.7h3v3h-3zM147.8 77.7h3v3h-3zM150.8 77.7h3v3h-3zM150.8 248.7h3v3h-3zM156.8 251.7h3v3h-3zM162.8 254.7h3v3h-3zM177.8 65.7h3v3h-3zM177.8 266.7h3v3h-3zM198.8 278.7h3v3h-3zM216.8 278.7h3v3h-3zM225.8 275.7h3v3h-3zM231.8 272.7h3v3h-3zM234.8 59.7h3v3h-3zM243.8 62.7h3v3h-3zM243.8 260.7h3v3h-3zM246.8 257.7h3v3h-3zM255.8 68.7h3v3h-3zM258.8 68.7h3v3h-3zM261.8 68.7h3v3h-3z"/>
<path fill="#e3e3e3" d="M48.8 83.7h3v3h-3zM48.8 215.7h3v3h-3zM51.8 215.7h3v3h-3zM60.8 230.7h3v3h-3zM63.8 71.7h3v3h-3zM69.8 68.7h3v3h-3zM78.8 245.7h3v3h-3zM96.8 248.7h3v3h-3zM99.8 248.7h3v3h-3zM102.8 248.7h3v3h-3zM105.8 65.7h3v3h-3zM114.8 68.7h3v3h-3zM120.8 71.7h3v3h-3zM129.8 74.7h3v3h-3zM141.8 77.7h3v3h-3zM144.8 77.7h3v3h-3zM147.8 248.7h3v3h-3zM156.8 74.7h3v3h-3zM165.8 257.7h3v3h-3zM168.8 260.7h3v3h-3zM180.8 269.7h3v3h-3zM183.8 62.7h3v3h-3zM189.8 275.7h3v3h-3zM192.8 59.7h3v3h-3zM195.8 278.7h3v3h-3zM207.8 281.7h3v6h-3zM210.8 56.7h3v3h-3zM213.8 56.7h3v3h-3zM216.8 56.7h3v3h-3zM219.8 278.7h3v3h-3zM249.8 254.7h3v3h-3zM252.8 248.7h3v3h-3z"/>
<path fill="#e4e4e4" d="M54.8 221.7h3v3h-3zM57.8 227.7h3v3h-3zM60.8 233.7h3v3h-3zM63.8 236.7h3v3h-3zM66.8 239.7h3v3h-3zM69.8 242.7h3v3h-3zM75.8 65.7h3v3h-3zM75.8 245.7h3v3h-3zM87.8 62.7h3v3h-3zM87.8 248.7h3v3h-3zM90.8 62.7h3v3h-3zM90.8 248.7h3v3h-3zM93.8 62.7h3v3h-3zM93.8 248.7h3v3h-3zM96.8 62.7h3v3h-3zM99.8 62.7h3v3h-3zM105.8 248.7h3v3h-3zM108.8 65.7h3v3h-3zM108.8 248.7h3v3h-3zM111.8 248.7h3v3h-3zM114.8 248.7h3v3h-3zM117.8 68.7h3v3h-3zM123.8 71.7h3v3h-3zM144.8 248.7h3v3h-3zM153.8 251.7h3v3h-3zM159.8 254.7h3v3h-3zM162.8 71.7h3v3h-3zM168.8 68.7h3v3h-3zM171.8 263.7h3v3h-3zM174.8 65.7h3v3h-3zM183.8 272.7h3v3h-3zM201.8 281.7h3v6h-3zM204.8 281.7h3v6h-3zM207.8 56.7h3v3h-3zM210.8 281.7h3v6h-3zM213.8 281.7h3v6h-3zM219.8 56.7h3v3h-3zM222.8 56.7h3v3h-3zM222.8 278.7h3v3h-3zM228.8 275.7h3v3h-3zM237.8 59.7h3v3h-3zM237.8 269.7h3v3h-3zM240.8 266.7h3v3h-3zM243.8 263.7h3v3h-3zM246.8 62.7h3v3h-3zM252.8 65.7h3v3h-3zM255.8 245.7h3v3h-3zM258.8 245.7h3v3h-3zM261.8 245.7h3v3h-3z"/>
<path fill="#e5e5e5" d="M48.8 80.7h3v3h-3zM48.8 218.7h3v3h-3zM51.8 80.7h3v3h-3zM51.8 218.7h3v3h-3zM54.8 77.7h3v3h-3zM54.8 224.7h3v3h-3zM57.8 74.7h3v3h-3zM57.8 230.7h3v3h-3zM60.8 71.7h3v3h-3zM66.8 68.7h3v3h-3zM72.8 65.7h3v3h-3zM72.8 245.7h3v3h-3zM81.8 62.7h3v3h-3zM84.8 62.7h3v3h-3zM84.8 248.7h3v3h-3zM102.8 62.7h3v3h-3zM111.8 65.7h3v3h-3zM117.8 248.7h3v3h-3zM120.8 248.7h3v3h-3zM123.8 248.7h3v3h-3zM126.8 248.7h3v3h-3zM129.8 248.7h3v3h-3zM132.8 74.7h3v3h-3zM132.8 248.7h3v3h-3zM135.8 248.7h3v3h-3zM138.8 248.7h3v3h-3zM141.8 248.7h3v3h-3zM153.8 74.7h3v3h-3zM162.8 257.7h3v3h-3zM174.8 266.7h3v3h-3zM177.8 269.7h3v3h-3zM180.8 62.7h3v3h-3zM186.8 275.7h3v3h-3zM189.8 59.7h3v3h-3zM192.8 278.7h3v3h-3zM198.8 281.7h3v6h-3zM204.8 56.7h3v3h-3zM216.8 281.7h3v6h-3zM225.8 56.7h3v3h-3zM225.8 278.7h3v3h-3zM234.8 272.7h3v3h-3zM246.8 260.7h3v3h-3zM252.8 251.7h3v3h-3z"/>
<path fill="#e6e6e6" d="M60.8 236.7h3v3h-3zM63.8 68.7h3v3h-3zM63.8 239.7h3v3h-3zM66.8 242.7h3v3h-3zM69.8 65.7h3v3h-3zM78.8 62.7h3v3h-3zM78.8 248.7h3v3h-3zM81.8 248.7h3v3h-3zM105.8 62.7h3v3h-3zM114.8 65.7h3v3h-3zM120.8 68.7h3v3h-3zM126.8 71.7h3v3h-3zM135.8 74.7h3v3h-3zM138.8 74.7h3v3h-3zM150.8 74.7h3v3h-3zM150.8 251.7h3v3h-3zM156.8 254.7h3v3h-3zM159.8 71.7h3v3h-3zM165.8 68.7h3v3h-3zM165.8 260.7h3v3h-3zM180.8 272.7h3v3h-3zM189.8 278.7h3v3h-3zM195.8 281.7h3v6h-3zM201.8 56.7h3v3h-3zM219.8 281.7h3v6h-3zM228.8 56.7h3v3h-3zM231.8 275.7h3v3h-3zM240.8 59.7h3v3h-3zM249.8 257.7h3v3h-3zM255.8 248.7h3v3h-3zM258.8 248.7h3v3h-3zM261.8 248.7h3v3h-3z"/>
<path fill="#e7e7e7" d="M48.8 221.7h3v3h-3zM51.8 77.7h3v3h-3zM51.8 221.7h3v3h-3zM54.8 74.7h3v3h-3zM54.8 227.7h3v3h-3zM57.8 233.7h3v3h-3zM69.8 245.7h3v3h-3zM75.8 62.7h3v3h-3zM75.8 248.7h3v3h-3zM90.8 59.7h3v3h-3zM93.8 59.7h3v3h-3zM96.8 59.7h3v3h-3zM99.8 59.7h3v3h-3zM108.8 62.7h3v3h-3zM117.8 65.7h3v3h-3zM123.8 68.7h3v3h-3zM129.8 71.7h3v3h-3zM141.8 74.7h3v3h-3zM144.8 74.7h3v3h-3zM147.8 74.7h3v3h-3zM147.8 251.7h3v3h-3zM159.8 257.7h3v3h-3zM168.8 263.7h3v3h-3zM171.8 65.7h3v3h-3zM171.8 266.7h3v3h-3zM177.8 62.7h3v3h-3zM183.8 275.7h3v3h-3zM186.8 59.7h3v3h-3zM192.8 281.7h3v6h-3zM198.8 56.7h3v3h-3zM222.8 281.7h3v6h-3zM228.8 278.7h3v3h-3zM231.8 56.7h3v3h-3zM237.8 272.7h3v3h-3zM240.8 269.7h3v3h-3zM243.8 266.7h3v3h-3zM246.8 263.7h3v3h-3zM249.8 62.7h3v3h-3zM252.8 254.7h3v3h-3zM255.8 65.7h3v3h-3zM258.8 65.7h3v3h-3zM261.8 65.7h3v3h-3z"/>
<path fill="#e8e8e8" d="M48.8 77.7h3v3h-3zM51.8 224.7h3v3h-3zM54.8 230.7h3v3h-3zM57.8 71.7h3v3h-3zM57.8 236.7h3v3h-3zM60.8 68.7h3v3h-3zM60.8 239.7h3v3h-3zM63.8 242.7h3v3h-3zM66.8 65.7h3v3h-3zM66.8 245.7h3v3h-3zM72.8 62.7h3v3h-3zM72.8 248.7h3v3h-3zM84.8 59.7h3v3h-3zM87.8 59.7h3v3h-3zM87.8 251.7h3v3h-3zM90.8 251.7h3v3h-3zM93.8 251.7h3v3h-3zM96.8 251.7h3v3h-3zM99.8 251.7h3v3h-3zM102.8 59.7h3v3h-3zM102.8 251.7h3v3h-3zM105.8 59.7h3v3h-3zM105.8 251.7h3v3h-3zM108.8 251.7h3v3h-3zM111.8 62.7h3v3h-3zM111.8 251.7h3v3h-3zM132.8 71.7h3v3h-3zM141.8 251.7h3v3h-3zM144.8 251.7h3v3h-3zM153.8 254.7h3v3h-3zM156.8 71.7h3v3h-3zM162.8 68.7h3v3h-3zM162.8 260.7h3v3h-3zM174.8 269.7h3v3h-3zM177.8 272.7h3v3h-3zM186.8 278.7h3v3h-3zM195.8 56.7h3v3h-3zM225.8 281.7h3v6h-3zM234.8 56.7h3v3h-3zM234.8 275.7h3v3h-3zM243.8 59.7h3v3h-3zM249.8 260.7h3v3h-3zM255.8 251.7h3v3h-3zM258.8 251.7h3v3h-3zM261.8 251.7h3v3h-3z"/>
<path fill="#e9e9e9" d="M48.8 224.7h3v3h-3zM51.8 227.7h3v3h-3zM54.8 233.7h3v3h-3zM81.8 59.7h3v3h-3zM81.8 251.7h3v3h-3zM84.8 251.7h3v3h-3zM108.8 59.7h3v3h-3zM114.8 62.7h3v3h-3zM114.8 251.7h3v3h-3zM117.8 251.7h3v3h-3zM120.8 65.7h3v3h-3zM120.8 251.7h3v3h-3zM123.8 251.7h3v3h-3zM126.8 68.7h3v3h-3zM126.8 251.7h3v3h-3zM129.8 251.7h3v3h-3zM132.8 251.7h3v3h-3zM135.8 71.7h3v3h-3zM135.8 251.7h3v3h-3zM138.8 251.7h3v3h-3zM150.8 254.7h3v3h-3zM153.8 71.7h3v3h-3zM156.8 257.7h3v3h-3zM165.8 263.7h3v3h-3zM168.8 65.7h3v3h-3zM180.8 275.7h3v3h-3zM183.8 59.7h3v3h-3zM189.8 281.7h3v6h-3zM192.8 56.7h3v3h-3zM231.8 278.7h3v3h-3zM240.8 272.7h3v3h-3zM243.8 269.7h3v3h-3zM246.8 266.7h3v3h-3zM252.8 62.7h3v3h-3zM252.8 257.7h3v3h-3z"/>
<path fill="#eaeaea" d="M48.8 74.7h3v3h-3zM48.8 227.7h3v3h-3zM51.8 74.7h3v3h-3zM54.8 71.7h3v3h-3zM57.8 239.7h3v3h-3zM60.8 242.7h3v3h-3zM63.8 65.7h3v3h-3zM63.8 245.7h3v3h-3zM69.8 62.7h3v3h-3zM69.8 248.7h3v3h-3zM75.8 251.7h3v3h-3zM78.8 59.7h3v3h-3zM78.8 251.7h3v3h-3zM90.8 56.7h3v3h-3zM93.8 56.7h3v3h-3zM96.8 56.7h3v3h-3zM99.8 56.7h3v3h-3zM111.8 59.7h3v3h-3zM117.8 62.7h3v3h-3zM123.8 65.7h3v3h-3zM129.8 68.7h3v3h-3zM138.8 71.7h3v3h-3zM141.8 71.7h3v3h-3zM147.8 71.7h3v3h-3zM147.8 254.7h3v3h-3zM150.8 71.7h3v3h-3zM159.8 68.7h3v3h-3zM168.8 266.7h3v3h-3zM171.8 269.7h3v3h-3zM174.8 62.7h3v3h-3zM183.8 278.7h3v3h-3zM207.8 50.7h3v6h-3zM210.8 50.7h3v6h-3zM213.8 50.7h3v6h-3zM216.8 50.7h3v6h-3zM219.8 50.7h3v6h-3zM222.8 50.7h3v6h-3zM228.8 281.7h3v6h-3zM237.8 56.7h3v3h-3zM237.8 275.7h3v3h-3zM246.8 59.7h3v3h-3zM249.8 263.7h3v3h-3zM255.8 254.7h3v3h-3zM258.8 254.7h3v3h-3zM261.8 254.7h3v3h-3z"/>
<path fill="#ebebeb" d="M48.8 230.7h3v3h-3zM51.8 230.7h3v3h-3zM54.8 236.7h3v3h-3zM57.8 68.7h3v3h-3zM60.8 65.7h3v3h-3zM66.8 62.7h3v3h-3zM66.8 248.7h3v3h-3zM72.8 251.7h3v3h-3zM75.8 59.7h3v3h-3zM84.8 56.7h3v3h-3zM87.8 56.7h3v3h-3zM102.8 56.7h3v3h-3zM105.8 56.7h3v3h-3zM114.8 59.7h3v3h-3zM120.8 62.7h3v3h-3zM126.8 65.7h3v3h-3zM132.8 68.7h3v3h-3zM144.8 71.7h3v3h-3zM144.8 254.7h3v3h-3zM153.8 257.7h3v3h-3zM159.8 260.7h3v3h-3zM162.8 263.7h3v3h-3zM165.8 65.7h3v3h-3zM174.8 272.7h3v3h-3zM177.8 275.7h3v3h-3zM180.8 59.7h3v3h-3zM186.8 281.7h3v6h-3zM189.8 56.7h3v3h-3zM204.8 50.7h3v6h-3zM225.8 50.7h3v6h-3zM231.8 281.7h3v6h-3zM234.8 278.7h3v3h-3zM252.8 260.7h3v3h-3zM255.8 257.7h3v3h-3zM258.8 257.7h3v3h-3zM261.8 257.7h3v3h-3z"/>
<path fill="#ececec" d="M48.8 233.7h3v3h-3zM51.8 71.7h3v3h-3zM51.8 233.7h3v3h-3zM54.8 239.7h3v3h-3zM57.8 242.7h3v3h-3zM60.8 245.7h3v3h-3zM63.8 248.7h3v3h-3zM69.8 251.7h3v3h-3zM72.8 59.7h3v3h-3zM81.8 56.7h3v3h-3zM81.8 254.7h3v3h-3zM84.8 254.7h3v3h-3zM87.8 254.7h3v3h-3zM90.8 254.7h3v3h-3zM93.8 254.7h3v3h-3zM96.8 254.7h3v3h-3zM99.8 254.7h3v3h-3zM102.8 254.7h3v3h-3zM105.8 254.7h3v3h-3zM108.8 56.7h3v3h-3zM108.8 254.7h3v3h-3zM111.8 56.7h3v3h-3zM111.8 254.7h3v3h-3zM117.8 59.7h3v3h-3zM123.8 62.7h3v3h-3zM135.8 68.7h3v3h-3zM141.8 254.7h3v3h-3zM150.8 257.7h3v3h-3zM156.8 68.7h3v3h-3zM156.8 260.7h3v3h-3zM165.8 266.7h3v3h-3zM171.8 62.7h3v3h-3zM180.8 278.7h3v3h-3zM183.8 281.7h3v6h-3zM186.8 56.7h3v3h-3zM201.8 50.7h3v6h-3zM228.8 50.7h3v6h-3zM240.8 56.7h3v3h-3zM240.8 275.7h3v3h-3zM243.8 272.7h3v3h-3zM246.8 269.7h3v3h-3zM249.8 59.7h3v3h-3zM249.8 266.7h3v3h-3zM255.8 62.7h3v3h-3zM258.8 62.7h3v3h-3zM261.8 62.7h3v3h-3z"/>
<path fill="#ededed" d="M48.8 71.7h3v3h-3zM51.8 236.7h3v3h-3zM54.8 68.7h3v3h-3zM57.8 65.7h3v3h-3zM63.8 62.7h3v3h-3zM66.8 251.7h3v3h-3zM69.8 59.7h3v3h-3zM78.8 56.7h3v3h-3zM78.8 254.7h3v3h-3zM90.8 50.7h3v6h-3zM93.8 50.7h3v6h-3zM96.8 50.7h3v6h-3zM99.8 50.7h3v6h-3zM102.8 50.7h3v6h-3zM105.8 50.7h3v6h-3zM114.8 56.7h3v3h-3zM114.8 254.7h3v3h-3zM117.8 254.7h3v3h-3zM120.8 59.7h3v3h-3zM120.8 254.7h3v3h-3zM123.8 254.7h3v3h-3zM126.8 254.7h3v3h-3zM129.8 65.7h3v3h-3zM129.8 254.7h3v3h-3zM132.8 254.7h3v3h-3zM135.8 254.7h3v3h-3zM138.8 68.7h3v3h-3zM138.8 254.7h3v3h-3zM150.8 68.7h3v3h-3zM153.8 68.7h3v3h-3zM159.8 263.7h3v3h-3zM162.8 65.7h3v3h-3zM168.8 62.7h3v3h-3zM168.8 269.7h3v3h-3zM171.8 272.7h3v3h-3zM177.8 59.7h3v3h-3zM198.8 50.7h3v6h-3zM231.8 50.7h3v6h-3zM234.8 281.7h3v6h-3zM237.8 278.7h3v3h-3zM243.8 56.7h3v3h-3zM252.8 263.7h3v3h-3zM255.8 260.7h3v3h-3zM258.8 260.7h3v3h-3zM261.8 260.7h3v3h-3z"/>
<path fill="#eeeeee" d="M48.8 236.7h3v3h-3zM51.8 239.7h3v3h-3zM54.8 242.7h3v3h-3zM57.8 245.7h3v3h-3zM60.8 62.7h3v3h-3zM60.8 248.7h3v3h-3zM66.8 59.7h3v3h-3zM72.8 254.7h3v3h-3zM75.8 56.7h3v3h-3zM75.8 254.7h3v3h-3zM84.8 50.7h3v6h-3zM87.8 50.7h3v6h-3zM108.8 50.7h3v6h-3zM111.8 50.7h3v6h-3zM117.8 56.7h3v3h-3zM123.8 59.7h3v3h-3zM126.8 62.7h3v3h-3zM132.8 65.7h3v3h-3zM141.8 68.7h3v3h-3zM144.8 68.7h3v3h-3zM147.8 68.7h3v3h-3zM147.8 257.7h3v3h-3zM153.8 260.7h3v3h-3zM159.8 65.7h3v3h-3zM162.8 266.7h3v3h-3zM174.8 59.7h3v3h-3zM174.8 275.7h3v3h-3zM177.8 278.7h3v3h-3zM180.8 281.7h3v6h-3zM183.8 56.7h3v3h-3zM195.8 50.7h3v6h-3zM234.8 50.7h3v6h-3zM243.8 275.7h3v3h-3zM246.8 272.7h3v3h-3zM249.8 269.7h3v3h-3zM252.8 59.7h3v3h-3z"/>
<path fill="#efefef" d="M48.8 68.7h3v3h-3zM48.8 239.7h3v3h-3zM51.8 68.7h3v3h-3zM54.8 65.7h3v3h-3zM54.8 245.7h3v3h-3zM57.8 248.7h3v3h-3zM63.8 251.7h3v3h-3zM69.8 254.7h3v3h-3zM72.8 56.7h3v3h-3zM81.8 50.7h3v6h-3zM84.8 257.7h3v3h-3zM87.8 257.7h3v3h-3zM90.8 257.7h3v3h-3zM93.8 257.7h3v3h-3zM96.8 257.7h3v3h-3zM99.8 257.7h3v3h-3zM114.8 50.7h3v6h-3zM120.8 56.7h3v3h-3zM129.8 62.7h3v3h-3zM135.8 65.7h3v3h-3zM141.8 257.7h3v3h-3zM144.8 257.7h3v3h-3zM150.8 260.7h3v3h-3zM156.8 65.7h3v3h-3zM156.8 263.7h3v3h-3zM165.8 62.7h3v3h-3zM165.8 269.7h3v3h-3zM168.8 272.7h3v3h-3zM192.8 50.7h3v6h-3zM237.8 50.7h3v6h-3zM237.8 281.7h3v6h-3zM240.8 278.7h3v3h-3zM246.8 56.7h3v3h-3zM252.8 266.7h3v3h-3zM255.8 263.7h3v3h-3zM258.8 263.7h3v3h-3zM261.8 263.7h3v3h-3z"/>
<path fill="#f0f0f0" d="M48.8 242.7h3v3h-3zM51.8 242.7h3v3h-3zM57.8 62.7h3v3h-3zM60.8 251.7h3v3h-3zM63.8 59.7h3v3h-3zM66.8 254.7h3v3h-3zM69.8 56.7h3v3h-3zM75.8 50.7h3v6h-3zM75.8 257.7h3v3h-3zM78.8 50.7h3v6h-3zM78.8 257.7h3v3h-3zM81.8 257.7h3v3h-3zM102.8 257.7h3v3h-3zM105.8 257.7h3v3h-3zM108.8 257.7h3v3h-3zM111.8 257.7h3v3h-3zM114.8 257.7h3v3h-3zM117.8 50.7h3v6h-3zM117.8 257.7h3v3h-3zM120.8 257.7h3v3h-3zM123.8 56.7h3v3h-3zM126.8 59.7h3v3h-3zM132.8 62.7h3v3h-3zM132.8 257.7h3v3h-3zM135.8 257.7h3v3h-3zM138.8 65.7h3v3h-3zM138.8 257.7h3v3h-3zM141.8 65.7h3v3h-3zM153.8 65.7h3v3h-3zM159.8 266.7h3v3h-3zM162.8 62.7h3v3h-3zM171.8 59.7h3v3h-3zM171.8 275.7h3v3h-3zM174.8 278.7h3v3h-3zM177.8 281.7h3v6h-3zM180.8 56.7h3v3h-3zM189.8 50.7h3v6h-3zM240.8 50.7h3v6h-3zM246.8 275.7h3v3h-3zM249.8 272.7h3v3h-3zM255.8 59.7h3v3h-3zM258.8 59.7h3v3h-3zM261.8 59.7h3v3h-3z"/>
<path fill="#f1f1f1" d="M48.8 65.7h3v3h-3zM48.8 245.7h3v3h-3zM51.8 65.7h3v3h-3zM51.8 245.7h3v3h-3zM54.8 248.7h3v3h-3zM57.8 251.7h3v3h-3zM60.8 59.7h3v3h-3zM63.8 254.7h3v3h-3zM66.8 56.7h3v3h-3zM72.8 50.7h3v6h-3zM72.8 257.7h3v3h-3zM120.8 50.7h3v6h-3zM123.8 257.7h3v3h-3zM126.8 56.7h3v3h-3zM126.8 257.7h3v3h-3zM129.8 59.7h3v3h-3zM129.8 257.7h3v3h-3zM135.8 62.7h3v3h-3zM144.8 65.7h3v3h-3zM147.8 65.7h3v3h-3zM147.8 260.7h3v3h-3zM150.8 65.7h3v3h-3zM153.8 263.7h3v3h-3zM159.8 62.7h3v3h-3zM162.8 269.7h3v3h-3zM165.8 272.7h3v3h-3zM168.8 59.7h3v3h-3zM177.8 56.7h3v3h-3zM186.8 50.7h3v6h-3zM240.8 281.7h3v6h-3zM243.8 278.7h3v3h-3zM249.8 56.7h3v3h-3zM252.8 269.7h3v3h-3zM255.8 266.7h3v3h-3zM258.8 266.7h3v3h-3zM261.8 266.7h3v3h-3z"/>
<path fill="#f2f2f2" d="M51.8 248.7h3v3h-3zM54.8 62.7h3v3h-3zM57.8 59.7h3v3h-3zM60.8 254.7h3v3h-3zM63.8 56.7h3v3h-3zM66.8 257.7h3v3h-3zM69.8 50.7h3v6h-3zM69.8 257.7h3v3h-3zM87.8 260.7h3v3h-3zM90.8 260.7h3v3h-3zM93.8 260.7h3v3h-3zM123.8 50.7h3v6h-3zM129.8 56.7h3v3h-3zM132.8 59.7h3v3h-3zM138.8 62.7h3v3h-3zM141.8 260.7h3v3h-3zM144.8 260.7h3v3h-3zM150.8 263.7h3v3h-3zM156.8 62.7h3v3h-3zM156.8 266.7h3v3h-3zM168.8 275.7h3v3h-3zM171.8 278.7h3v3h-3zM174.8 56.7h3v3h-3zM174.8 281.7h3v6h-3zM183.8 50.7h3v6h-3zM243.8 50.7h3v6h-3zM249.8 275.7h3v3h-3zM252.8 56.7h3v3h-3zM252.8 272.7h3v3h-3z"/>
<path fill="#f3f3f3" d="M48.8 248.7h3v3h-3zM51.8 62.7h3v3h-3zM54.8 251.7h3v3h-3zM57.8 254.7h3v3h-3zM60.8 56.7h3v3h-3zM63.8 257.7h3v3h-3zM66.8 50.7h3v6h-3zM75.8 260.7h3v3h-3zM78.8 260.7h3v3h-3zM81.8 260.7h3v3h-3zM84.8 260.7h3v3h-3zM96.8 260.7h3v3h-3zM99.8 260.7h3v3h-3zM102.8 260.7h3v3h-3zM105.8 260.7h3v3h-3zM108.8 260.7h3v3h-3zM111.8 260.7h3v3h-3zM114.8 260.7h3v3h-3zM126.8 50.7h3v6h-3zM132.8 56.7h3v3h-3zM132.8 260.7h3v3h-3zM135.8 59.7h3v3h-3zM135.8 260.7h3v3h-3zM138.8 260.7h3v3h-3zM141.8 62.7h3v3h-3zM144.8 62.7h3v3h-3zM147.8 62.7h3v3h-3zM147.8 263.7h3v3h-3zM150.8 62.7h3v3h-3zM153.8 62.7h3v3h-3zM153.8 266.7h3v3h-3zM159.8 269.7h3v3h-3zM162.8 272.7h3v3h-3zM165.8 59.7h3v3h-3zM180.8 50.7h3v6h-3zM243.8 281.7h3v6h-3zM246.8 50.7h3v6h-3zM246.8 278.7h3v3h-3zM255.8 269.7h3v3h-3zM258.8 269.7h3v3h-3zM261.8 269.7h3v3h-3z"/>
<path fill="#f4f4f4" d="M48.8 62.7h3v3h-3zM48.8 251.7h3v3h-3zM51.8 251.7h3v3h-3zM54.8 59.7h3v3h-3zM54.8 254.7h3v3h-3zM60.8 257.7h3v3h-3zM69.8 260.7h3v3h-3zM72.8 260.7h3v3h-3zM117.8 260.7h3v3h-3zM120.8 260.7h3v3h-3zM123.8 260.7h3v3h-3zM126.8 260.7h3v3h-3zM129.8 50.7h3v6h-3zM129.8 260.7h3v3h-3zM135.8 56.7h3v3h-3zM138.8 59.7h3v3h-3zM141.8 59.7h3v3h-3zM144.8 263.7h3v3h-3zM156.8 269.7h3v3h-3zM159.8 59.7h3v3h-3zM162.8 59.7h3v3h-3zM165.8 275.7h3v3h-3zM168.8 278.7h3v3h-3zM171.8 56.7h3v3h-3zM171.8 281.7h3v6h-3zM246.8 281.7h3v6h-3zM249.8 50.7h3v6h-3zM249.8 278.7h3v3h-3zM252.8 275.7h3v3h-3zM255.8 56.7h3v3h-3zM255.8 272.7h3v3h-3zM258.8 56.7h3v3h-3zM258.8 272.7h3v3h-3zM261.8 56.7h3v3h-3zM261.8 272.7h3v3h-3z"/>
<path fill="#f5f5f5" d="M51.8 59.7h3v3h-3zM51.8 254.7h3v3h-3zM57.8 56.7h3v3h-3zM57.8 257.7h3v3h-3zM63.8 50.7h3v6h-3zM63.8 260.7h3v3h-3zM66.8 260.7h3v3h-3zM78.8 263.7h3v3h-3zM81.8 263.7h3v3h-3zM84.8 263.7h3v3h-3zM87.8 263.7h3v3h-3zM90.8 263.7h3v3h-3zM93.8 263.7h3v3h-3zM96.8 263.7h3v3h-3zM132.8 50.7h3v6h-3zM138.8 56.7h3v3h-3zM138.8 263.7h3v3h-3zM141.8 263.7h3v3h-3zM144.8 59.7h3v3h-3zM147.8 59.7h3v3h-3zM150.8 59.7h3v3h-3zM150.8 266.7h3v3h-3zM153.8 59.7h3v3h-3zM156.8 59.7h3v3h-3zM159.8 272.7h3v3h-3zM162.8 275.7h3v3h-3zM165.8 278.7h3v3h-3zM168.8 56.7h3v3h-3zM168.8 281.7h3v6h-3zM177.8 50.7h3v6h-3z"/>
<path fill="#f6f6f6" d="M48.8 59.7h3v3h-3zM48.8 254.7h3v3h-3zM54.8 56.7h3v3h-3zM54.8 257.7h3v3h-3zM60.8 50.7h3v6h-3zM60.8 260.7h3v3h-3zM69.8 263.7h3v3h-3zM72.8 263.7h3v3h-3zM75.8 263.7h3v3h-3zM99.8 263.7h3v3h-3zM102.8 263.7h3v3h-3zM105.8 263.7h3v3h-3zM108.8 263.7h3v3h-3zM111.8 263.7h3v3h-3zM114.8 263.7h3v3h-3zM117.8 263.7h3v3h-3zM120.8 263.7h3v3h-3zM123.8 263.7h3v3h-3zM126.8 263.7h3v3h-3zM129.8 263.7h3v3h-3zM132.8 263.7h3v3h-3zM135.8 50.7h3v6h-3zM135.8 263.7h3v3h-3zM141.8 56.7h3v3h-3zM147.8 266.7h3v3h-3zM153.8 269.7h3v3h-3zM156.8 272.7h3v3h-3zM162.8 56.7h3v3h-3zM165.8 56.7h3v3h-3zM174.8 50.7h3v6h-3zM249.8 281.7h3v6h-3zM252.8 50.7h3v6h-3zM252.8 278.7h3v3h-3zM255.8 275.7h3v3h-3zM258.8 275.7h3v3h-3zM261.8 275.7h3v3h-3z"/>
<path fill="#f7f7f7" d="M48.8 56.7h3v3h-3zM48.8 257.7h3v3h-3zM51.8 56.7h3v3h-3zM51.8 257.7h3v3h-3zM54.8 260.7h3v3h-3zM57.8 50.7h3v6h-3zM57.8 260.7h3v3h-3zM63.8 263.7h3v3h-3zM66.8 263.7h3v3h-3zM138.8 50.7h3v6h-3zM141.8 50.7h3v6h-3zM141.8 266.7h3v3h-3zM144.8 56.7h3v3h-3zM144.8 266.7h3v3h-3zM147.8 56.7h3v3h-3zM150.8 56.7h3v3h-3zM150.8 269.7h3v3h-3zM153.8 56.7h3v3h-3zM156.8 56.7h3v3h-3zM159.8 56.7h3v3h-3zM159.8 275.7h3v3h-3zM162.8 278.7h3v3h-3zM165.8 281.7h3v6h-3zM168.8 50.7h3v6h-3zM171.8 50.7h3v6h-3zM252.8 281.7h3v6h-3zM255.8 50.7h3v6h-3zM258.8 50.7h3v6h-3zM261.8 50.7h3v6h-3z"/>
<path fill="#f8f8f8" d="M48.8 260.7h3v3h-3zM51.8 260.7h3v3h-3zM54.8 50.7h3v6h-3zM57.8 263.7h3v3h-3zM60.8 263.7h3v3h-3zM69.8 266.7h3v3h-3zM72.8 266.7h3v3h-3zM75.8 266.7h3v3h-3zM78.8 266.7h3v3h-3zM81.8 266.7h3v3h-3zM84.8 266.7h3v3h-3zM87.8 266.7h3v3h-3zM90.8 266.7h3v3h-3zM93.8 266.7h3v3h-3zM96.8 266.7h3v3h-3zM99.8 266.7h3v3h-3zM102.8 266.7h3v3h-3zM105.8 266.7h3v3h-3zM132.8 266.7h3v3h-3zM135.8 266.7h3v3h-3zM138.8 266.7h3v3h-3zM144.8 50.7h3v6h-3zM147.8 269.7h3v3h-3zM153.8 272.7h3v3h-3zM156.8 275.7h3v3h-3zM159.8 278.7h3v3h-3zM162.8 281.7h3v6h-3zM165.8 50.7h3v6h-3zM255.8 278.7h3v3h-3zM258.8 278.7h3v3h-3zM261.8 278.7h3v3h-3z"/>
<path fill="#f9f9f9" d="M48.8 50.7h3v6h-3zM51.8 50.7h3v6h-3zM54.8 263.7h3v3h-3zM60.8 266.7h3v3h-3zM63.8 266.7h3v3h-3zM66.8 266.7h3v3h-3zM108.8 266.7h3v3h-3zM111.8 266.7h3v3h-3zM114.8 266.7h3v3h-3zM117.8 266.7h3v3h-3zM120.8 266.7h3v3h-3zM123.8 266.7h3v3h-3zM126.8 266.7h3v3h-3zM129.8 266.7h3v3h-3zM141.8 269.7h3v3h-3zM144.8 269.7h3v3h-3zM147.8 50.7h3v6h-3zM150.8 50.7h3v6h-3zM150.8 272.7h3v3h-3zM153.8 50.7h3v6h-3zM153.8 275.7h3v3h-3zM156.8 50.7h3v6h-3zM159.8 50.7h3v6h-3zM162.8 50.7h3v6h-3zM255.8 281.7h3v6h-3zM258.8 281.7h3v6h-3zM261.8 281.7h3v6h-3z"/>
<path fill="#fafafa" d="M48.8 263.7h3v3h-3zM51.8 263.7h3v3h-3zM54.8 266.7h3v3h-3zM57.8 266.7h3v3h-3zM66.8 269.7h3v3h-3zM69.8 269.7h3v3h-3zM72.8 269.7h3v3h-3zM75.8 269.7h3v3h-3zM78.8 269.7h3v3h-3zM81.8 269.7h3v3h-3zM84.8 269.7h3v3h-3zM87.8 269.7h3v3h-3zM90.8 269.7h3v3h-3zM93.8 269.7h3v3h-3zM96.8 269.7h3v3h-3zM99.8 269.7h3v3h-3zM102.8 269.7h3v3h-3zM105.8 269.7h3v3h-3zM132.8 269.7h3v3h-3zM135.8 269.7h3v3h-3zM138.8 269.7h3v3h-3zM144.8 272.7h3v3h-3zM147.8 272.7h3v3h-3zM150.8 275.7h3v3h-3zM156.8 278.7h3v3h-3zM159.8 281.7h3v6h-3z"/>
<path fill="#fbfbfb" d="M48.8 266.7h3v3h-3zM51.8 266.7h3v3h-3zM57.8 269.7h3v3h-3zM60.8 269.7h3v3h-3zM63.8 269.7h3v3h-3zM75.8 272.7h3v3h-3zM78.8 272.7h3v3h-3zM81.8 272.7h3v3h-3zM84.8 272.7h3v3h-3zM108.8 269.7h3v3h-3zM111.8 269.7h3v3h-3zM114.8 269.7h3v3h-3zM117.8 269.7h3v3h-3zM120.8 269.7h3v3h-3zM123.8 269.7h3v3h-3zM126.8 269.7h3v3h-3zM129.8 269.7h3v3h-3zM138.8 272.7h3v3h-3zM141.8 272.7h3v3h-3zM147.8 275.7h3v3h-3zM153.8 278.7h3v3h-3zM156.8 281.7h3v6h-3z"/>
<path fill="#fcfcfc" d="M48.8 269.7h3v3h-3zM51.8 269.7h3v3h-3zM54.8 269.7h3v3h-3zM60.8 272.7h3v3h-3zM63.8 272.7h3v3h-3zM66.8 272.7h3v3h-3zM69.8 272.7h3v3h-3zM72.8 272.7h3v3h-3zM87.8 272.7h3v3h-3zM90.8 272.7h3v3h-3zM93.8 272.7h3v3h-3zM96.8 272.7h3v3h-3zM99.8 272.7h3v3h-3zM102.8 272.7h3v3h-3zM105.8 272.7h3v3h-3zM108.8 272.7h3v3h-3zM111.8 272.7h3v3h-3zM114.8 272.7h3v3h-3zM117.8 272.7h3v3h-3zM120.8 272.7h3v3h-3zM123.8 272.7h3v3h-3zM126.8 272.7h3v3h-3zM129.8 272.7h3v3h-3zM132.8 272.7h3v3h-3zM135.8 272.7h3v3h-3zM141.8 275.7h3v3h-3zM144.8 275.7h3v3h-3zM147.8 278.7h3v3h-3zM150.8 278.7h3v9h-3zM153.8 281.7h3v6h-3z"/>
<path fill="#fdfdfd" d="M48.8 272.7h3v3h-3zM51.8 272.7h3v3h-3zM54.8 272.7h3v3h-3zM57.8 272.7h3v3h-3zM60.8 275.7h3v3h-3zM63.8 275.7h3v3h-3zM66.8 275.7h3v3h-3zM69.8 275.7h3v3h-3zM72.8 275.7h3v3h-3zM75.8 275.7h3v3h-3zM78.8 275.7h3v3h-3zM81.8 275.7h3v3h-3zM84.8 275.7h3v3h-3zM87.8 275.7h3v3h-3zM90.8 275.7h3v3h-3zM93.8 275.7h3v3h-3zM96.8 275.7h3v3h-3zM99.8 275.7h3v3h-3zM132.8 275.7h3v3h-3zM135.8 275.7h3v3h-3zM138.8 275.7h3v3h-3zM141.8 278.7h3v3h-3zM144.8 278.7h3v3h-3zM147.8 281.7h3v6h-3z"/>
<path fill="#fefefe" d="M48.8 275.7h3v3h-3zM51.8 275.7h3v3h-3zM54.8 275.7h3v3h-3zM57.8 275.7h3v3h-3zM60.8 278.7h3v3h-3zM63.8 278.7h3v3h-3zM66.8 278.7h3v3h-3zM69.8 278.7h3v3h-3zM72.8 278.7h3v3h-3zM75.8 278.7h3v3h-3zM78.8 278.7h3v3h-3zM81.8 278.7h3v3h-3zM84.8 278.7h3v3h-3zM87.8 278.7h3v3h-3zM90.8 278.7h3v3h-3zM93.8 278.7h3v3h-3zM96.8 278.7h3v3h-3zM102.8 275.7h3v3h-3zM105.8 275.7h3v3h-3zM108.8 275.7h3v3h-3zM111.8 275.7h3v3h-3zM114.8 275.7h3v3h-3zM117.8 275.7h3v3h-3zM120.8 275.7h3v3h-3zM123.8 275.7h3v3h-3zM126.8 275.7h3v3h-3zM129.8 275.7h3v3h-3zM132.8 278.7h3v3h-3zM135.8 278.7h3v3h-3zM138.8 278.7h3v3h-3zM141.8 281.7h3v6h-3zM144.8 281.7h3v6h-3z"/>
<path fill="#ffffff" d="M48.8 278.7h3v9h-3zM51.8 278.7h3v9h-3zM54.8 278.7h3v9h-3zM57.8 278.7h3v9h-3zM60.8 281.7h3v6h-3zM63.8 281.7h3v6h-3zM66.8 281.7h3v6h-3zM69.8 281.7h3v6h-3zM72.8 281.7h3v6h-3zM75.8 281.7h3v6h-3zM78.8 281.7h3v6h-3zM81.8 281.7h3v6h-3zM84.8 281.7h3v6h-3zM87.8 281.7h3v6h-3zM90.8 281.7h3v6h-3zM93.8 281.7h3v6h-3zM96.8 281.7h3v6h-3zM99.8 278.7h3v9h-3zM102.8 278.7h3v9h-3zM105.8 278.7h3v9h-3zM108.8 278.7h3v9h-3zM111.8 278.7h3v9h-3zM114.8 278.7h3v9h-3zM117.8 278.7h3v9h-3zM120.8 278.7h3v9h-3zM123.8 278.7h3v9h-3zM126.8 278.7h3v9h-3zM129.8 278.7h3v9h-3zM132.8 281.7h3v6h-3zM135.8 281.7h3v6h-3zM138.8 281.7h3v6h-3z"/></g></g>
<rect x="41.9" y="43.6" width="226.5" height="251.4" fill="none" stroke="#bdbdbd" stroke-width="1.6"/>
<g><circle cx="113.0" cy="55.3" r="3.5" fill="#ee716c"/><circle cx="117.3" cy="97.9" r="3.5" fill="#ee716c"/><circle cx="120.7" cy="117.8" r="3.5" fill="#ee716c"/><circle cx="104.4" cy="144.4" r="3.5" fill="#ee716c"/><circle cx="102.3" cy="152.5" r="3.5" fill="#ee716c"/><circle cx="112.3" cy="225.3" r="3.5" fill="#ee716c"/><circle cx="148.4" cy="109.0" r="3.5" fill="#ee716c"/><circle cx="155.1" cy="111.4" r="3.5" fill="#ee716c"/><circle cx="181.5" cy="88.8" r="3.5" fill="#ee716c"/><circle cx="185.1" cy="138.7" r="3.5" fill="#ee716c"/><circle cx="170.1" cy="165.4" r="3.5" fill="#ee716c"/><circle cx="176.8" cy="168.1" r="3.5" fill="#ee716c"/><circle cx="190.4" cy="127.9" r="3.5" fill="#ee716c"/><circle cx="193.6" cy="118.1" r="3.5" fill="#ee716c"/><circle cx="193.4" cy="166.4" r="3.5" fill="#ee716c"/><circle cx="204.5" cy="202.5" r="3.5" fill="#ee716c"/><circle cx="218.0" cy="76.2" r="3.5" fill="#ee716c"/><circle cx="207.6" cy="85.1" r="3.5" fill="#ee716c"/><circle cx="196.4" cy="90.4" r="3.5" fill="#ee716c"/><circle cx="213.7" cy="92.6" r="3.5" fill="#ee716c"/><circle cx="222.5" cy="90.6" r="3.5" fill="#ee716c"/><circle cx="225.9" cy="93.0" r="3.5" fill="#ee716c"/><circle cx="232.6" cy="84.6" r="3.5" fill="#ee716c"/><circle cx="210.6" cy="100.5" r="3.5" fill="#ee716c"/><circle cx="213.4" cy="103.6" r="3.5" fill="#ee716c"/><circle cx="216.0" cy="106.8" r="3.5" fill="#ee716c"/><circle cx="236.1" cy="107.7" r="3.5" fill="#ee716c"/><circle cx="252.1" cy="90.3" r="3.5" fill="#ee716c"/><circle cx="253.5" cy="109.0" r="3.5" fill="#ee716c"/><circle cx="219.9" cy="115.0" r="3.5" fill="#ee716c"/><circle cx="218.9" cy="119.0" r="3.5" fill="#ee716c"/><circle cx="238.4" cy="115.3" r="3.5" fill="#ee716c"/><circle cx="235.6" cy="118.8" r="3.5" fill="#ee716c"/><circle cx="233.6" cy="121.6" r="3.5" fill="#ee716c"/><circle cx="232.2" cy="124.0" r="3.5" fill="#ee716c"/><circle cx="223.8" cy="132.0" r="3.5" fill="#ee716c"/><circle cx="230.1" cy="134.5" r="3.5" fill="#ee716c"/><circle cx="239.8" cy="132.3" r="3.5" fill="#ee716c"/><circle cx="246.8" cy="132.7" r="3.5" fill="#ee716c"/><circle cx="218.2" cy="136.5" r="3.5" fill="#ee716c"/><circle cx="243.5" cy="139.3" r="3.5" fill="#ee716c"/><circle cx="250.3" cy="141.4" r="3.5" fill="#ee716c"/><circle cx="225.2" cy="145.0" r="3.5" fill="#ee716c"/><circle cx="231.5" cy="143.4" r="3.5" fill="#ee716c"/><circle cx="234.2" cy="148.0" r="3.5" fill="#ee716c"/><circle cx="244.2" cy="147.5" r="3.5" fill="#ee716c"/><circle cx="236.3" cy="150.6" r="3.5" fill="#ee716c"/><circle cx="244.4" cy="151.0" r="3.5" fill="#ee716c"/><circle cx="230.1" cy="154.5" r="3.5" fill="#ee716c"/><circle cx="225.6" cy="162.9" r="3.5" fill="#ee716c"/><circle cx="224.5" cy="166.8" r="3.5" fill="#ee716c"/><circle cx="228.7" cy="166.8" r="3.5" fill="#ee716c"/><circle cx="236.2" cy="176.1" r="3.5" fill="#ee716c"/><circle cx="238.3" cy="179.8" r="3.5" fill="#ee716c"/><circle cx="237.4" cy="191.4" r="3.5" fill="#ee716c"/><circle cx="228.6" cy="195.5" r="3.5" fill="#ee716c"/><circle cx="236.2" cy="199.0" r="3.5" fill="#ee716c"/><circle cx="234.8" cy="203.2" r="3.5" fill="#ee716c"/><circle cx="252.4" cy="209.0" r="3.5" fill="#ee716c"/><circle cx="235.7" cy="219.4" r="3.5" fill="#ee716c"/><circle cx="257.2" cy="226.3" r="3.5" fill="#ee716c"/><circle cx="235.4" cy="259.0" r="3.5" fill="#ee716c"/><circle cx="164.6" cy="211.1" r="3.5" fill="#ee716c"/><circle cx="75.0" cy="74.9" r="3.5" fill="#5dd6c9"/><circle cx="93.7" cy="82.7" r="3.5" fill="#5dd6c9"/><circle cx="68.7" cy="93.4" r="3.5" fill="#5dd6c9"/><circle cx="87.0" cy="105.0" r="3.5" fill="#5dd6c9"/><circle cx="100.4" cy="107.8" r="3.5" fill="#5dd6c9"/><circle cx="92.8" cy="113.7" r="3.5" fill="#5dd6c9"/><circle cx="74.8" cy="117.0" r="3.5" fill="#5dd6c9"/><circle cx="81.7" cy="119.2" r="3.5" fill="#5dd6c9"/><circle cx="69.9" cy="124.4" r="3.5" fill="#5dd6c9"/><circle cx="124.0" cy="106.0" r="3.5" fill="#5dd6c9"/><circle cx="82.1" cy="131.3" r="3.5" fill="#5dd6c9"/><circle cx="61.2" cy="139.4" r="3.5" fill="#5dd6c9"/><circle cx="66.9" cy="141.4" r="3.5" fill="#5dd6c9"/><circle cx="75.5" cy="146.1" r="3.5" fill="#5dd6c9"/><circle cx="85.2" cy="143.7" r="3.5" fill="#5dd6c9"/><circle cx="95.5" cy="139.9" r="3.5" fill="#5dd6c9"/><circle cx="98.8" cy="138.7" r="3.5" fill="#5dd6c9"/><circle cx="97.7" cy="151.9" r="3.5" fill="#5dd6c9"/><circle cx="94.6" cy="155.9" r="3.5" fill="#5dd6c9"/><circle cx="91.8" cy="160.7" r="3.5" fill="#5dd6c9"/><circle cx="58.0" cy="155.3" r="3.5" fill="#5dd6c9"/><circle cx="63.5" cy="154.2" r="3.5" fill="#5dd6c9"/><circle cx="63.3" cy="168.3" r="3.5" fill="#5dd6c9"/><circle cx="71.5" cy="169.1" r="3.5" fill="#5dd6c9"/><circle cx="82.0" cy="167.5" r="3.5" fill="#5dd6c9"/><circle cx="85.7" cy="165.6" r="3.5" fill="#5dd6c9"/><circle cx="94.7" cy="170.4" r="3.5" fill="#5dd6c9"/><circle cx="99.6" cy="167.2" r="3.5" fill="#5dd6c9"/><circle cx="82.1" cy="176.3" r="3.5" fill="#5dd6c9"/><circle cx="113.4" cy="164.4" r="3.5" fill="#5dd6c9"/><circle cx="112.1" cy="169.3" r="3.5" fill="#5dd6c9"/><circle cx="52.7" cy="191.7" r="3.5" fill="#5dd6c9"/><circle cx="62.1" cy="200.0" r="3.5" fill="#5dd6c9"/><circle cx="88.8" cy="197.7" r="3.5" fill="#5dd6c9"/><circle cx="113.3" cy="189.9" r="3.5" fill="#5dd6c9"/><circle cx="81.2" cy="225.8" r="3.5" fill="#5dd6c9"/><circle cx="97.0" cy="228.5" r="3.5" fill="#5dd6c9"/><circle cx="106.2" cy="220.0" r="3.5" fill="#5dd6c9"/><circle cx="70.5" cy="249.0" r="3.5" fill="#5dd6c9"/><circle cx="186.9" cy="117.3" r="3.5" fill="#5dd6c9"/><circle cx="179.9" cy="151.5" r="3.5" fill="#5dd6c9"/><circle cx="174.8" cy="157.8" r="3.5" fill="#5dd6c9"/><circle cx="146.1" cy="177.5" r="3.5" fill="#5dd6c9"/><circle cx="153.0" cy="193.6" r="3.5" fill="#5dd6c9"/><circle cx="131.7" cy="205.5" r="3.5" fill="#5dd6c9"/><circle cx="163.9" cy="202.5" r="3.5" fill="#5dd6c9"/><circle cx="156.8" cy="208.4" r="3.5" fill="#5dd6c9"/><circle cx="169.5" cy="231.2" r="3.5" fill="#5dd6c9"/><circle cx="182.2" cy="238.3" r="3.5" fill="#5dd6c9"/><circle cx="130.1" cy="241.9" r="3.5" fill="#5dd6c9"/><circle cx="199.7" cy="98.4" r="3.5" fill="#5dd6c9"/><circle cx="197.2" cy="136.4" r="3.5" fill="#5dd6c9"/><circle cx="216.1" cy="140.6" r="3.5" fill="#5dd6c9"/><circle cx="207.7" cy="152.0" r="3.5" fill="#5dd6c9"/><circle cx="193.3" cy="197.2" r="3.5" fill="#5dd6c9"/><circle cx="216.1" cy="176.1" r="3.5" fill="#5dd6c9"/><circle cx="218.6" cy="180.6" r="3.5" fill="#5dd6c9"/><circle cx="221.5" cy="185.1" r="3.5" fill="#5dd6c9"/><circle cx="201.6" cy="211.9" r="3.5" fill="#5dd6c9"/><circle cx="217.0" cy="239.0" r="3.5" fill="#5dd6c9"/><circle cx="211.5" cy="242.4" r="3.5" fill="#5dd6c9"/><circle cx="206.5" cy="245.1" r="3.5" fill="#5dd6c9"/><circle cx="199.5" cy="255.8" r="3.5" fill="#5dd6c9"/><circle cx="209.6" cy="265.3" r="3.5" fill="#5dd6c9"/><circle cx="207.3" cy="282.5" r="3.5" fill="#5dd6c9"/></g>
<g><line x1="53.28" y1="295.0" x2="53.28" y2="299.0" stroke="#333" stroke-width="1"/><text x="53.28" y="313" text-anchor="middle" font-size="14">−3</text><line x1="91.82" y1="295.0" x2="91.82" y2="299.0" stroke="#333" stroke-width="1"/><text x="91.82" y="313" text-anchor="middle" font-size="14">−2</text><line x1="130.36" y1="295.0" x2="130.36" y2="299.0" stroke="#333" stroke-width="1"/><text x="130.36" y="313" text-anchor="middle" font-size="14">−1</text><line x1="168.90" y1="295.0" x2="168.90" y2="299.0" stroke="#333" stroke-width="1"/><text x="168.90" y="313" text-anchor="middle" font-size="14">0</text><line x1="207.44" y1="295.0" x2="207.44" y2="299.0" stroke="#333" stroke-width="1"/><text x="207.44" y="313" text-anchor="middle" font-size="14">1</text><line x1="245.98" y1="295.0" x2="245.98" y2="299.0" stroke="#333" stroke-width="1"/><text x="245.98" y="313" text-anchor="middle" font-size="14">2</text></g>
<g><line x1="37.9" y1="92.60" x2="41.9" y2="92.60" stroke="#333" stroke-width="1"/><text x="35" y="97.60" text-anchor="end" font-size="14">2</text><line x1="37.9" y1="155.80" x2="41.9" y2="155.80" stroke="#333" stroke-width="1"/><text x="35" y="160.80" text-anchor="end" font-size="14">0</text><line x1="37.9" y1="219.00" x2="41.9" y2="219.00" stroke="#333" stroke-width="1"/><text x="35" y="224.00" text-anchor="end" font-size="14">−2</text><line x1="37.9" y1="282.20" x2="41.9" y2="282.20" stroke="#333" stroke-width="1"/><text x="35" y="287.20" text-anchor="end" font-size="14">−4</text></g>
<text x="154.5" y="329" text-anchor="middle" font-size="17.5">Comp.1</text>
<text transform="translate(15.3 169.6) rotate(-90)" text-anchor="middle" font-size="17.5">Comp.2</text>
<!-- legend -->
<rect x="282.4" y="84" width="16.2" height="16" fill="#fff" stroke="#d9d9d9" stroke-width="1"/>
<rect x="282.4" y="100" width="16.2" height="15.7" fill="#fff" stroke="#d9d9d9" stroke-width="1"/>
<circle cx="290.2" cy="91.8" r="2" fill="#ee716c"/>
<circle cx="290.2" cy="107.6" r="2" fill="#5dd6c9"/>
<text x="300.3" y="96.8" font-size="14.8">European</text>
<text x="300.3" y="112.6" font-size="14.8">Indian</text>
<text x="282.4" y="140.3" font-size="14.4" font-weight="bold">density</text>
<rect x="282" y="145" width="16.8" height="79.8" fill="url(#cbg)"/>
<g stroke="#fff" stroke-width="0.8">
<line x1="282" y1="158.1" x2="285.4" y2="158.1"/><line x1="295.4" y1="158.1" x2="298.8" y2="158.1"/>
<line x1="282" y1="181.4" x2="285.4" y2="181.4"/><line x1="295.4" y1="181.4" x2="298.8" y2="181.4"/>
<line x1="282" y1="204.5" x2="285.4" y2="204.5"/><line x1="295.4" y1="204.5" x2="298.8" y2="204.5"/>
</g>
<text x="302" y="163.1" font-size="14">0.06</text>
<text x="302" y="186.4" font-size="14">0.04</text>
<text x="302" y="209.5" font-size="14">0.02</text>
<!-- Panel B -->
<text x="381.4" y="18.3" font-size="20.5" font-weight="bold">B.</text>
<line x1="404.5" y1="144.10" x2="492.8" y2="144.10" stroke="#ebebeb" stroke-width="0.8"/>
<line x1="404.5" y1="132.82" x2="492.8" y2="132.82" stroke="#f4f4f4" stroke-width="0.5"/>
<line x1="404.5" y1="121.55" x2="492.8" y2="121.55" stroke="#ebebeb" stroke-width="0.8"/>
<line x1="404.5" y1="110.28" x2="492.8" y2="110.28" stroke="#f4f4f4" stroke-width="0.5"/>
<line x1="404.5" y1="99.00" x2="492.8" y2="99.00" stroke="#ebebeb" stroke-width="0.8"/>
<line x1="404.5" y1="87.72" x2="492.8" y2="87.72" stroke="#f4f4f4" stroke-width="0.5"/>
<line x1="404.5" y1="76.45" x2="492.8" y2="76.45" stroke="#ebebeb" stroke-width="0.8"/>
<line x1="404.5" y1="65.17" x2="492.8" y2="65.17" stroke="#f4f4f4" stroke-width="0.5"/>
<line x1="404.5" y1="53.90" x2="492.8" y2="53.90" stroke="#ebebeb" stroke-width="0.8"/>
<line x1="405.00" y1="53.4" x2="405.00" y2="147.6" stroke="#ebebeb" stroke-width="0.8"/>
<line x1="419.40" y1="53.4" x2="419.40" y2="147.6" stroke="#f4f4f4" stroke-width="0.5"/>
<line x1="433.80" y1="53.4" x2="433.80" y2="147.6" stroke="#ebebeb" stroke-width="0.8"/>
<line x1="448.20" y1="53.4" x2="448.20" y2="147.6" stroke="#f4f4f4" stroke-width="0.5"/>
<line x1="462.60" y1="53.4" x2="462.60" y2="147.6" stroke="#ebebeb" stroke-width="0.8"/>
<line x1="477.00" y1="53.4" x2="477.00" y2="147.6" stroke="#f4f4f4" stroke-width="0.5"/>
<line x1="491.40" y1="53.4" x2="491.40" y2="147.6" stroke="#ebebeb" stroke-width="0.8"/>
<path d="M407.90 144.10 L407.90 78.80 L407.90 78.80 C408.20 76.57 408.95 68.75 409.70 65.40 C410.45 62.05 411.47 60.12 412.40 58.70 C413.33 57.28 414.33 56.83 415.30 56.90 C416.27 56.97 417.27 57.68 418.20 59.10 C419.13 60.52 419.90 62.48 420.90 65.40 C421.90 68.32 423.08 72.52 424.20 76.60 C425.32 80.68 426.48 85.45 427.60 89.90 C428.72 94.35 429.78 99.20 430.90 103.30 C432.02 107.40 433.00 111.52 434.30 114.50 C435.60 117.48 437.03 119.63 438.70 121.20 C440.37 122.77 441.95 123.17 444.30 123.90 C446.65 124.63 449.75 125.20 452.80 125.60 C455.85 126.00 460.00 126.22 462.60 126.30 C465.20 126.38 466.67 126.28 468.40 126.10 C470.13 125.92 471.68 125.42 473.00 125.20 C474.32 124.98 475.13 124.80 476.30 124.80 C477.47 124.80 478.88 124.87 480.00 125.20 C481.12 125.53 482.07 126.12 483.00 126.80 C483.93 127.48 484.67 128.25 485.60 129.30 C486.53 130.35 488.10 132.47 488.60 133.10 L488.75 144.10" fill="none" stroke="#f8766d" stroke-width="0.85" stroke-linejoin="round"/>
<path d="M407.90 144.10 L407.90 124.50 L407.90 124.50 C408.57 123.38 410.48 119.92 411.90 117.80 C413.32 115.68 415.05 113.27 416.40 111.80 C417.75 110.33 418.88 109.58 420.00 109.00 C421.12 108.42 421.83 108.20 423.10 108.30 C424.37 108.40 426.12 108.75 427.60 109.60 C429.08 110.45 430.52 112.13 432.00 113.40 C433.48 114.67 434.82 115.90 436.50 117.20 C438.18 118.50 440.25 120.20 442.10 121.20 C443.95 122.20 446.13 122.83 447.60 123.20 C449.07 123.57 449.70 123.60 450.90 123.40 C452.10 123.20 453.50 122.88 454.80 122.00 C456.10 121.12 457.08 120.22 458.70 118.10 C460.32 115.98 462.55 112.40 464.50 109.30 C466.45 106.20 468.43 102.37 470.40 99.50 C472.37 96.63 474.52 93.65 476.30 92.10 C478.08 90.55 479.65 90.10 481.10 90.20 C482.55 90.30 483.73 91.27 485.00 92.70 C486.27 94.13 488.08 97.78 488.70 98.80 L488.75 144.10 Z" fill="none" stroke="#45d5cf" stroke-width="0.85" stroke-linejoin="round"/>
<rect x="404.50" y="53.40" width="88.30" height="94.20" fill="none" stroke="#c4c4c4" stroke-width="0.9"/>
<line x1="402.20" y1="144.10" x2="404.50" y2="144.10" stroke="#333" stroke-width="0.8"/>
<text x="401.30" y="146.90" text-anchor="end" font-size="7.6" fill="#4d4d4d">0.0</text>
<line x1="402.20" y1="121.55" x2="404.50" y2="121.55" stroke="#333" stroke-width="0.8"/>
<text x="401.30" y="124.35" text-anchor="end" font-size="7.6" fill="#4d4d4d">0.2</text>
<line x1="402.20" y1="99.00" x2="404.50" y2="99.00" stroke="#333" stroke-width="0.8"/>
<text x="401.30" y="101.80" text-anchor="end" font-size="7.6" fill="#4d4d4d">0.4</text>
<line x1="402.20" y1="76.45" x2="404.50" y2="76.45" stroke="#333" stroke-width="0.8"/>
<text x="401.30" y="79.25" text-anchor="end" font-size="7.6" fill="#4d4d4d">0.6</text>
<line x1="402.20" y1="53.90" x2="404.50" y2="53.90" stroke="#333" stroke-width="0.8"/>
<text x="401.30" y="56.70" text-anchor="end" font-size="7.6" fill="#4d4d4d">0.8</text>
<line x1="405.00" y1="147.60" x2="405.00" y2="149.90" stroke="#333" stroke-width="0.8"/>
<text x="405.00" y="157.40" text-anchor="middle" font-size="7.6" fill="#4d4d4d">3</text>
<line x1="433.80" y1="147.60" x2="433.80" y2="149.90" stroke="#333" stroke-width="0.8"/>
<text x="433.80" y="157.40" text-anchor="middle" font-size="7.6" fill="#4d4d4d">4</text>
<line x1="462.60" y1="147.60" x2="462.60" y2="149.90" stroke="#333" stroke-width="0.8"/>
<text x="462.60" y="157.40" text-anchor="middle" font-size="7.6" fill="#4d4d4d">5</text>
<line x1="491.40" y1="147.60" x2="491.40" y2="149.90" stroke="#333" stroke-width="0.8"/>
<text x="491.40" y="157.40" text-anchor="middle" font-size="7.6" fill="#4d4d4d">6</text>
<text x="448.65" y="165.50" text-anchor="middle" font-size="9.5" fill="#1a1a1a">HITChip (Log10)</text>
<text transform="translate(388.00 100.50) rotate(-90)" text-anchor="middle" font-size="9.5" fill="#1a1a1a">Frequency</text>
<text x="499.80" y="93.90" font-size="7.6" font-weight="bold" fill="#1a1a1a">nat</text>
<rect x="499.90" y="96.50" width="8.6" height="8.1" fill="#fff" stroke="#f8766d" stroke-width="0.7"/>
<line x1="499.90" y1="104.60" x2="508.50" y2="96.50" stroke="#f8766d" stroke-width="0.7"/>
<text x="509.30" y="102.80" font-size="7.4" fill="#1a1a1a">Europe</text>
<rect x="499.90" y="104.80" width="8.6" height="8.1" fill="#fff" stroke="#45d5cf" stroke-width="0.7"/>
<line x1="499.90" y1="112.90" x2="508.50" y2="104.80" stroke="#45d5cf" stroke-width="0.7"/>
<text x="509.30" y="111.10" font-size="7.4" fill="#1a1a1a">India</text>
<line x1="405.8" y1="306.10" x2="495.2" y2="306.10" stroke="#ebebeb" stroke-width="0.8"/>
<line x1="405.8" y1="292.97" x2="495.2" y2="292.97" stroke="#f4f4f4" stroke-width="0.5"/>
<line x1="405.8" y1="279.84" x2="495.2" y2="279.84" stroke="#ebebeb" stroke-width="0.8"/>
<line x1="405.8" y1="266.71" x2="495.2" y2="266.71" stroke="#f4f4f4" stroke-width="0.5"/>
<line x1="405.8" y1="253.58" x2="495.2" y2="253.58" stroke="#ebebeb" stroke-width="0.8"/>
<line x1="405.8" y1="240.45" x2="495.2" y2="240.45" stroke="#f4f4f4" stroke-width="0.5"/>
<line x1="405.8" y1="227.32" x2="495.2" y2="227.32" stroke="#ebebeb" stroke-width="0.8"/>
<line x1="405.8" y1="214.19" x2="495.2" y2="214.19" stroke="#f4f4f4" stroke-width="0.5"/>
<line x1="416.70" y1="213.4" x2="416.70" y2="310.0" stroke="#f4f4f4" stroke-width="0.5"/>
<line x1="432.20" y1="213.4" x2="432.20" y2="310.0" stroke="#ebebeb" stroke-width="0.8"/>
<line x1="447.70" y1="213.4" x2="447.70" y2="310.0" stroke="#f4f4f4" stroke-width="0.5"/>
<line x1="463.20" y1="213.4" x2="463.20" y2="310.0" stroke="#ebebeb" stroke-width="0.8"/>
<line x1="478.70" y1="213.4" x2="478.70" y2="310.0" stroke="#f4f4f4" stroke-width="0.5"/>
<line x1="494.20" y1="213.4" x2="494.20" y2="310.0" stroke="#ebebeb" stroke-width="0.8"/>
<path d="M410.00 306.00 L410.00 295.00 L410.00 295.00 C411.15 293.70 414.35 289.67 416.90 287.20 C419.45 284.73 422.75 281.97 425.30 280.20 C427.85 278.43 429.88 278.22 432.20 276.60 C434.52 274.98 437.07 272.45 439.20 270.50 C441.33 268.55 442.87 266.75 445.00 264.90 C447.13 263.05 449.92 261.72 452.00 259.40 C454.08 257.08 455.65 254.72 457.50 251.00 C459.35 247.28 461.23 241.52 463.10 237.10 C464.97 232.68 467.07 227.67 468.70 224.50 C470.33 221.33 471.52 218.78 472.90 218.10 C474.28 217.42 475.62 218.17 477.00 220.40 C478.38 222.63 479.80 226.87 481.20 231.50 C482.60 236.13 483.90 242.17 485.40 248.20 C486.90 254.23 489.15 263.05 490.20 267.70 C491.25 272.35 491.45 274.70 491.70 276.10 L491.70 306.00" fill="none" stroke="#f8766d" stroke-width="0.85" stroke-linejoin="round"/>
<path d="M410.00 306.00 L410.00 283.00 L410.00 283.00 C410.68 280.45 412.48 272.80 414.10 267.70 C415.72 262.60 417.83 256.48 419.70 252.40 C421.57 248.32 423.53 245.15 425.30 243.20 C427.07 241.25 428.53 240.57 430.30 240.70 C432.07 240.83 433.95 241.82 435.90 244.00 C437.85 246.18 440.05 251.02 442.00 253.80 C443.95 256.58 446.17 259.45 447.60 260.70 C449.03 261.95 449.18 261.52 450.60 261.30 C452.02 261.08 454.25 260.88 456.10 259.40 C457.95 257.92 459.83 254.35 461.70 252.40 C463.57 250.45 465.43 247.93 467.30 247.70 C469.17 247.47 470.82 247.67 472.90 251.00 C474.98 254.33 477.42 262.13 479.80 267.70 C482.18 273.27 485.22 279.98 487.20 284.40 C489.18 288.82 490.95 292.57 491.70 294.20 L491.70 306.00 Z" fill="none" stroke="#45d5cf" stroke-width="0.85" stroke-linejoin="round"/>
<rect x="405.80" y="213.40" width="89.40" height="96.60" fill="none" stroke="#c4c4c4" stroke-width="0.9"/>
<line x1="403.50" y1="306.10" x2="405.80" y2="306.10" stroke="#333" stroke-width="0.8"/>
<text x="402.60" y="308.90" text-anchor="end" font-size="7.6" fill="#4d4d4d">0.0</text>
<line x1="403.50" y1="279.84" x2="405.80" y2="279.84" stroke="#333" stroke-width="0.8"/>
<text x="402.60" y="282.64" text-anchor="end" font-size="7.6" fill="#4d4d4d">0.2</text>
<line x1="403.50" y1="253.58" x2="405.80" y2="253.58" stroke="#333" stroke-width="0.8"/>
<text x="402.60" y="256.38" text-anchor="end" font-size="7.6" fill="#4d4d4d">0.4</text>
<line x1="403.50" y1="227.32" x2="405.80" y2="227.32" stroke="#333" stroke-width="0.8"/>
<text x="402.60" y="230.12" text-anchor="end" font-size="7.6" fill="#4d4d4d">0.6</text>
<line x1="432.20" y1="310.00" x2="432.20" y2="312.30" stroke="#333" stroke-width="0.8"/>
<text x="432.20" y="319.80" text-anchor="middle" font-size="7.6" fill="#4d4d4d">4</text>
<line x1="463.20" y1="310.00" x2="463.20" y2="312.30" stroke="#333" stroke-width="0.8"/>
<text x="463.20" y="319.80" text-anchor="middle" font-size="7.6" fill="#4d4d4d">5</text>
<line x1="494.20" y1="310.00" x2="494.20" y2="312.30" stroke="#333" stroke-width="0.8"/>
<text x="494.20" y="319.80" text-anchor="middle" font-size="7.6" fill="#4d4d4d">6</text>
<text x="450.50" y="327.80" text-anchor="middle" font-size="9.8" fill="#1a1a1a">HITChip (Log10)</text>
<text transform="translate(389.50 261.70) rotate(-90)" text-anchor="middle" font-size="9.8" fill="#1a1a1a">Frequency</text>
<text x="502.50" y="255.00" font-size="7.6" font-weight="bold" fill="#1a1a1a">nat</text>
<rect x="502.60" y="257.60" width="8.6" height="8.1" fill="#fff" stroke="#f8766d" stroke-width="0.7"/>
<line x1="502.60" y1="265.70" x2="511.20" y2="257.60" stroke="#f8766d" stroke-width="0.7"/>
<text x="512.00" y="263.90" font-size="7.7" fill="#1a1a1a">Europe</text>
<rect x="502.60" y="265.90" width="8.6" height="8.1" fill="#fff" stroke="#45d5cf" stroke-width="0.7"/>
<line x1="502.60" y1="274.00" x2="511.20" y2="265.90" stroke="#45d5cf" stroke-width="0.7"/>
<text x="512.00" y="272.20" font-size="7.7" fill="#1a1a1a">India</text>
<path d="M594.60 66.80 C594.67 67.55 595.20 69.08 595.00 71.30 C594.80 73.52 593.75 76.97 593.40 80.10 C593.05 83.23 592.88 86.75 592.90 90.10 C592.92 93.45 593.25 97.55 593.50 100.20 C593.75 102.85 594.00 104.33 594.40 106.00 C594.80 107.67 595.23 108.87 595.90 110.20 C596.57 111.53 597.45 112.75 598.40 114.00 C599.35 115.25 600.52 116.53 601.60 117.70 C602.68 118.87 603.90 119.95 604.90 121.00 C605.90 122.05 606.77 123.00 607.60 124.00 C608.43 125.00 609.32 126.00 609.90 127.00 C610.48 128.00 610.82 128.83 611.10 130.00 C611.38 131.17 611.68 132.83 611.60 134.00 C611.52 135.17 611.02 136.15 610.60 137.00 C610.18 137.85 609.60 138.38 609.10 139.10 C608.60 139.82 608.02 140.67 607.60 141.30 C607.18 141.93 606.77 142.63 606.60 142.90 L572.60 142.90 C572.43 142.63 572.02 141.93 571.60 141.30 C571.18 140.67 570.60 139.82 570.10 139.10 C569.60 138.38 569.02 137.85 568.60 137.00 C568.18 136.15 567.68 135.17 567.60 134.00 C567.52 132.83 567.82 131.17 568.10 130.00 C568.38 128.83 568.72 128.00 569.30 127.00 C569.88 126.00 570.77 125.00 571.60 124.00 C572.43 123.00 573.30 122.05 574.30 121.00 C575.30 119.95 576.52 118.87 577.60 117.70 C578.68 116.53 579.85 115.25 580.80 114.00 C581.75 112.75 582.63 111.53 583.30 110.20 C583.97 108.87 584.40 107.67 584.80 106.00 C585.20 104.33 585.45 102.85 585.70 100.20 C585.95 97.55 586.28 93.45 586.30 90.10 C586.32 86.75 586.15 83.23 585.80 80.10 C585.45 76.97 584.40 73.52 584.20 71.30 C584.00 69.08 584.53 67.55 584.60 66.80 Z" fill="#ef654b"/>
<line x1="589.60" y1="66.80" x2="589.60" y2="142.90" stroke="#333" stroke-width="0.5"/>
<rect x="588.15" y="107.00" width="2.9" height="28.60" fill="#000"/>
<circle cx="589.60" cy="132.30" r="0.95" fill="#fff"/>
<path d="M666.90 60.80 C667.15 61.08 668.07 61.80 668.40 62.50 C668.73 63.20 668.80 63.92 668.90 65.00 C669.00 66.08 669.08 67.73 669.00 69.00 C668.92 70.27 668.75 71.35 668.40 72.60 C668.05 73.85 667.48 75.25 666.90 76.50 C666.32 77.75 665.62 78.68 664.90 80.10 C664.18 81.52 663.32 83.33 662.60 85.00 C661.88 86.67 661.25 88.43 660.60 90.10 C659.95 91.77 659.18 93.32 658.70 95.00 C658.22 96.68 657.80 98.53 657.70 100.20 C657.60 101.87 657.85 103.33 658.10 105.00 C658.35 106.67 658.82 108.53 659.20 110.20 C659.58 111.87 660.07 113.32 660.40 115.00 C660.73 116.68 661.05 118.63 661.20 120.30 C661.35 121.97 661.40 123.33 661.30 125.00 C661.20 126.67 660.95 128.72 660.60 130.30 C660.25 131.88 659.73 133.23 659.20 134.50 C658.67 135.77 658.28 136.80 657.40 137.90 C656.52 139.00 654.48 140.57 653.90 141.10 L638.90 141.10 C638.32 140.57 636.28 139.00 635.40 137.90 C634.52 136.80 634.13 135.77 633.60 134.50 C633.07 133.23 632.55 131.88 632.20 130.30 C631.85 128.72 631.60 126.67 631.50 125.00 C631.40 123.33 631.45 121.97 631.60 120.30 C631.75 118.63 632.07 116.68 632.40 115.00 C632.73 113.32 633.22 111.87 633.60 110.20 C633.98 108.53 634.45 106.67 634.70 105.00 C634.95 103.33 635.20 101.87 635.10 100.20 C635.00 98.53 634.58 96.68 634.10 95.00 C633.62 93.32 632.85 91.77 632.20 90.10 C631.55 88.43 630.92 86.67 630.20 85.00 C629.48 83.33 628.62 81.52 627.90 80.10 C627.18 78.68 626.48 77.75 625.90 76.50 C625.32 75.25 624.75 73.85 624.40 72.60 C624.05 71.35 623.88 70.27 623.80 69.00 C623.72 67.73 623.80 66.08 623.90 65.00 C624.00 63.92 624.07 63.20 624.40 62.50 C624.73 61.80 625.65 61.08 625.90 60.80 Z" fill="#65c5c2"/>
<line x1="646.40" y1="60.80" x2="646.40" y2="141.10" stroke="#333" stroke-width="0.5"/>
<rect x="644.95" y="67.00" width="2.9" height="54.60" fill="#000"/>
<circle cx="646.40" cy="85.10" r="0.95" fill="#fff"/>
<rect x="556.80" y="54.60" width="122.60" height="94.80" fill="none" stroke="#c4c4c4" stroke-width="0.9"/>
<line x1="554.30" y1="147.15" x2="556.80" y2="147.15" stroke="#333" stroke-width="0.7"/>
<text x="552.50" y="149.75" text-anchor="end" font-size="7.3" fill="#4d4d4d">3.0</text>
<line x1="554.30" y1="132.32" x2="556.80" y2="132.32" stroke="#333" stroke-width="0.7"/>
<text x="552.50" y="134.92" text-anchor="end" font-size="7.3" fill="#4d4d4d">3.5</text>
<line x1="554.30" y1="117.50" x2="556.80" y2="117.50" stroke="#333" stroke-width="0.7"/>
<text x="552.50" y="120.10" text-anchor="end" font-size="7.3" fill="#4d4d4d">4.0</text>
<line x1="554.30" y1="102.67" x2="556.80" y2="102.67" stroke="#333" stroke-width="0.7"/>
<text x="552.50" y="105.27" text-anchor="end" font-size="7.3" fill="#4d4d4d">4.5</text>
<line x1="554.30" y1="87.85" x2="556.80" y2="87.85" stroke="#333" stroke-width="0.7"/>
<text x="552.50" y="90.45" text-anchor="end" font-size="7.3" fill="#4d4d4d">5.0</text>
<line x1="554.30" y1="73.03" x2="556.80" y2="73.03" stroke="#333" stroke-width="0.7"/>
<text x="552.50" y="75.62" text-anchor="end" font-size="7.3" fill="#4d4d4d">5.5</text>
<line x1="554.30" y1="58.20" x2="556.80" y2="58.20" stroke="#333" stroke-width="0.7"/>
<text x="552.50" y="60.80" text-anchor="end" font-size="7.3" fill="#4d4d4d">6.0</text>
<line x1="589.50" y1="149.40" x2="589.50" y2="151.90" stroke="#333" stroke-width="0.7"/>
<text x="579.40" y="166.40" font-size="6.75" fill="#3a3a3a">Europe</text>
<line x1="646.50" y1="149.40" x2="646.50" y2="151.90" stroke="#333" stroke-width="0.7"/>
<text x="643.00" y="166.40" font-size="6.75" fill="#3a3a3a">India</text>
<text x="582.00" y="51.80" font-size="10.4" font-weight="bold" fill="#000">P = 8.8 x 10<tspan font-size="6.6" dy="-3.8">-8</tspan></text>
<text transform="translate(543.50 102.00) rotate(-90)" text-anchor="middle" font-size="7" fill="#1a1a1a">HITChip (Log10)</text>
<path d="M602.40 221.30 C602.90 221.67 604.35 222.67 605.40 223.50 C606.45 224.33 607.70 225.30 608.70 226.30 C609.70 227.30 610.60 228.45 611.40 229.50 C612.20 230.55 612.95 231.55 613.50 232.60 C614.05 233.65 614.45 234.75 614.70 235.80 C614.95 236.85 615.08 237.87 615.00 238.90 C614.92 239.93 614.63 240.97 614.20 242.00 C613.77 243.03 613.12 243.97 612.40 245.10 C611.68 246.23 610.73 247.53 609.90 248.80 C609.07 250.07 608.10 251.42 607.40 252.70 C606.70 253.98 606.20 255.25 605.70 256.50 C605.20 257.75 604.85 258.78 604.40 260.20 C603.95 261.62 603.42 263.33 603.00 265.00 C602.58 266.67 602.22 268.53 601.90 270.20 C601.58 271.87 601.35 273.32 601.10 275.00 C600.85 276.68 600.65 278.63 600.40 280.30 C600.15 281.97 599.88 283.33 599.60 285.00 C599.32 286.67 599.00 288.80 598.70 290.30 C598.40 291.80 598.13 292.73 597.80 294.00 C597.47 295.27 597.08 296.63 596.70 297.90 C596.32 299.17 595.70 300.98 595.50 301.60 L589.30 301.60 C589.10 300.98 588.48 299.17 588.10 297.90 C587.72 296.63 587.33 295.27 587.00 294.00 C586.67 292.73 586.40 291.80 586.10 290.30 C585.80 288.80 585.48 286.67 585.20 285.00 C584.92 283.33 584.65 281.97 584.40 280.30 C584.15 278.63 583.95 276.68 583.70 275.00 C583.45 273.32 583.22 271.87 582.90 270.20 C582.58 268.53 582.22 266.67 581.80 265.00 C581.38 263.33 580.85 261.62 580.40 260.20 C579.95 258.78 579.60 257.75 579.10 256.50 C578.60 255.25 578.10 253.98 577.40 252.70 C576.70 251.42 575.73 250.07 574.90 248.80 C574.07 247.53 573.12 246.23 572.40 245.10 C571.68 243.97 571.03 243.03 570.60 242.00 C570.17 240.97 569.88 239.93 569.80 238.90 C569.72 237.87 569.85 236.85 570.10 235.80 C570.35 234.75 570.75 233.65 571.30 232.60 C571.85 231.55 572.60 230.55 573.40 229.50 C574.20 228.45 575.10 227.30 576.10 226.30 C577.10 225.30 578.35 224.33 579.40 223.50 C580.45 222.67 581.90 221.67 582.40 221.30 Z" fill="#ef654b"/>
<line x1="592.40" y1="221.30" x2="592.40" y2="301.60" stroke="#333" stroke-width="0.5"/>
<rect x="590.95" y="233.80" width="2.9" height="30.20" fill="#000"/>
<circle cx="592.40" cy="245.10" r="0.95" fill="#fff"/>
<path d="M658.40 227.60 C658.90 228.00 660.45 229.17 661.40 230.00 C662.35 230.83 663.25 231.65 664.10 232.60 C664.95 233.55 665.77 234.65 666.50 235.70 C667.23 236.75 667.97 237.85 668.50 238.90 C669.03 239.95 669.42 240.97 669.70 242.00 C669.98 243.03 670.20 243.32 670.20 245.10 C670.20 246.88 669.95 250.18 669.70 252.70 C669.45 255.22 668.78 258.32 668.70 260.20 C668.62 262.08 668.95 262.75 669.20 264.00 C669.45 265.25 669.83 266.45 670.20 267.70 C670.57 268.95 671.07 270.23 671.40 271.50 C671.73 272.77 672.02 274.05 672.20 275.30 C672.38 276.55 672.50 277.75 672.50 279.00 C672.50 280.25 672.53 281.55 672.20 282.80 C671.87 284.05 671.18 285.25 670.50 286.50 C669.82 287.75 668.90 289.05 668.10 290.30 C667.30 291.55 666.57 292.73 665.70 294.00 C664.83 295.27 663.37 297.25 662.90 297.90 L636.90 297.90 C636.43 297.25 634.97 295.27 634.10 294.00 C633.23 292.73 632.50 291.55 631.70 290.30 C630.90 289.05 629.98 287.75 629.30 286.50 C628.62 285.25 627.93 284.05 627.60 282.80 C627.27 281.55 627.30 280.25 627.30 279.00 C627.30 277.75 627.42 276.55 627.60 275.30 C627.78 274.05 628.07 272.77 628.40 271.50 C628.73 270.23 629.23 268.95 629.60 267.70 C629.97 266.45 630.35 265.25 630.60 264.00 C630.85 262.75 631.18 262.08 631.10 260.20 C631.02 258.32 630.35 255.22 630.10 252.70 C629.85 250.18 629.60 246.88 629.60 245.10 C629.60 243.32 629.82 243.03 630.10 242.00 C630.38 240.97 630.77 239.95 631.30 238.90 C631.83 237.85 632.57 236.75 633.30 235.70 C634.03 234.65 634.85 233.55 635.70 232.60 C636.55 231.65 637.45 230.83 638.40 230.00 C639.35 229.17 640.90 228.00 641.40 227.60 Z" fill="#65c5c2"/>
<line x1="649.90" y1="227.60" x2="649.90" y2="297.90" stroke="#333" stroke-width="0.5"/>
<rect x="648.45" y="247.60" width="2.9" height="35.20" fill="#000"/>
<circle cx="649.90" cy="268.20" r="0.95" fill="#fff"/>
<rect x="558.60" y="217.30" width="124.60" height="95.70" fill="none" stroke="#c4c4c4" stroke-width="0.9"/>
<line x1="556.10" y1="310.10" x2="558.60" y2="310.10" stroke="#333" stroke-width="0.7"/>
<text x="554.30" y="312.70" text-anchor="end" font-size="7.3" fill="#4d4d4d">3.0</text>
<line x1="556.10" y1="295.25" x2="558.60" y2="295.25" stroke="#333" stroke-width="0.7"/>
<text x="554.30" y="297.85" text-anchor="end" font-size="7.3" fill="#4d4d4d">3.5</text>
<line x1="556.10" y1="280.40" x2="558.60" y2="280.40" stroke="#333" stroke-width="0.7"/>
<text x="554.30" y="283.00" text-anchor="end" font-size="7.3" fill="#4d4d4d">4.0</text>
<line x1="556.10" y1="265.55" x2="558.60" y2="265.55" stroke="#333" stroke-width="0.7"/>
<text x="554.30" y="268.15" text-anchor="end" font-size="7.3" fill="#4d4d4d">4.5</text>
<line x1="556.10" y1="250.70" x2="558.60" y2="250.70" stroke="#333" stroke-width="0.7"/>
<text x="554.30" y="253.30" text-anchor="end" font-size="7.3" fill="#4d4d4d">5.0</text>
<line x1="556.10" y1="235.85" x2="558.60" y2="235.85" stroke="#333" stroke-width="0.7"/>
<text x="554.30" y="238.45" text-anchor="end" font-size="7.3" fill="#4d4d4d">5.5</text>
<line x1="556.10" y1="221.00" x2="558.60" y2="221.00" stroke="#333" stroke-width="0.7"/>
<text x="554.30" y="223.60" text-anchor="end" font-size="7.3" fill="#4d4d4d">6.0</text>
<line x1="592.50" y1="313.00" x2="592.50" y2="315.50" stroke="#333" stroke-width="0.7"/>
<text x="575.30" y="330.80" font-size="6.75" fill="#3a3a3a">Europe</text>
<line x1="650.30" y1="313.00" x2="650.30" y2="315.50" stroke="#333" stroke-width="0.7"/>
<text x="652.60" y="330.80" font-size="6.75" fill="#3a3a3a">India</text>
<text x="587.50" y="213.50" font-size="10.4" font-weight="bold" fill="#000">P = 1.1 x 10<tspan font-size="6.6" dy="-3.8">-5</tspan></text>
<text transform="translate(544.40 265.15) rotate(-90)" text-anchor="middle" font-size="7" fill="#1a1a1a">HITChip (log 10)</text>
<text x="426.3" y="30.4" font-size="13" font-weight="bold"><tspan font-style="italic">Prevotella melaninogenica</tspan> et rel.</text>
<text x="485.4" y="192.5" font-size="13" font-weight="bold" font-style="italic">Bifidobacterium</text>
<rect x="452.2" y="345.3" width="12.4" height="11" fill="#4aab9f" stroke="#4b6a7a" stroke-width="0.8"/>
<text x="470.7" y="355.5" font-size="11.4" font-weight="bold">Indian</text>
<rect x="528.4" y="345.3" width="12.4" height="11" fill="#f53a1c" stroke="#6a6a80" stroke-width="0.8"/>
<text x="546.4" y="355.5" font-size="11.4" font-weight="bold">European</text>
</svg>
</body></html>
